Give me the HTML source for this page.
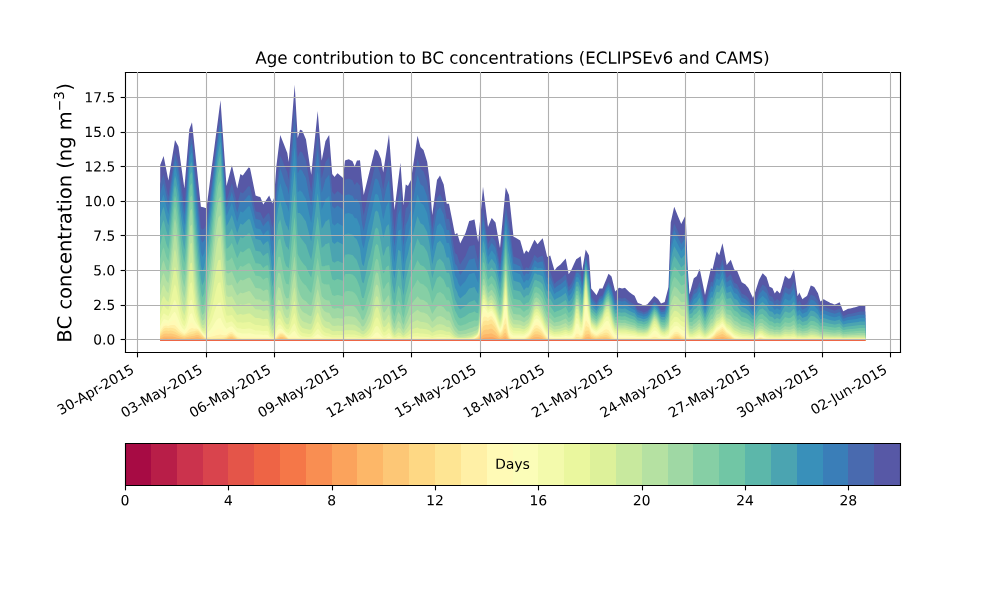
<!DOCTYPE html>
<html><head><meta charset="utf-8"><title>chart</title><style>html,body{margin:0;padding:0;background:#fff;width:1000px;height:600px;overflow:hidden}</style></head><body>
<svg width="1000" height="600" viewBox="0 0 720 432" style="display:block">
<defs>
<style type="text/css">*{stroke-linejoin: round; stroke-linecap: butt}</style>
</defs>
<g id="figure_1">
<g id="patch_1">
<path d="M 0 432 
L 720 432 
L 720 0 
L 0 0 
z
" style="fill: #ffffff"/>
</g>
<g id="axes_1">
<g id="patch_2">
<path d="M 90 253.44 
L 648 253.44 
L 648 51.84 
L 90 51.84 
z
" style="fill: #ffffff"/>
</g><g transform="scale(0.72)"><path d="M160.2 341.00L160.2 164.9L162.2 159.7L163.6 156.1L164.2 159.1L166.2 169.3L168.2 179.4L168.4 180.4L170.2 169.4L172.2 157.1L174.2 144.9L175.0 140.0L176.2 142.3L178.2 146.1L178.5 146.7L180.2 158.7L182.2 172.9L184.2 187.0L184.4 188.4L186.2 166.8L188.2 142.7L189.3 129.5L190.2 127.1L192.0 122.3L192.2 124.2L194.2 143.2L196.2 162.2L198.2 181.2L200.2 200.2L200.9 206.8L202.2 207.1L204.2 207.6L205.2 207.9L206.2 208.0L206.5 208.0L208.2 194.9L210.2 179.5L212.2 164.1L214.2 148.7L216.2 133.3L218.2 117.9L220.2 102.5L220.5 100.2L222.2 124.5L224.2 153.1L226.2 181.7L226.5 186.0L228.2 179.5L230.2 171.7L231.9 165.2L232.2 166.5L234.2 175.3L236.2 184.0L237.2 188.4L238.2 183.9L240.2 174.9L240.4 174.0L242.2 175.2L242.8 175.6L244.2 173.6L246.2 170.7L248.2 167.9L248.4 167.6L250.0 168.0L250.2 169.0L252.2 178.8L254.2 188.7L255.6 195.6L256.2 195.8L258.2 196.5L260.2 197.1L260.4 197.2L262.2 201.7L263.3 204.4L264.2 203.1L266.2 200.1L268.2 197.1L269.2 195.6L270.2 198.1L272.2 203.1L272.4 203.6L274.0 198.0L274.2 195.3L276.2 168.7L276.4 166.0L278.2 151.3L280.2 135.0L282.2 140.1L284.2 145.1L286.2 150.2L287.3 153.0L288.2 158.8L288.7 162.0L290.2 142.7L292.2 116.9L294.2 91.2L294.7 84.8L296.2 111.4L297.7 138.0L298.2 136.2L300.0 129.7L300.2 129.8L302.2 130.5L304.2 135.2L306.0 139.5L306.2 140.9L308.2 154.4L310.2 167.9L311.2 174.7L312.2 164.9L314.2 145.3L316.2 125.7L317.7 111.0L318.2 117.2L320.2 141.9L321.7 160.5L322.2 157.9L324.2 147.7L325.5 141.0L326.2 139.9L328.2 136.6L329.2 135.0L330.2 148.0L332.2 174.0L334.2 176.6L334.5 177.0L336.2 174.8L337.5 173.2L338.2 173.8L340.2 175.5L342.0 177.0L342.2 177.2L343.0 178.0L344.2 167.5L345.0 160.5L346.2 160.1L348.2 159.5L348.7 159.3L350.2 160.1L352.2 161.0L352.5 161.2L354.2 165.3L354.7 166.5L356.2 162.6L357.0 160.5L358.2 160.4L360.0 160.2L360.2 162.2L361.5 175.5L362.2 181.7L363.7 195.0L364.2 193.0L366.2 184.9L368.2 176.8L370.2 168.7L372.2 160.5L374.2 152.4L375.0 149.2L376.2 150.1L378.0 151.5L378.2 152.0L380.2 157.0L381.0 159.0L382.2 166.4L383.2 172.5L384.2 165.9L386.2 152.7L388.2 139.5L389.0 134.2L390.2 150.7L392.2 178.3L394.2 205.9L394.5 210.0L396.2 196.6L398.2 180.8L400.2 165.1L400.5 162.7L402.2 187.0L403.5 205.5L404.2 198.8L405.7 184.5L406.2 184.8L408.0 186.0L408.2 185.6L410.2 181.6L411.0 180.0L412.2 171.8L414.2 158.2L416.2 144.6L417.5 135.7L418.2 138.3L420.2 145.9L420.5 147.0L422.2 148.7L423.5 150.0L424.2 152.3L426.2 158.8L427.2 162.0L428.2 169.8L429.5 180.0L430.2 189.1L432.2 215.0L434.2 200.4L436.2 185.8L437.0 180.0L438.2 178.2L440.0 175.5L440.2 176.0L442.2 180.9L443.7 184.5L444.2 187.7L446.2 200.5L446.7 203.7L448.2 203.7L449.0 203.7L450.2 209.9L452.2 220.1L454.2 230.4L455.0 234.5L456.2 233.7L457.2 233.0L458.2 236.5L460.2 243.5L462.2 239.5L464.2 235.6L465.5 233.0L466.2 230.7L468.2 224.2L469.2 221.0L470.2 220.7L472.2 220.2L474.2 219.6L474.5 219.5L476.2 229.8L478.2 242.0L480.2 219.0L482.2 195.9L483.0 186.7L484.2 196.4L486.2 212.5L488.0 227.0L488.2 226.5L490.2 221.6L491.7 218.0L492.2 218.6L494.2 221.0L495.5 222.5L496.2 226.5L498.2 237.8L500.0 248.0L500.2 245.9L502.2 224.6L504.2 203.4L505.7 187.5L506.2 188.6L508.2 193.2L509.0 195.0L510.2 206.1L512.2 224.7L513.5 236.7L514.2 237.1L516.2 238.1L516.5 238.2L518.2 239.3L520.2 240.5L522.2 247.6L524.0 254.0L524.2 253.7L526.2 250.2L528.2 252.2L528.5 252.5L530.2 248.9L532.2 244.6L534.2 240.3L534.5 239.7L536.2 242.3L537.5 244.2L538.2 243.4L540.2 241.1L542.2 238.8L542.7 238.2L544.2 244.5L546.2 252.8L547.2 257.0L548.2 256.5L550.2 255.5L552.2 262.5L554.2 269.5L554.5 270.5L556.2 268.2L556.7 267.5L558.2 266.3L560.2 264.7L560.5 264.5L562.2 262.5L564.2 260.2L565.7 258.5L566.2 261.1L568.2 271.6L568.7 274.2L570.2 271.8L571.0 270.5L572.2 267.9L574.2 263.5L576.2 259.2L578.2 257.9L580.2 256.5L580.7 256.2L582.2 270.5L584.2 258.5L585.7 249.5L586.2 250.4L588.2 254.0L589.0 255.5L590.2 273.5L591.2 288.5L592.2 289.8L594.2 292.3L596.2 294.8L596.5 295.2L598.2 291.4L599.5 288.5L600.2 288.5L602.2 288.5L602.5 288.5L604.2 284.3L606.2 279.4L608.2 274.5L608.5 273.8L610.2 275.3L611.5 276.5L612.2 279.3L614.2 287.4L615.2 291.5L616.2 290.5L616.7 290.0L618.2 288.5L619.0 287.7L620.2 288.0L622.0 288.5L622.2 288.4L624.2 287.9L625.0 287.7L626.2 288.9L628.2 290.9L629.5 292.2L630.2 292.7L632.2 294.2L634.2 295.6L634.7 296.0L636.2 299.4L637.7 302.7L638.2 302.9L640.2 303.7L641.5 304.2L642.2 304.7L643.7 305.7L644.2 305.5L646.2 304.7L647.5 304.2L648.2 303.3L650.2 300.9L652.2 298.4L654.2 296.0L656.2 297.6L658.0 299.0L658.2 299.3L660.2 302.3L661.0 303.5L662.2 303.0L664.2 302.2L664.7 302.0L666.2 296.1L668.2 288.2L668.5 287.0L670.2 237.2L670.7 222.5L672.2 215.7L674.2 206.7L676.2 211.7L677.5 215.0L678.2 216.7L680.2 221.6L681.2 224.0L682.2 222.0L684.2 218.0L685.7 215.0L686.2 228.1L687.7 267.5L688.2 275.0L689.5 294.5L690.2 291.8L692.2 284.2L693.7 278.5L694.2 278.1L696.2 276.6L696.7 276.2L698.2 272.4L699.7 268.7L700.2 271.2L702.0 280.0L702.2 281.0L704.2 291.0L705.0 295.0L706.2 289.6L708.2 280.6L710.2 271.6L711.0 268.0L712.2 269.2L712.5 269.5L714.2 262.2L716.2 253.6L716.7 251.5L718.2 253.7L719.2 255.2L720.2 251.6L722.2 244.3L722.5 243.2L724.2 252.0L726.2 262.4L726.7 265.0L728.2 263.1L730.2 260.5L730.8 259.7L732.2 263.7L734.2 269.5L736.2 270.5L737.2 271.0L738.2 273.5L740.2 278.5L741.7 282.2L742.2 282.5L744.2 283.7L745.5 284.5L746.2 285.4L748.2 287.8L748.5 288.2L750.2 291.9L752.2 296.3L753.0 298.0L754.2 294.7L755.2 292.0L756.2 288.8L758.2 282.5L759.0 280.0L760.2 277.8L762.2 274.1L762.7 273.2L764.2 274.7L766.2 276.7L766.5 277.0L768.2 282.5L769.5 286.7L770.2 287.1L772.2 288.1L772.5 288.2L774.2 292.3L774.7 293.5L776.2 291.5L777.0 290.5L778.2 291.7L780.0 293.5L780.2 292.8L782.2 285.7L784.2 278.6L785.0 275.8L786.2 276.8L788.2 278.5L788.6 278.8L790.2 278.3L790.4 278.2L792.2 273.7L794.0 269.2L794.2 270.7L795.8 282.4L796.2 285.5L797.6 296.2L798.2 295.0L799.4 292.6L800.2 294.4L802.2 298.8L802.4 299.2L804.2 297.8L806.2 296.4L807.2 295.6L808.2 292.8L810.2 287.1L810.8 285.4L812.2 286.1L814.2 287.1L814.4 287.2L816.2 290.2L818.0 293.2L818.2 293.9L820.2 300.9L820.4 301.6L822.2 300.2L823.4 299.2L824.2 299.6L826.2 300.7L828.2 301.8L830.0 302.8L830.2 302.9L832.2 303.6L834.2 304.4L834.8 304.6L836.2 303.9L838.2 302.9L839.6 302.2L840.2 303.7L842.2 308.7L843.2 311.2L844.2 310.7L846.2 309.7L848.0 308.8L848.2 308.8L850.2 308.4L852.2 308.0L854.0 307.6L854.2 307.5L856.2 306.9L858.2 306.3L860.0 305.8L860.2 305.8L862.2 305.8L864.2 305.8L865.3 305.8L865.3 341.00Z" fill="#5758a6"/><path d="M160.2 341.00L160.2 184.1L162.2 178.1L163.6 174.5L164.2 177.3L166.2 186.9L168.2 195.9L168.4 196.7L170.2 185.2L172.2 171.2L174.2 157.6L175.0 152.9L176.2 155.7L178.2 162.4L178.5 163.4L180.2 177.1L182.2 191.8L184.2 204.9L184.4 206.1L186.2 186.0L188.2 160.2L189.3 144.9L190.2 140.7L192.0 136.5L192.2 138.6L194.2 161.5L196.2 182.0L198.2 201.8L200.2 220.8L200.9 227.5L202.2 229.7L204.2 228.5L205.2 226.5L206.2 224.5L206.5 224.0L208.2 209.4L210.2 194.3L212.2 178.4L214.2 162.0L216.2 145.6L218.2 130.5L220.2 117.0L220.5 115.2L222.2 139.9L224.2 168.7L226.2 196.4L226.5 200.4L228.2 195.2L230.2 188.8L231.9 183.1L232.2 184.3L234.2 192.5L236.2 200.5L237.2 204.5L238.2 200.6L240.2 192.7L240.4 191.9L242.2 193.0L242.8 193.3L244.2 191.6L246.2 189.0L248.2 186.5L248.4 186.2L250.0 186.6L250.2 187.5L252.2 196.3L254.2 205.1L255.6 211.2L256.2 211.4L258.2 212.0L260.2 212.6L260.4 212.6L262.2 216.6L263.3 219.1L264.2 217.9L266.2 215.2L268.2 212.9L269.2 213.4L270.2 217.6L272.2 226.7L272.4 227.6L274.0 221.1L274.2 218.2L276.2 189.0L276.4 186.0L278.2 170.9L280.2 155.7L282.2 160.1L284.2 164.9L286.2 169.7L287.3 172.1L288.2 177.1L288.7 179.8L290.2 161.6L292.2 136.8L294.2 112.6L294.7 106.8L296.2 132.1L297.7 157.4L298.2 156.2L300.0 151.4L300.2 151.5L302.2 152.6L304.2 157.0L306.0 160.8L306.2 162.0L308.2 174.1L310.2 186.0L311.2 192.0L312.2 182.9L314.2 164.5L316.2 146.0L317.7 132.3L318.2 137.9L320.2 160.8L321.7 178.2L322.2 176.1L324.2 167.6L325.5 161.9L326.2 161.0L328.2 158.2L329.2 156.8L330.2 168.4L332.2 191.7L334.2 194.0L334.5 194.4L336.2 192.4L337.5 191.0L338.2 191.5L340.2 193.0L342.0 194.4L342.2 194.5L343.0 195.3L344.2 185.9L345.0 179.6L346.2 179.3L348.2 178.7L348.7 178.5L350.2 179.2L352.2 180.1L352.5 180.2L354.2 183.9L354.7 185.0L356.2 182.9L357.0 182.0L358.2 183.4L360.0 185.5L360.2 187.5L361.5 200.5L362.2 206.1L363.7 215.5L364.2 213.1L366.2 203.5L368.2 194.0L370.2 186.2L372.2 177.9L374.2 169.0L375.0 165.5L376.2 165.8L378.0 167.1L378.2 167.6L380.2 173.5L381.0 175.9L382.2 183.4L383.2 189.4L384.2 183.8L386.2 172.2L388.2 163.6L389.0 160.5L390.2 177.7L392.2 206.3L394.2 228.4L394.5 231.3L396.2 216.4L398.2 199.0L400.2 190.2L400.5 189.0L402.2 213.7L403.5 229.9L404.2 223.2L405.7 208.6L406.2 208.0L408.0 206.0L408.2 205.3L410.2 199.0L411.0 197.6L412.2 190.4L414.2 178.3L416.2 166.3L417.5 158.5L418.2 160.9L420.2 167.6L420.5 168.6L422.2 170.2L423.5 171.3L424.2 173.3L426.2 179.1L427.2 182.0L428.2 188.9L429.5 198.0L430.2 206.0L432.2 229.1L434.2 216.1L436.2 203.1L437.0 198.0L438.2 196.4L440.0 194.0L440.2 194.4L442.2 198.7L443.7 202.0L444.2 204.8L446.2 216.2L446.7 219.0L448.2 219.0L449.0 219.0L450.2 224.8L452.2 236.8L454.2 248.4L455.0 252.9L456.2 253.9L457.2 254.8L458.2 258.7L460.2 264.2L462.2 261.1L464.2 257.9L465.5 255.9L466.2 254.1L468.2 249.0L469.2 246.4L470.2 246.1L472.2 245.6L474.2 244.9L474.5 244.8L476.2 252.7L478.2 261.7L480.2 240.7L482.2 218.3L483.0 209.5L484.2 217.2L486.2 231.4L488.0 244.0L488.2 243.5L490.2 239.4L491.7 236.4L492.2 237.0L494.2 239.6L495.5 241.4L496.2 245.0L498.2 255.2L500.0 264.2L500.2 262.4L502.2 244.5L504.2 222.5L505.7 206.7L506.2 208.8L508.2 219.2L509.0 221.9L510.2 231.6L512.2 246.8L513.5 256.5L514.2 256.8L516.2 257.6L516.5 257.8L518.2 258.6L520.2 259.6L522.2 265.3L524.0 270.4L524.2 270.1L526.2 267.1L528.2 268.3L528.5 268.5L530.2 264.9L532.2 260.3L534.2 255.5L534.5 254.8L536.2 256.4L537.5 258.0L538.2 257.4L540.2 256.4L542.2 255.7L542.7 255.5L544.2 261.4L546.2 268.9L547.2 272.5L548.2 272.2L550.2 271.6L552.2 277.4L554.2 283.0L554.5 283.9L556.2 282.0L556.7 281.5L558.2 280.5L560.2 279.2L560.5 279.1L562.2 277.5L564.2 275.6L565.7 274.2L566.2 276.3L568.2 284.8L568.7 286.9L570.2 284.9L571.0 283.9L572.2 281.6L574.2 276.8L576.2 269.8L578.2 269.1L580.2 271.0L580.7 271.1L582.2 282.4L584.2 267.3L585.7 256.2L586.2 257.5L588.2 265.6L589.0 267.9L590.2 283.7L591.2 296.6L592.2 297.8L594.2 300.2L596.2 302.4L596.5 302.8L598.2 299.5L599.5 296.8L600.2 296.6L602.2 295.7L602.5 295.6L604.2 291.0L606.2 286.1L608.2 282.2L608.5 281.7L610.2 284.4L611.5 286.4L612.2 289.3L614.2 297.0L615.2 300.5L616.2 299.9L616.7 299.5L618.2 298.4L619.0 297.8L620.2 298.0L622.0 298.4L622.2 298.4L624.2 298.0L625.0 297.8L626.2 298.8L628.2 300.4L629.5 301.5L630.2 301.9L632.2 303.1L634.2 304.2L634.7 304.5L636.2 307.2L637.7 310.0L638.2 310.1L640.2 310.8L641.5 311.2L642.2 311.6L643.7 312.4L644.2 312.2L646.2 311.5L647.5 310.9L648.2 310.1L650.2 307.4L652.2 304.3L654.2 301.4L656.2 302.9L658.0 304.9L658.2 305.2L660.2 308.7L661.0 310.0L662.2 309.9L664.2 309.5L664.7 309.3L666.2 304.6L668.2 298.0L668.5 296.8L670.2 253.4L670.7 240.1L672.2 231.6L674.2 223.4L676.2 227.7L677.5 230.5L678.2 232.1L680.2 236.5L681.2 238.7L682.2 237.1L684.2 233.8L685.7 231.3L686.2 242.8L687.7 277.1L688.2 283.8L689.5 301.6L690.2 299.9L692.2 295.1L693.7 290.4L694.2 290.1L696.2 288.6L696.7 288.2L698.2 285.0L699.7 281.9L700.2 283.9L702.0 291.4L702.2 292.2L704.2 300.5L705.0 303.8L706.2 299.4L708.2 292.0L710.2 284.5L711.0 281.4L712.2 282.2L712.5 282.4L714.2 276.2L716.2 268.7L716.7 266.8L718.2 268.3L719.2 269.4L720.2 266.3L722.2 260.1L722.5 259.2L724.2 266.7L726.2 275.6L726.7 277.9L728.2 276.5L730.2 274.8L730.8 274.3L732.2 277.8L734.2 282.8L736.2 283.8L737.2 284.3L738.2 286.4L740.2 290.5L741.7 293.5L742.2 293.8L744.2 294.8L745.5 295.4L746.2 296.1L748.2 298.1L748.5 298.4L750.2 301.4L752.2 304.9L753.0 306.3L754.2 303.6L755.2 301.3L756.2 298.5L758.2 292.8L759.0 290.5L760.2 288.4L762.2 285.2L762.7 284.4L764.2 285.6L766.2 287.3L766.5 287.5L768.2 292.2L769.5 295.7L770.2 296.0L772.2 296.8L772.5 296.9L774.2 300.3L774.7 301.4L776.2 299.7L777.0 298.8L778.2 299.8L780.0 301.4L780.2 300.8L782.2 294.8L784.2 288.9L785.0 286.6L786.2 287.4L788.2 288.8L788.6 289.1L790.2 288.6L790.4 288.6L792.2 284.8L794.0 281.1L794.2 282.3L795.8 292.1L796.2 294.6L797.6 303.6L798.2 302.6L799.4 300.6L800.2 302.1L802.2 305.7L802.4 306.1L804.2 305.0L806.2 303.7L807.2 303.1L808.2 300.7L810.2 296.0L810.8 294.6L812.2 295.2L814.2 296.0L814.4 296.1L816.2 298.6L818.0 301.1L818.2 301.7L820.2 307.5L820.4 308.1L822.2 306.9L823.4 306.1L824.2 306.5L826.2 307.4L828.2 308.3L830.0 309.1L830.2 309.2L832.2 309.8L834.2 310.4L834.8 310.6L836.2 310.0L838.2 309.2L839.6 308.6L840.2 309.9L842.2 314.0L843.2 316.1L844.2 315.7L846.2 314.9L848.0 314.1L848.2 314.1L850.2 313.8L852.2 313.4L854.0 313.1L854.2 313.1L856.2 312.6L858.2 312.1L860.0 311.6L860.2 311.6L862.2 311.6L864.2 311.6L865.3 311.6L865.3 341.00Z" fill="#496aaf"/><path d="M160.2 341.00L160.2 193.6L162.2 187.1L163.6 183.6L164.2 186.2L166.2 195.6L168.2 204.0L168.4 204.7L170.2 193.0L172.2 178.1L174.2 163.9L175.0 159.2L176.2 162.4L178.2 170.4L178.5 171.7L180.2 186.2L182.2 201.1L184.2 213.7L184.4 214.9L186.2 195.4L188.2 168.9L189.3 152.5L190.2 147.4L192.0 143.5L192.2 145.8L194.2 170.5L196.2 191.8L198.2 212.5L200.2 232.1L200.9 239.0L202.2 242.7L204.2 240.2L205.2 236.5L206.2 233.1L206.5 232.2L208.2 216.4L210.2 201.5L212.2 185.4L214.2 168.4L216.2 151.6L218.2 136.6L220.2 124.1L220.5 122.5L222.2 147.4L224.2 176.2L226.2 203.5L226.5 207.5L228.2 202.9L230.2 197.0L231.9 191.8L232.2 193.0L234.2 200.8L236.2 208.6L237.2 212.4L238.2 208.7L240.2 201.3L240.4 200.6L242.2 201.6L242.8 202.0L244.2 200.3L246.2 197.9L248.2 195.5L248.4 195.3L250.0 195.6L250.2 196.4L252.2 204.7L254.2 213.0L255.6 218.8L256.2 219.0L258.2 219.5L260.2 220.1L260.4 220.2L262.2 223.9L263.3 226.2L264.2 225.1L266.2 222.6L268.2 220.6L269.2 222.4L270.2 227.9L272.2 240.1L272.4 241.4L274.0 234.0L274.2 230.8L276.2 199.2L276.4 196.0L278.2 181.2L280.2 168.2L282.2 173.9L284.2 180.4L286.2 185.7L287.3 187.8L288.2 192.1L288.7 194.4L290.2 177.1L292.2 153.0L294.2 130.2L294.7 125.0L296.2 149.0L297.7 173.3L298.2 172.5L300.0 169.1L300.2 169.3L302.2 170.8L304.2 174.8L306.0 178.3L306.2 179.4L308.2 190.2L310.2 200.9L311.2 206.1L312.2 197.7L314.2 180.3L316.2 162.6L317.7 149.7L318.2 154.9L320.2 176.3L321.7 192.7L322.2 191.0L324.2 183.9L325.5 179.0L326.2 178.3L328.2 175.9L329.2 174.6L330.2 185.2L332.2 206.2L334.2 208.3L334.5 208.6L336.2 206.8L337.5 205.5L338.2 206.0L340.2 207.4L342.0 208.6L342.2 208.7L343.0 209.4L344.2 200.9L345.0 195.3L346.2 195.0L348.2 194.4L348.7 194.3L350.2 194.9L352.2 195.7L352.5 195.8L354.2 199.1L354.7 200.1L356.2 199.2L357.0 199.1L358.2 201.3L360.0 204.8L360.2 206.8L361.5 219.2L362.2 224.3L363.7 231.1L364.2 228.6L366.2 218.3L368.2 208.1L370.2 200.6L372.2 192.1L374.2 182.6L375.0 178.9L376.2 178.6L378.0 179.9L378.2 180.4L380.2 187.0L381.0 189.8L382.2 197.3L383.2 203.3L384.2 198.4L386.2 188.0L388.2 181.8L389.0 180.0L390.2 197.1L392.2 225.4L394.2 244.2L394.5 246.3L396.2 231.3L398.2 213.9L400.2 208.9L400.5 208.3L402.2 232.2L403.5 246.4L404.2 239.8L405.7 225.1L406.2 224.0L408.0 220.0L408.2 219.2L410.2 211.6L411.0 210.3L412.2 203.7L414.2 192.8L416.2 181.9L417.5 174.9L418.2 177.1L420.2 183.3L420.5 184.2L422.2 185.6L423.5 186.6L424.2 188.5L426.2 193.7L427.2 196.3L428.2 202.7L429.5 210.9L430.2 218.2L432.2 239.2L434.2 227.4L436.2 215.6L437.0 210.9L438.2 209.4L440.0 207.2L440.2 207.6L442.2 211.6L443.7 214.5L444.2 217.1L446.2 227.4L446.7 230.0L448.2 230.0L449.0 230.0L450.2 235.4L452.2 247.4L454.2 259.0L455.0 263.4L456.2 265.0L457.2 266.4L458.2 270.3L460.2 275.0L462.2 272.3L464.2 269.7L465.5 267.9L466.2 266.4L468.2 261.9L469.2 259.7L470.2 259.4L472.2 258.9L474.2 258.2L474.5 258.1L476.2 264.7L478.2 271.9L480.2 250.8L482.2 227.6L483.0 218.6L484.2 224.9L486.2 238.1L488.0 249.9L488.2 249.5L490.2 245.6L491.7 242.9L492.2 243.5L494.2 246.1L495.5 248.0L496.2 251.5L498.2 261.3L500.0 269.9L500.2 268.3L502.2 251.5L504.2 229.3L505.7 213.5L506.2 215.9L508.2 228.3L509.0 231.3L510.2 240.5L512.2 254.5L513.5 263.5L514.2 263.8L516.2 264.5L516.5 264.6L518.2 265.4L520.2 266.3L522.2 271.5L524.0 276.1L524.2 275.9L526.2 273.0L528.2 274.0L528.5 274.1L530.2 270.5L532.2 265.8L534.2 260.9L534.5 260.1L536.2 261.3L537.5 262.8L538.2 262.4L540.2 261.8L542.2 261.6L542.7 261.6L544.2 267.4L546.2 274.6L547.2 278.0L548.2 277.8L550.2 277.3L552.2 282.6L554.2 287.8L554.5 288.6L556.2 286.9L556.7 286.4L558.2 285.5L560.2 284.3L560.5 284.2L562.2 282.7L564.2 280.9L565.7 279.6L566.2 281.5L568.2 289.2L568.7 291.2L570.2 289.3L571.0 288.4L572.2 286.2L574.2 281.2L576.2 273.3L578.2 272.7L580.2 275.7L580.7 275.9L582.2 286.2L584.2 270.1L585.7 258.3L586.2 259.7L588.2 269.2L589.0 271.7L590.2 286.9L591.2 299.1L592.2 300.3L594.2 302.6L596.2 304.8L596.5 305.1L598.2 301.9L599.5 299.3L600.2 299.0L602.2 297.9L602.5 297.7L604.2 293.1L606.2 288.0L608.2 284.5L608.5 284.1L610.2 287.1L611.5 289.4L612.2 292.3L614.2 299.8L615.2 303.3L616.2 302.7L616.7 302.4L618.2 301.4L619.0 300.8L620.2 301.0L622.0 301.4L622.2 301.4L624.2 301.0L625.0 300.8L626.2 301.7L628.2 303.2L629.5 304.2L630.2 304.6L632.2 305.7L634.2 306.8L634.7 307.1L636.2 309.6L637.7 312.1L638.2 312.3L640.2 312.9L641.5 313.3L642.2 313.6L643.7 314.4L644.2 314.2L646.2 313.5L647.5 312.9L648.2 312.1L650.2 309.3L652.2 306.1L654.2 303.0L656.2 304.5L658.0 306.6L658.2 307.0L660.2 310.6L661.0 311.9L662.2 311.9L664.2 311.6L664.7 311.5L666.2 307.1L668.2 300.9L668.5 299.8L670.2 258.8L670.7 246.1L672.2 237.5L674.2 229.7L676.2 233.7L677.5 236.4L678.2 237.8L680.2 242.1L681.2 244.3L682.2 242.8L684.2 239.8L685.7 237.4L686.2 248.3L687.7 280.6L688.2 287.1L689.5 304.2L690.2 302.8L692.2 298.9L693.7 294.6L694.2 294.3L696.2 292.8L696.7 292.4L698.2 289.3L699.7 286.5L700.2 288.4L702.0 295.3L702.2 296.1L704.2 303.8L705.0 306.8L706.2 302.8L708.2 295.9L710.2 289.0L711.0 286.1L712.2 286.8L712.5 286.9L714.2 281.0L716.2 273.9L716.7 272.1L718.2 273.4L719.2 274.4L720.2 271.4L722.2 265.6L722.5 264.8L724.2 271.8L726.2 280.2L726.7 282.3L728.2 281.2L730.2 279.8L730.8 279.4L732.2 282.7L734.2 287.5L736.2 288.5L737.2 288.9L738.2 290.8L740.2 294.6L741.7 297.4L742.2 297.7L744.2 298.6L745.5 299.2L746.2 299.8L748.2 301.7L748.5 301.9L750.2 304.7L752.2 307.9L753.0 309.2L754.2 306.7L755.2 304.6L756.2 302.0L758.2 296.9L759.0 294.8L760.2 293.0L762.2 290.4L762.7 289.8L764.2 291.2L766.2 292.9L766.5 293.1L768.2 297.3L769.5 300.4L770.2 300.7L772.2 301.5L772.5 301.6L774.2 304.6L774.7 305.5L776.2 304.1L777.0 303.3L778.2 304.2L780.0 305.5L780.2 305.0L782.2 299.7L784.2 294.4L785.0 292.3L786.2 293.1L788.2 294.3L788.6 294.5L790.2 294.2L790.4 294.1L792.2 290.7L794.0 287.4L794.2 288.5L795.8 297.2L796.2 299.5L797.6 307.5L798.2 306.6L799.4 304.9L800.2 306.2L802.2 309.5L802.4 309.8L804.2 308.8L806.2 307.7L807.2 307.1L808.2 305.0L810.2 300.7L810.8 299.5L812.2 300.0L814.2 300.7L814.4 300.8L816.2 303.1L818.0 305.3L818.2 305.8L820.2 311.1L820.4 311.6L822.2 310.5L823.4 309.8L824.2 310.1L826.2 310.9L828.2 311.7L830.0 312.5L830.2 312.5L832.2 313.1L834.2 313.6L834.8 313.8L836.2 313.3L838.2 312.5L839.6 312.0L840.2 313.1L842.2 316.9L843.2 318.7L844.2 318.4L846.2 317.6L848.0 317.0L848.2 316.9L850.2 316.6L852.2 316.3L854.0 316.1L854.2 316.0L856.2 315.6L858.2 315.1L860.0 314.7L860.2 314.7L862.2 314.7L864.2 314.7L865.3 314.7L865.3 341.00Z" fill="#3a7eb8"/><path d="M160.2 341.00L160.2 204.8L162.2 198.0L163.6 194.4L164.2 196.9L166.2 206.0L168.2 213.7L168.4 214.3L170.2 202.3L172.2 186.4L174.2 171.4L175.0 166.8L176.2 170.3L178.2 179.9L178.5 181.6L180.2 197.0L182.2 212.2L184.2 224.3L184.4 225.3L186.2 206.7L188.2 179.2L189.3 161.6L190.2 155.4L192.0 151.8L192.2 154.3L194.2 181.2L196.2 203.6L198.2 225.1L200.2 245.0L200.9 251.9L202.2 257.0L204.2 253.4L205.2 248.1L206.2 243.3L206.5 241.9L208.2 224.9L210.2 210.3L212.2 193.9L214.2 176.3L216.2 159.0L218.2 144.0L220.2 132.8L220.5 131.4L222.2 156.6L224.2 185.5L226.2 212.2L226.5 216.0L228.2 212.2L230.2 207.1L231.9 202.5L232.2 203.6L234.2 211.0L236.2 218.4L237.2 222.0L238.2 218.6L240.2 211.8L240.4 211.2L242.2 212.2L242.8 212.5L244.2 211.0L246.2 208.8L248.2 206.5L248.4 206.3L250.0 206.6L250.2 207.4L252.2 215.1L254.2 222.7L255.6 228.1L256.2 228.2L258.2 228.7L260.2 229.3L260.4 229.3L262.2 232.8L263.3 234.9L264.2 233.9L266.2 231.5L268.2 230.0L269.2 233.2L270.2 239.9L272.2 255.0L272.4 256.7L274.0 248.6L274.2 245.2L276.2 211.4L276.4 208.1L278.2 193.7L280.2 183.3L282.2 190.5L284.2 198.7L286.2 204.6L287.3 206.3L288.2 209.9L288.7 211.7L290.2 195.4L292.2 172.3L294.2 151.0L294.7 146.4L296.2 169.1L297.7 192.2L298.2 191.9L300.0 190.1L300.2 190.4L302.2 192.2L304.2 195.9L306.0 199.0L306.2 199.9L308.2 209.3L310.2 218.5L311.2 222.8L312.2 215.2L314.2 199.0L316.2 182.2L317.7 170.4L318.2 175.0L320.2 194.6L321.7 209.9L322.2 208.6L324.2 203.2L325.5 199.3L326.2 198.7L328.2 196.9L329.2 195.8L330.2 205.0L332.2 223.3L334.2 225.2L334.5 225.4L336.2 223.9L337.5 222.7L338.2 223.2L340.2 224.4L342.0 225.4L342.2 225.6L343.0 226.1L344.2 218.7L345.0 213.8L346.2 213.5L348.2 213.1L348.7 213.0L350.2 213.5L352.2 214.2L352.5 214.3L354.2 217.2L354.7 218.0L356.2 218.2L357.0 218.8L358.2 221.8L360.0 226.3L360.2 228.1L361.5 239.6L362.2 244.1L363.7 248.4L364.2 245.9L366.2 235.4L368.2 224.8L370.2 217.7L372.2 208.9L374.2 198.7L375.0 194.7L376.2 193.8L378.0 195.0L378.2 195.6L380.2 203.0L381.0 206.2L382.2 213.9L383.2 219.7L384.2 215.8L386.2 206.6L388.2 202.7L389.0 201.8L390.2 218.3L392.2 245.6L394.2 261.0L394.5 262.5L396.2 248.0L398.2 231.1L400.2 229.6L400.5 229.6L402.2 251.7L403.5 263.7L404.2 257.4L405.7 243.4L406.2 241.7L408.0 236.2L408.2 235.2L410.2 226.4L411.0 225.4L412.2 219.6L414.2 210.1L416.2 200.5L417.5 194.3L418.2 196.3L420.2 201.9L420.5 202.7L422.2 203.9L423.5 204.8L424.2 206.5L426.2 211.1L427.2 213.4L428.2 219.0L429.5 226.2L430.2 232.7L432.2 251.2L434.2 240.8L436.2 230.4L437.0 226.2L438.2 224.9L440.0 223.0L440.2 223.4L442.2 226.8L443.7 229.4L444.2 231.7L446.2 240.8L446.7 243.1L448.2 243.1L449.0 243.1L450.2 248.0L452.2 259.8L454.2 271.0L455.0 275.3L456.2 277.4L457.2 279.2L458.2 282.9L460.2 286.8L462.2 284.6L464.2 282.4L465.5 280.9L466.2 279.6L468.2 276.0L469.2 274.1L470.2 273.9L472.2 273.3L474.2 272.6L474.5 272.4L476.2 277.7L478.2 283.0L480.2 262.1L482.2 238.2L483.0 229.0L484.2 233.9L486.2 245.9L488.0 256.9L488.2 256.5L490.2 252.9L491.7 250.4L492.2 251.0L494.2 253.8L495.5 255.8L496.2 259.1L498.2 268.5L500.0 276.5L500.2 275.1L502.2 259.7L504.2 237.1L505.7 221.4L506.2 224.2L508.2 239.0L509.0 242.4L510.2 250.9L512.2 263.6L513.5 271.6L514.2 271.9L516.2 272.6L516.5 272.7L518.2 273.4L520.2 274.1L522.2 278.8L524.0 282.9L524.2 282.6L526.2 279.9L528.2 280.6L528.5 280.6L530.2 277.1L532.2 272.3L534.2 267.1L534.5 266.4L536.2 267.1L537.5 268.5L538.2 268.2L540.2 268.1L542.2 268.6L542.7 268.7L544.2 274.3L546.2 281.2L547.2 284.3L548.2 284.2L550.2 283.9L552.2 288.7L554.2 293.4L554.5 294.1L556.2 292.6L556.7 292.1L558.2 291.4L560.2 290.3L560.5 290.1L562.2 288.7L564.2 287.1L565.7 285.9L566.2 287.6L568.2 294.5L568.7 296.2L570.2 294.5L571.0 293.6L572.2 291.6L574.2 286.3L576.2 277.3L578.2 277.0L580.2 281.2L580.7 281.5L582.2 290.7L584.2 273.4L585.7 260.7L586.2 262.3L588.2 273.5L589.0 276.3L590.2 290.6L591.2 302.0L592.2 303.2L594.2 305.4L596.2 307.5L596.5 307.7L598.2 304.8L599.5 302.2L600.2 301.8L602.2 300.4L602.5 300.2L604.2 295.4L606.2 290.4L608.2 287.1L608.5 286.8L610.2 290.2L611.5 292.9L612.2 295.8L614.2 303.2L615.2 306.4L616.2 306.0L616.7 305.7L618.2 304.8L619.0 304.3L620.2 304.6L622.0 304.9L622.2 304.9L624.2 304.5L625.0 304.4L626.2 305.2L628.2 306.6L629.5 307.5L630.2 307.8L632.2 308.8L634.2 309.8L634.7 310.1L636.2 312.4L637.7 314.7L638.2 314.8L640.2 315.4L641.5 315.7L642.2 316.0L643.7 316.7L644.2 316.6L646.2 315.9L647.5 315.2L648.2 314.4L650.2 311.6L652.2 308.1L654.2 304.9L656.2 306.3L658.0 308.7L658.2 309.1L660.2 312.9L661.0 314.2L662.2 314.3L664.2 314.2L664.7 314.1L666.2 310.1L668.2 304.4L668.5 303.3L670.2 265.2L670.7 253.3L672.2 244.8L674.2 237.4L676.2 241.0L677.5 243.5L678.2 244.9L680.2 248.9L681.2 251.0L682.2 249.7L684.2 247.0L685.7 244.9L686.2 255.0L687.7 285.0L688.2 291.0L689.5 307.2L690.2 306.1L692.2 303.3L693.7 299.4L694.2 299.0L696.2 297.6L696.7 297.2L698.2 294.3L699.7 291.8L700.2 293.5L702.0 299.9L702.2 300.6L704.2 307.6L705.0 310.3L706.2 306.7L708.2 300.5L710.2 294.1L711.0 291.5L712.2 292.0L712.5 292.1L714.2 286.6L716.2 279.9L716.7 278.2L718.2 279.3L719.2 280.1L720.2 277.3L722.2 271.9L722.5 271.2L724.2 277.7L726.2 285.5L726.7 287.5L728.2 286.6L730.2 285.5L730.8 285.2L732.2 288.4L734.2 292.8L736.2 293.8L737.2 294.2L738.2 296.0L740.2 299.4L741.7 302.0L742.2 302.2L744.2 303.0L745.5 303.5L746.2 304.1L748.2 305.8L748.5 306.0L750.2 308.5L752.2 311.3L753.0 312.5L754.2 310.2L755.2 308.3L756.2 306.1L758.2 301.5L759.0 299.7L760.2 298.2L762.2 296.2L762.7 295.8L764.2 297.4L766.2 299.1L766.5 299.3L768.2 302.9L769.5 305.7L770.2 305.9L772.2 306.6L772.5 306.7L774.2 309.3L774.7 310.1L776.2 308.8L777.0 308.2L778.2 308.9L780.0 310.1L780.2 309.7L782.2 305.0L784.2 300.4L785.0 298.6L786.2 299.3L788.2 300.3L788.6 300.6L790.2 300.2L790.4 300.2L792.2 297.2L794.0 294.3L794.2 295.3L795.8 302.9L796.2 304.9L797.6 311.9L798.2 311.1L799.4 309.5L800.2 310.7L802.2 313.5L802.4 313.8L804.2 312.9L806.2 312.0L807.2 311.5L808.2 309.6L810.2 306.0L810.8 304.8L812.2 305.3L814.2 306.0L814.4 306.0L816.2 308.0L818.0 309.9L818.2 310.4L820.2 314.9L820.4 315.4L822.2 314.4L823.4 313.8L824.2 314.1L826.2 314.8L828.2 315.5L830.0 316.2L830.2 316.2L832.2 316.7L834.2 317.2L834.8 317.3L836.2 316.9L838.2 316.2L839.6 315.8L840.2 316.7L842.2 320.0L843.2 321.6L844.2 321.3L846.2 320.6L848.0 320.1L848.2 320.0L850.2 319.8L852.2 319.5L854.0 319.3L854.2 319.2L856.2 318.9L858.2 318.5L860.0 318.1L860.2 318.1L862.2 318.1L864.2 318.1L865.3 318.1L865.3 341.00Z" fill="#3990ba"/><path d="M160.2 341.00L160.2 217.6L162.2 210.2L163.6 206.7L164.2 209.1L166.2 217.8L168.2 224.7L168.4 225.2L170.2 212.9L172.2 195.8L174.2 179.9L175.0 175.5L176.2 179.4L178.2 190.8L178.5 192.8L180.2 209.3L182.2 224.8L184.2 236.2L184.4 237.1L186.2 219.5L188.2 191.0L189.3 172.0L190.2 164.6L192.0 161.4L192.2 164.0L194.2 193.5L196.2 216.8L198.2 238.9L200.2 258.8L200.9 265.6L202.2 271.6L204.2 267.3L205.2 260.8L206.2 254.6L206.5 252.9L208.2 234.9L210.2 220.5L212.2 203.8L214.2 185.5L216.2 167.5L218.2 152.8L220.2 142.8L220.5 141.8L222.2 167.3L224.2 196.2L226.2 222.3L226.5 226.0L228.2 223.1L230.2 218.8L231.9 214.8L232.2 215.9L234.2 222.8L236.2 229.7L237.2 233.1L238.2 230.1L240.2 224.1L240.4 223.4L242.2 224.4L242.8 224.7L244.2 223.3L246.2 221.3L248.2 219.3L248.4 219.1L250.0 219.4L250.2 220.1L252.2 227.0L254.2 234.0L255.6 238.8L256.2 238.9L258.2 239.4L260.2 239.9L260.4 239.9L262.2 243.1L263.3 245.0L264.2 244.0L266.2 241.9L268.2 240.9L269.2 245.4L270.2 253.3L272.2 270.5L272.4 272.3L274.0 264.0L274.2 260.6L276.2 225.4L276.4 221.9L278.2 208.2L280.2 200.6L282.2 209.2L284.2 219.1L286.2 225.3L287.3 226.6L288.2 229.4L288.7 230.7L290.2 215.6L292.2 193.4L294.2 173.8L294.7 170.0L296.2 191.1L297.7 212.8L298.2 213.1L300.0 213.1L300.2 213.5L302.2 215.8L304.2 219.1L306.0 221.6L306.2 222.4L308.2 230.3L310.2 237.7L311.2 241.2L312.2 234.4L314.2 219.5L316.2 203.8L317.7 193.0L318.2 197.0L320.2 214.7L321.7 228.8L322.2 228.0L324.2 224.4L325.5 221.5L326.2 221.2L328.2 219.8L329.2 219.0L330.2 226.7L332.2 242.1L334.2 243.7L334.5 243.9L336.2 242.6L337.5 241.6L338.2 242.0L340.2 243.0L342.0 243.9L342.2 244.0L343.0 244.5L344.2 238.3L345.0 234.1L346.2 233.9L348.2 233.5L348.7 233.4L350.2 233.9L352.2 234.5L352.5 234.5L354.2 237.0L354.7 237.7L356.2 238.8L357.0 239.9L358.2 243.3L360.0 248.4L360.2 250.0L361.5 260.2L362.2 263.9L363.7 266.3L364.2 263.8L366.2 253.6L368.2 243.1L370.2 236.4L372.2 227.4L374.2 216.4L375.0 212.0L376.2 210.5L378.0 211.7L378.2 212.3L380.2 220.6L381.0 224.2L382.2 232.0L383.2 237.7L384.2 234.8L386.2 227.0L388.2 224.6L389.0 224.5L390.2 239.9L392.2 265.3L394.2 277.7L394.5 278.6L396.2 265.4L398.2 249.7L400.2 250.9L400.5 251.3L402.2 270.9L403.5 280.5L404.2 274.9L405.7 262.0L406.2 260.1L408.0 253.4L408.2 252.4L410.2 243.0L411.0 242.1L412.2 237.2L414.2 229.2L416.2 221.1L417.5 215.9L418.2 217.7L420.2 222.5L420.5 223.2L422.2 224.2L423.5 225.0L424.2 226.4L426.2 230.3L427.2 232.3L428.2 237.1L429.5 243.2L430.2 248.8L432.2 264.5L434.2 255.6L436.2 246.8L437.0 243.2L438.2 242.2L440.0 240.5L440.2 240.8L442.2 243.8L443.7 246.0L444.2 247.9L446.2 255.7L446.7 257.6L448.2 257.6L449.0 257.6L450.2 261.9L452.2 273.2L454.2 283.7L455.0 287.7L456.2 290.1L457.2 292.1L458.2 295.5L460.2 298.5L462.2 296.8L464.2 295.1L465.5 293.9L466.2 292.9L468.2 290.0L469.2 288.6L470.2 288.3L472.2 287.8L474.2 287.0L474.5 286.8L476.2 290.6L478.2 294.1L480.2 273.8L482.2 249.5L483.0 240.2L484.2 243.6L486.2 254.4L488.0 264.5L488.2 264.2L490.2 260.8L491.7 258.7L492.2 259.3L494.2 262.2L495.5 264.3L496.2 267.5L498.2 276.4L500.0 283.8L500.2 282.5L502.2 268.6L504.2 245.7L505.7 230.1L506.2 233.2L508.2 250.7L509.0 254.5L510.2 262.4L512.2 273.6L513.5 280.6L514.2 280.8L516.2 281.4L516.5 281.5L518.2 282.1L520.2 282.7L522.2 286.7L524.0 290.3L524.2 290.0L526.2 287.5L528.2 287.8L528.5 287.8L530.2 284.3L532.2 279.4L534.2 274.0L534.5 273.2L536.2 273.5L537.5 274.7L538.2 274.5L540.2 275.0L542.2 276.2L542.7 276.5L544.2 282.0L546.2 288.4L547.2 291.3L548.2 291.3L550.2 291.2L552.2 295.4L554.2 299.5L554.5 300.2L556.2 298.8L556.7 298.4L558.2 297.8L560.2 296.8L560.5 296.7L562.2 295.4L564.2 293.9L565.7 292.8L566.2 294.2L568.2 300.2L568.7 301.7L570.2 300.2L571.0 299.3L572.2 297.5L574.2 291.9L576.2 281.8L578.2 281.7L580.2 287.2L580.7 287.7L582.2 295.6L584.2 277.0L585.7 263.4L586.2 265.2L588.2 278.1L589.0 281.2L590.2 294.7L591.2 305.2L592.2 306.3L594.2 308.5L596.2 310.4L596.5 310.7L598.2 307.9L599.5 305.4L600.2 304.9L602.2 303.2L602.5 302.9L604.2 298.0L606.2 292.9L608.2 290.1L608.5 289.9L610.2 293.7L611.5 296.7L612.2 299.6L614.2 306.8L615.2 309.9L616.2 309.6L616.7 309.4L618.2 308.6L619.0 308.2L620.2 308.4L622.0 308.7L622.2 308.7L624.2 308.4L625.0 308.2L626.2 309.0L628.2 310.2L629.5 311.0L630.2 311.3L632.2 312.2L634.2 313.1L634.7 313.3L636.2 315.4L637.7 317.5L638.2 317.6L640.2 318.1L641.5 318.4L642.2 318.7L643.7 319.3L644.2 319.1L646.2 318.5L647.5 317.8L648.2 317.0L650.2 314.0L652.2 310.4L654.2 307.0L656.2 308.4L658.0 311.0L658.2 311.4L660.2 315.3L661.0 316.7L662.2 317.0L664.2 317.0L664.7 316.9L666.2 313.3L668.2 308.2L668.5 307.2L670.2 272.5L670.7 261.5L672.2 253.2L674.2 246.3L676.2 249.4L677.5 251.7L678.2 253.0L680.2 256.9L681.2 258.8L682.2 257.7L684.2 255.4L685.7 253.6L686.2 262.7L687.7 290.1L688.2 295.7L689.5 310.7L690.2 310.0L692.2 308.1L693.7 304.6L694.2 304.3L696.2 302.8L696.7 302.4L698.2 299.8L699.7 297.5L700.2 299.1L702.0 304.8L702.2 305.5L704.2 311.7L705.0 314.1L706.2 310.9L708.2 305.5L710.2 299.7L711.0 297.3L712.2 297.7L712.5 297.8L714.2 292.6L716.2 286.4L716.7 284.9L718.2 285.6L719.2 286.2L720.2 283.7L722.2 278.8L722.5 278.1L724.2 284.1L726.2 291.3L726.7 293.1L728.2 292.5L730.2 291.8L730.8 291.5L732.2 294.5L734.2 298.6L736.2 299.6L737.2 300.0L738.2 301.6L740.2 304.7L741.7 306.9L742.2 307.1L744.2 307.8L745.5 308.3L746.2 308.8L748.2 310.2L748.5 310.4L750.2 312.6L752.2 315.1L753.0 316.1L754.2 314.1L755.2 312.4L756.2 310.5L758.2 306.5L759.0 304.9L760.2 303.7L762.2 302.3L762.7 302.1L764.2 303.8L766.2 305.4L766.5 305.6L768.2 308.8L769.5 311.1L770.2 311.3L772.2 311.8L772.5 311.9L774.2 314.2L774.7 314.8L776.2 313.8L777.0 313.2L778.2 313.9L780.0 314.8L780.2 314.5L782.2 310.6L784.2 306.7L785.0 305.1L786.2 305.6L788.2 306.6L788.6 306.7L790.2 306.5L790.4 306.4L792.2 303.9L794.0 301.5L794.2 302.3L795.8 308.7L796.2 310.4L797.6 316.3L798.2 315.7L799.4 314.3L800.2 315.3L802.2 317.7L802.4 318.0L804.2 317.2L806.2 316.4L807.2 316.0L808.2 314.4L810.2 311.3L810.8 310.4L812.2 310.8L814.2 311.3L814.4 311.4L816.2 313.0L818.0 314.7L818.2 315.1L820.2 318.9L820.4 319.3L822.2 318.5L823.4 318.0L824.2 318.2L826.2 318.8L828.2 319.4L830.0 320.0L830.2 320.0L832.2 320.4L834.2 320.8L834.8 321.0L836.2 320.6L838.2 320.0L839.6 319.6L840.2 320.5L842.2 323.2L843.2 324.6L844.2 324.3L846.2 323.8L848.0 323.3L848.2 323.2L850.2 323.0L852.2 322.8L854.0 322.6L854.2 322.6L856.2 322.2L858.2 321.9L860.0 321.6L860.2 321.6L862.2 321.6L864.2 321.6L865.3 321.6L865.3 341.00Z" fill="#4ba4b1"/><path d="M160.2 341.00L160.2 231.4L162.2 223.4L163.6 219.9L164.2 222.1L166.2 230.5L168.2 236.6L168.4 236.9L170.2 224.3L172.2 206.0L174.2 189.3L175.0 185.0L176.2 189.2L178.2 202.6L178.5 204.9L180.2 222.6L182.2 238.4L184.2 249.0L184.4 249.8L186.2 233.3L188.2 203.7L189.3 183.3L190.2 174.6L192.0 171.8L192.2 174.7L194.2 206.7L196.2 231.0L198.2 253.3L200.2 272.5L200.9 278.9L202.2 285.4L204.2 280.9L205.2 273.7L206.2 266.7L206.5 264.6L208.2 245.9L210.2 231.8L212.2 214.9L214.2 195.8L216.2 177.2L218.2 162.6L220.2 154.2L220.5 153.5L222.2 179.2L224.2 208.2L226.2 233.5L226.5 237.0L228.2 235.1L230.2 231.7L231.9 228.4L232.2 229.4L234.2 235.9L236.2 242.2L237.2 245.3L238.2 242.8L240.2 237.5L240.4 237.0L242.2 237.9L242.8 238.2L244.2 237.0L246.2 235.2L248.2 233.4L248.4 233.3L250.0 233.5L250.2 234.1L252.2 240.2L254.2 246.4L255.6 250.7L256.2 250.8L258.2 251.2L260.2 251.6L260.4 251.7L262.2 254.4L263.3 256.1L264.2 255.3L266.2 253.4L268.2 252.8L269.2 258.6L270.2 267.2L272.2 285.4L272.4 287.3L274.0 279.2L274.2 275.8L276.2 240.5L276.4 236.8L278.2 224.1L280.2 219.3L282.2 228.9L284.2 240.0L286.2 246.4L287.3 247.3L288.2 249.2L288.7 250.0L290.2 236.1L292.2 215.0L294.2 197.1L294.7 194.0L296.2 213.6L297.7 233.9L298.2 234.8L300.0 236.6L300.2 237.0L302.2 239.7L304.2 242.6L306.0 244.7L306.2 245.3L308.2 251.6L310.2 257.3L311.2 259.9L312.2 253.9L314.2 240.3L316.2 225.8L317.7 216.2L318.2 219.5L320.2 235.2L321.7 248.0L322.2 247.6L324.2 245.9L325.5 244.1L326.2 244.0L328.2 243.2L329.2 242.5L330.2 248.8L332.2 261.2L334.2 262.5L334.5 262.7L336.2 261.6L337.5 260.9L338.2 261.1L340.2 261.9L342.0 262.7L342.2 262.8L343.0 263.1L344.2 258.1L345.0 254.8L346.2 254.6L348.2 254.3L348.7 254.2L350.2 254.6L352.2 255.0L352.5 255.1L354.2 257.1L354.7 257.7L356.2 259.3L357.0 260.8L358.2 264.2L360.0 269.4L360.2 270.8L361.5 279.3L362.2 282.3L363.7 283.2L364.2 281.0L366.2 271.7L368.2 261.7L370.2 255.4L372.2 246.2L374.2 234.4L375.0 229.8L376.2 227.5L378.0 228.7L378.2 229.3L380.2 238.5L381.0 242.6L382.2 250.4L383.2 256.0L384.2 254.1L386.2 247.7L388.2 246.0L389.0 246.4L390.2 260.1L392.2 283.1L394.2 292.9L394.5 293.5L396.2 282.0L398.2 268.2L400.2 271.2L400.5 271.7L402.2 288.2L403.5 295.6L404.2 290.8L405.7 279.6L406.2 277.6L408.0 270.6L408.2 269.6L410.2 260.1L411.0 259.4L412.2 255.5L414.2 248.9L416.2 242.5L417.5 238.3L418.2 239.8L420.2 243.9L420.5 244.5L422.2 245.3L423.5 245.9L424.2 247.1L426.2 250.3L427.2 251.9L428.2 255.8L429.5 260.9L430.2 265.4L432.2 278.3L434.2 271.0L436.2 263.8L437.0 260.9L438.2 260.0L440.0 258.6L440.2 258.9L442.2 261.3L443.7 263.1L444.2 264.7L446.2 271.1L446.7 272.7L448.2 272.7L449.0 272.7L450.2 276.3L452.2 286.7L454.2 296.1L455.0 299.6L456.2 302.1L457.2 304.2L458.2 307.1L460.2 309.4L462.2 308.1L464.2 306.8L465.5 305.9L466.2 305.2L468.2 303.0L469.2 301.9L470.2 301.7L472.2 301.1L474.2 300.2L474.5 300.1L476.2 302.6L478.2 304.5L480.2 285.0L482.2 260.8L483.0 251.5L484.2 253.5L486.2 263.2L488.0 272.4L488.2 272.1L490.2 269.1L491.7 267.3L492.2 267.9L494.2 270.9L495.5 273.1L496.2 276.1L498.2 284.5L500.0 291.3L500.2 290.2L502.2 277.9L504.2 254.6L505.7 239.0L506.2 242.6L508.2 262.8L509.0 267.0L510.2 274.2L512.2 283.8L513.5 289.8L514.2 290.0L516.2 290.5L516.5 290.6L518.2 291.1L520.2 291.6L522.2 295.0L524.0 297.9L524.2 297.7L526.2 295.4L528.2 295.3L528.5 295.2L530.2 291.8L532.2 286.7L534.2 281.0L534.5 280.2L536.2 280.1L537.5 281.1L538.2 281.0L540.2 282.1L542.2 284.0L542.7 284.5L544.2 289.9L546.2 295.9L547.2 298.5L548.2 298.7L550.2 298.7L552.2 302.3L554.2 305.9L554.5 306.4L556.2 305.3L556.7 304.9L558.2 304.4L560.2 303.6L560.5 303.4L562.2 302.3L564.2 300.9L565.7 299.9L566.2 301.1L568.2 306.1L568.7 307.4L570.2 306.0L571.0 305.3L572.2 303.6L574.2 297.7L576.2 286.4L578.2 286.6L580.2 293.4L580.7 294.0L582.2 300.7L584.2 280.7L585.7 266.2L586.2 268.2L588.2 282.9L589.0 286.3L590.2 298.9L591.2 308.5L592.2 309.6L594.2 311.7L596.2 313.5L596.5 313.7L598.2 311.1L599.5 308.7L600.2 308.1L602.2 306.0L602.5 305.7L604.2 300.6L606.2 295.5L608.2 293.1L608.5 293.0L610.2 297.3L611.5 300.6L612.2 303.6L614.2 310.6L615.2 313.5L616.2 313.3L616.7 313.1L618.2 312.5L619.0 312.1L620.2 312.4L622.0 312.7L622.2 312.6L624.2 312.4L625.0 312.2L626.2 312.9L628.2 314.0L629.5 314.7L630.2 314.9L632.2 315.7L634.2 316.5L634.7 316.7L636.2 318.5L637.7 320.3L638.2 320.4L640.2 320.9L641.5 321.1L642.2 321.4L643.7 321.9L644.2 321.8L646.2 321.1L647.5 320.5L648.2 319.7L650.2 316.6L652.2 312.7L654.2 309.1L656.2 310.5L658.0 313.3L658.2 313.7L660.2 317.9L661.0 319.2L662.2 319.7L664.2 319.8L664.7 319.8L666.2 316.7L668.2 312.2L668.5 311.2L670.2 280.3L670.7 270.4L672.2 262.5L674.2 256.1L676.2 258.8L677.5 260.8L678.2 262.0L680.2 265.6L681.2 267.5L682.2 266.6L684.2 264.7L685.7 263.1L686.2 271.3L687.7 295.7L688.2 300.7L689.5 314.5L690.2 314.0L692.2 312.9L693.7 309.9L694.2 309.6L696.2 308.2L696.7 307.8L698.2 305.4L699.7 303.4L700.2 304.8L702.0 309.9L702.2 310.5L704.2 316.0L705.0 318.0L706.2 315.3L708.2 310.6L710.2 305.5L711.0 303.4L712.2 303.5L712.5 303.5L714.2 298.9L716.2 293.2L716.7 291.7L718.2 292.2L719.2 292.6L720.2 290.3L722.2 285.9L722.5 285.3L724.2 290.6L726.2 297.2L726.7 298.9L728.2 298.5L730.2 298.2L730.8 298.1L732.2 300.8L734.2 304.5L736.2 305.6L737.2 306.0L738.2 307.4L740.2 310.0L741.7 311.9L742.2 312.1L744.2 312.8L745.5 313.2L746.2 313.6L748.2 314.8L748.5 315.0L750.2 316.8L752.2 318.9L753.0 319.8L754.2 318.1L755.2 316.6L756.2 314.9L758.2 311.5L759.0 310.2L760.2 309.2L762.2 308.4L762.7 308.3L764.2 310.0L766.2 311.6L766.5 311.8L768.2 314.4L769.5 316.3L770.2 316.5L772.2 317.0L772.5 317.0L774.2 318.9L774.7 319.4L776.2 318.5L777.0 318.1L778.2 318.6L780.0 319.4L780.2 319.1L782.2 315.9L784.2 312.7L785.0 311.4L786.2 311.8L788.2 312.6L788.6 312.8L790.2 312.5L790.4 312.5L792.2 310.4L794.0 308.4L794.2 309.1L795.8 314.4L796.2 315.8L797.6 320.7L798.2 320.1L799.4 319.0L800.2 319.8L802.2 321.8L802.4 322.0L804.2 321.4L806.2 320.7L807.2 320.4L808.2 319.1L810.2 316.5L810.8 315.8L812.2 316.1L814.2 316.5L814.4 316.6L816.2 317.9L818.0 319.3L818.2 319.6L820.2 322.8L820.4 323.1L822.2 322.5L823.4 322.0L824.2 322.2L826.2 322.7L828.2 323.2L830.0 323.7L830.2 323.7L832.2 324.0L834.2 324.4L834.8 324.5L836.2 324.2L838.2 323.7L839.6 323.4L840.2 324.1L842.2 326.3L843.2 327.5L844.2 327.2L846.2 326.8L848.0 326.4L848.2 326.4L850.2 326.2L852.2 326.0L854.0 325.8L854.2 325.8L856.2 325.5L858.2 325.3L860.0 325.0L860.2 325.0L862.2 325.0L864.2 325.0L865.3 325.0L865.3 341.00Z" fill="#5cb7aa"/><path d="M160.2 341.00L160.2 245.5L162.2 237.1L163.6 233.6L164.2 235.6L166.2 243.6L168.2 248.8L168.4 249.0L170.2 236.2L172.2 216.8L174.2 199.4L175.0 195.2L176.2 199.8L178.2 215.0L178.5 217.6L180.2 236.3L182.2 252.3L184.2 262.1L184.4 262.8L186.2 247.5L188.2 216.9L189.3 195.3L190.2 185.4L192.0 183.1L192.2 186.1L194.2 220.4L196.2 245.5L198.2 267.3L200.2 285.2L200.9 291.1L202.2 297.6L204.2 293.4L205.2 286.2L206.2 278.7L206.5 276.4L208.2 257.5L210.2 243.9L212.2 226.7L214.2 207.0L216.2 187.9L218.2 173.6L220.2 166.8L220.5 166.4L222.2 192.2L224.2 221.0L226.2 245.4L226.5 248.7L228.2 247.8L230.2 245.4L231.9 242.8L232.2 243.7L234.2 249.7L236.2 255.5L237.2 258.3L238.2 256.2L240.2 251.8L240.4 251.3L242.2 252.1L242.8 252.4L244.2 251.3L246.2 249.8L248.2 248.3L248.4 248.2L250.0 248.4L250.2 248.9L252.2 254.2L254.2 259.5L255.6 263.2L256.2 263.3L258.2 263.6L260.2 264.0L260.4 264.0L262.2 266.4L263.3 267.9L264.2 267.1L266.2 265.5L268.2 265.3L269.2 272.0L270.2 280.9L272.2 298.8L272.4 300.5L274.0 293.1L274.2 290.0L276.2 255.9L276.4 252.3L278.2 240.6L280.2 238.3L282.2 248.5L284.2 260.1L286.2 266.3L287.3 266.8L288.2 267.9L288.7 268.2L290.2 255.5L292.2 235.5L294.2 219.4L294.7 217.0L296.2 235.0L297.7 253.9L298.2 255.3L300.0 258.7L300.2 259.2L302.2 262.3L304.2 264.8L306.0 266.4L306.2 266.9L308.2 271.7L310.2 275.8L311.2 277.5L312.2 272.3L314.2 260.1L316.2 246.7L317.7 238.1L318.2 240.9L320.2 254.6L321.7 266.1L322.2 266.3L324.2 266.3L325.5 265.4L326.2 265.6L328.2 265.2L329.2 264.7L330.2 269.6L332.2 279.3L334.2 280.2L334.5 280.4L336.2 279.6L337.5 279.0L338.2 279.2L340.2 279.8L342.0 280.4L342.2 280.4L343.0 280.7L344.2 276.9L345.0 274.3L346.2 274.1L348.2 273.9L348.7 273.8L350.2 274.1L352.2 274.5L352.5 274.5L354.2 276.0L354.7 276.5L356.2 278.4L357.0 279.9L358.2 283.1L360.0 287.8L360.2 288.9L361.5 295.8L362.2 298.0L363.7 298.1L364.2 296.2L366.2 288.2L368.2 279.2L370.2 273.4L372.2 264.0L374.2 251.6L375.0 246.8L376.2 243.9L378.0 245.0L378.2 245.7L380.2 255.5L381.0 260.0L382.2 267.9L383.2 273.3L384.2 272.4L386.2 267.2L388.2 265.5L389.0 265.9L390.2 277.8L392.2 297.9L394.2 305.8L394.5 306.1L396.2 296.8L398.2 285.2L400.2 289.0L400.5 289.6L402.2 302.7L403.5 308.2L404.2 304.3L405.7 295.1L406.2 293.3L408.0 286.6L408.2 285.6L410.2 276.7L411.0 276.2L412.2 273.1L414.2 268.1L416.2 263.1L417.5 260.0L418.2 261.2L420.2 264.6L420.5 265.0L422.2 265.7L423.5 266.2L424.2 267.1L426.2 269.6L427.2 270.9L428.2 273.9L429.5 277.9L430.2 281.5L432.2 291.6L434.2 285.9L436.2 280.2L437.0 277.9L438.2 277.2L440.0 276.1L440.2 276.3L442.2 278.2L443.7 279.7L444.2 280.9L446.2 285.9L446.7 287.2L448.2 287.2L449.0 287.2L450.2 290.2L452.2 299.3L454.2 307.4L455.0 310.4L456.2 312.7L457.2 314.6L458.2 317.0L460.2 318.6L462.2 317.7L464.2 316.8L465.5 316.1L466.2 315.6L468.2 314.0L469.2 313.2L470.2 313.0L472.2 312.4L474.2 311.5L474.5 311.3L476.2 312.8L478.2 313.3L480.2 295.1L482.2 271.2L483.0 262.0L484.2 263.1L486.2 271.8L488.0 280.1L488.2 279.8L490.2 277.1L491.7 275.6L492.2 276.2L494.2 279.3L495.5 281.6L496.2 284.5L498.2 292.3L500.0 298.6L500.2 297.7L502.2 286.8L504.2 263.3L505.7 247.7L506.2 251.7L508.2 274.6L509.0 279.1L510.2 285.7L512.2 293.8L513.5 298.7L514.2 298.9L516.2 299.3L516.5 299.4L518.2 299.8L520.2 300.2L522.2 302.9L524.0 305.3L524.2 305.1L526.2 303.0L528.2 302.6L528.5 302.4L530.2 299.0L532.2 293.8L534.2 287.9L534.5 287.0L536.2 286.4L537.5 287.4L538.2 287.4L540.2 289.0L542.2 291.7L542.7 292.3L544.2 297.5L546.2 303.1L547.2 305.5L548.2 305.8L550.2 305.9L552.2 309.0L554.2 312.0L554.5 312.4L556.2 311.5L556.7 311.2L558.2 310.8L560.2 310.1L560.5 310.0L562.2 308.9L564.2 307.7L565.7 306.8L566.2 307.8L568.2 311.9L568.7 312.9L570.2 311.7L571.0 311.0L572.2 309.5L574.2 303.3L576.2 290.9L578.2 291.3L580.2 299.5L580.7 300.2L582.2 305.6L584.2 284.3L585.7 269.0L586.2 271.1L588.2 287.6L589.0 291.3L590.2 303.0L591.2 311.7L592.2 312.8L594.2 314.8L596.2 316.4L596.5 316.6L598.2 314.2L599.5 311.9L600.2 311.2L602.2 308.8L602.5 308.4L604.2 303.2L606.2 298.1L608.2 296.1L608.5 296.1L610.2 300.8L611.5 304.5L612.2 307.4L614.2 314.3L615.2 316.9L616.2 316.9L616.7 316.8L618.2 316.3L619.0 316.0L620.2 316.2L622.0 316.5L622.2 316.5L624.2 316.2L625.0 316.1L626.2 316.7L628.2 317.6L629.5 318.2L630.2 318.5L632.2 319.1L634.2 319.8L634.7 320.0L636.2 321.6L637.7 323.1L638.2 323.2L640.2 323.6L641.5 323.8L642.2 324.0L643.7 324.5L644.2 324.4L646.2 323.7L647.5 323.1L648.2 322.2L650.2 319.1L652.2 314.9L654.2 311.2L656.2 312.6L658.0 315.5L658.2 316.0L660.2 320.3L661.0 321.7L662.2 322.3L664.2 322.6L664.7 322.6L666.2 319.9L668.2 316.0L668.5 315.2L670.2 288.2L670.7 279.6L672.2 272.3L674.2 266.4L676.2 268.6L677.5 270.4L678.2 271.4L680.2 274.8L681.2 276.5L682.2 275.9L684.2 274.4L685.7 273.1L686.2 280.3L687.7 301.6L688.2 306.0L689.5 318.3L690.2 318.1L692.2 317.7L693.7 315.1L694.2 314.8L696.2 313.4L696.7 313.0L698.2 310.9L699.7 309.2L700.2 310.4L702.0 314.9L702.2 315.4L704.2 320.1L705.0 321.8L706.2 319.6L708.2 315.5L710.2 311.1L711.0 309.2L712.2 309.2L712.5 309.2L714.2 305.0L716.2 299.7L716.7 298.4L718.2 298.6L719.2 298.8L720.2 296.7L722.2 292.8L722.5 292.3L724.2 297.0L726.2 303.0L726.7 304.5L728.2 304.4L730.2 304.4L730.8 304.4L732.2 307.0L734.2 310.3L736.2 311.4L737.2 311.8L738.2 313.0L740.2 315.3L741.7 316.9L742.2 317.0L744.2 317.6L745.5 317.9L746.2 318.3L748.2 319.3L748.5 319.4L750.2 320.9L752.2 322.7L753.0 323.4L754.2 321.9L755.2 320.7L756.2 319.3L758.2 316.3L759.0 315.2L760.2 314.4L762.2 314.0L762.7 314.0L764.2 315.7L766.2 317.3L766.5 317.4L768.2 319.6L769.5 321.1L770.2 321.3L772.2 321.6L772.5 321.7L774.2 323.2L774.7 323.6L776.2 322.9L777.0 322.5L778.2 323.0L780.0 323.6L780.2 323.4L782.2 320.8L784.2 318.2L785.0 317.1L786.2 317.5L788.2 318.1L788.6 318.2L790.2 318.0L790.4 318.0L792.2 316.4L794.0 314.7L794.2 315.3L795.8 319.6L796.2 320.7L797.6 324.6L798.2 324.2L799.4 323.3L800.2 323.9L802.2 325.5L802.4 325.7L804.2 325.2L806.2 324.7L807.2 324.4L808.2 323.3L810.2 321.3L810.8 320.7L812.2 320.9L814.2 321.3L814.4 321.3L816.2 322.4L818.0 323.5L818.2 323.8L820.2 326.3L820.4 326.6L822.2 326.1L823.4 325.7L824.2 325.9L826.2 326.3L828.2 326.7L830.0 327.0L830.2 327.1L832.2 327.3L834.2 327.6L834.8 327.7L836.2 327.4L838.2 327.1L839.6 326.8L840.2 327.4L842.2 329.2L843.2 330.1L844.2 329.9L846.2 329.5L848.0 329.2L848.2 329.2L850.2 329.1L852.2 328.9L854.0 328.8L854.2 328.8L856.2 328.5L858.2 328.3L860.0 328.1L860.2 328.1L862.2 328.1L864.2 328.1L865.3 328.1L865.3 341.00Z" fill="#71c6a5"/><path d="M160.2 341.00L160.2 259.4L162.2 250.6L163.6 247.2L164.2 248.9L166.2 256.4L168.2 260.8L168.4 260.9L170.2 248.0L172.2 228.0L174.2 210.1L175.0 206.1L176.2 211.1L178.2 227.7L178.5 230.6L180.2 249.9L182.2 265.9L184.2 274.9L184.4 275.5L186.2 261.3L188.2 230.5L189.3 208.0L190.2 197.2L192.0 195.2L192.2 198.3L194.2 234.2L196.2 259.6L198.2 280.3L200.2 296.4L200.9 301.6L202.2 307.5L204.2 304.1L205.2 297.4L206.2 290.1L206.5 287.8L208.2 269.4L210.2 256.3L212.2 239.2L214.2 219.2L216.2 199.9L218.2 186.1L220.2 180.8L220.5 180.7L222.2 206.2L224.2 234.4L226.2 257.7L226.5 260.7L228.2 260.7L230.2 259.2L231.9 257.3L232.2 258.1L234.2 263.5L236.2 268.8L237.2 271.3L238.2 269.6L240.2 266.1L240.4 265.7L242.2 266.5L242.8 266.7L244.2 265.8L246.2 264.6L248.2 263.3L248.4 263.2L250.0 263.4L250.2 263.8L252.2 268.2L254.2 272.6L255.6 275.7L256.2 275.8L258.2 276.1L260.2 276.4L260.4 276.5L262.2 278.5L263.3 279.7L264.2 279.1L266.2 277.7L268.2 277.9L269.2 284.9L270.2 293.7L272.2 310.0L272.4 311.5L274.0 305.1L274.2 302.4L276.2 271.0L276.4 267.5L278.2 257.1L280.2 256.7L282.2 266.8L284.2 278.1L286.2 283.8L287.3 284.0L288.2 284.5L288.7 284.4L290.2 272.9L292.2 254.1L294.2 239.6L294.7 237.8L296.2 254.2L297.7 271.7L298.2 273.5L300.0 278.2L300.2 278.8L302.2 282.1L304.2 284.3L306.0 285.5L306.2 285.9L308.2 289.3L310.2 292.1L311.2 293.0L312.2 288.6L314.2 277.6L316.2 265.3L317.7 257.8L318.2 260.0L320.2 272.0L321.7 282.3L322.2 282.8L324.2 284.2L325.5 284.2L326.2 284.5L328.2 284.5L329.2 284.2L330.2 287.9L332.2 295.1L334.2 295.8L334.5 295.9L336.2 295.3L337.5 294.9L338.2 295.0L340.2 295.5L342.0 295.9L342.2 296.0L343.0 296.2L344.2 293.3L345.0 291.4L346.2 291.3L348.2 291.1L348.7 291.0L350.2 291.3L352.2 291.5L352.5 291.6L354.2 292.7L354.7 293.0L356.2 294.9L357.0 296.3L358.2 299.0L360.0 302.9L360.2 303.7L361.5 308.9L362.2 310.5L363.7 310.2L364.2 308.8L366.2 302.3L368.2 294.7L370.2 289.3L372.2 279.9L374.2 267.2L375.0 262.2L376.2 258.8L378.0 259.8L378.2 260.6L380.2 270.9L381.0 275.6L382.2 283.5L383.2 288.7L384.2 288.6L386.2 284.3L388.2 282.1L389.0 282.4L390.2 292.3L392.2 309.5L394.2 315.9L394.5 316.1L396.2 309.1L398.2 299.9L400.2 303.6L400.5 304.2L402.2 314.0L403.5 317.9L404.2 315.0L405.7 307.8L406.2 306.3L408.0 300.4L408.2 299.6L410.2 291.7L411.0 291.4L412.2 289.2L414.2 285.5L416.2 281.9L417.5 279.6L418.2 280.6L420.2 283.3L420.5 283.6L422.2 284.1L423.5 284.5L424.2 285.2L426.2 287.1L427.2 288.0L428.2 290.3L429.5 293.3L430.2 296.0L432.2 303.7L434.2 299.4L436.2 295.0L437.0 293.3L438.2 292.8L440.0 292.0L440.2 292.1L442.2 293.5L443.7 294.6L444.2 295.6L446.2 299.4L446.7 300.3L448.2 300.3L449.0 300.3L450.2 302.6L452.2 310.3L454.2 316.9L455.0 319.3L456.2 321.3L457.2 322.9L458.2 324.7L460.2 325.8L462.2 325.2L464.2 324.6L465.5 324.2L466.2 323.8L468.2 322.7L469.2 322.1L470.2 321.9L472.2 321.3L474.2 320.4L474.5 320.2L476.2 320.8L478.2 320.2L480.2 303.4L482.2 280.2L483.0 271.4L484.2 271.7L486.2 279.6L488.0 287.1L488.2 286.8L490.2 284.4L491.7 283.2L492.2 283.8L494.2 286.9L495.5 289.4L496.2 292.1L498.2 299.5L500.0 305.2L500.2 304.5L502.2 295.0L504.2 271.2L505.7 255.7L506.2 260.1L508.2 285.3L509.0 290.2L510.2 296.2L512.2 302.9L513.5 306.9L514.2 307.0L516.2 307.4L516.5 307.4L518.2 307.8L520.2 308.1L522.2 310.2L524.0 312.0L524.2 311.8L526.2 309.9L528.2 309.2L528.5 309.0L530.2 305.6L532.2 300.2L534.2 294.2L534.5 293.3L536.2 292.3L537.5 293.1L538.2 293.2L540.2 295.3L542.2 298.6L542.7 299.4L544.2 304.5L546.2 309.7L547.2 311.9L548.2 312.2L550.2 312.6L552.2 315.2L554.2 317.6L554.5 317.9L556.2 317.2L556.7 317.0L558.2 316.6L560.2 316.1L560.5 316.0L562.2 315.0L564.2 313.9L565.7 313.1L566.2 313.9L568.2 317.1L568.7 318.0L570.2 316.9L571.0 316.3L572.2 314.8L574.2 308.5L576.2 295.0L578.2 295.6L580.2 305.0L580.7 305.9L582.2 310.1L584.2 287.6L585.7 271.5L586.2 273.8L588.2 291.8L589.0 295.9L590.2 306.7L591.2 314.7L592.2 315.7L594.2 317.7L596.2 319.2L596.5 319.3L598.2 317.1L599.5 314.8L600.2 314.1L602.2 311.4L602.5 310.9L604.2 305.6L606.2 300.4L608.2 298.8L608.5 298.9L610.2 304.0L611.5 308.0L612.2 310.9L614.2 317.6L615.2 320.1L616.2 320.2L616.7 320.1L618.2 319.8L619.0 319.6L620.2 319.7L622.0 320.0L622.2 320.0L624.2 319.8L625.0 319.7L626.2 320.2L628.2 321.0L629.5 321.5L630.2 321.7L632.2 322.3L634.2 322.9L634.7 323.0L636.2 324.3L637.7 325.7L638.2 325.8L640.2 326.1L641.5 326.3L642.2 326.5L643.7 326.8L644.2 326.7L646.2 326.1L647.5 325.4L648.2 324.6L650.2 321.4L652.2 317.0L654.2 313.2L656.2 314.5L658.0 317.6L658.2 318.1L660.2 322.6L661.0 324.0L662.2 324.7L664.2 325.2L664.7 325.2L666.2 322.9L668.2 319.6L668.5 318.9L670.2 296.0L670.7 288.5L672.2 282.0L674.2 276.7L676.2 278.4L677.5 280.0L678.2 280.9L680.2 284.0L681.2 285.6L682.2 285.2L684.2 284.2L685.7 283.2L686.2 289.3L687.7 307.5L688.2 311.3L689.5 322.0L690.2 322.0L692.2 322.1L693.7 319.9L694.2 319.6L696.2 318.2L696.7 317.9L698.2 315.9L699.7 314.5L700.2 315.5L702.0 319.4L702.2 319.9L704.2 323.9L705.0 325.3L706.2 323.5L708.2 320.1L710.2 316.3L711.0 314.6L712.2 314.4L712.5 314.4L714.2 310.6L716.2 305.7L716.7 304.5L718.2 304.4L719.2 304.5L720.2 302.6L722.2 299.2L722.5 298.7L724.2 302.9L726.2 308.3L726.7 309.6L728.2 309.8L730.2 310.2L730.8 310.3L732.2 312.7L734.2 315.7L736.2 316.7L737.2 317.1L738.2 318.2L740.2 320.1L741.7 321.4L742.2 321.5L744.2 322.0L745.5 322.3L746.2 322.6L748.2 323.4L748.5 323.5L750.2 324.7L752.2 326.2L753.0 326.7L754.2 325.5L755.2 324.4L756.2 323.2L758.2 320.6L759.0 319.6L760.2 319.0L762.2 318.9L762.7 319.0L764.2 320.7L766.2 322.1L766.5 322.2L768.2 324.0L769.5 325.2L770.2 325.3L772.2 325.6L772.5 325.7L774.2 326.9L774.7 327.2L776.2 326.6L777.0 326.3L778.2 326.7L780.0 327.2L780.2 327.0L782.2 325.0L784.2 322.9L785.0 322.1L786.2 322.4L788.2 322.9L788.6 323.0L790.2 322.8L790.4 322.8L792.2 321.5L794.0 320.2L794.2 320.6L795.8 324.0L796.2 324.9L797.6 328.0L798.2 327.7L799.4 327.0L800.2 327.5L802.2 328.7L802.4 328.9L804.2 328.5L806.2 328.1L807.2 327.8L808.2 327.0L810.2 325.4L810.8 324.9L812.2 325.1L814.2 325.4L814.4 325.4L816.2 326.3L818.0 327.1L818.2 327.3L820.2 329.4L820.4 329.6L822.2 329.2L823.4 328.9L824.2 329.0L826.2 329.3L828.2 329.6L830.0 329.9L830.2 329.9L832.2 330.2L834.2 330.4L834.8 330.5L836.2 330.2L838.2 330.0L839.6 329.8L840.2 330.2L842.2 331.6L843.2 332.4L844.2 332.2L846.2 331.9L848.0 331.7L848.2 331.7L850.2 331.5L852.2 331.4L854.0 331.3L854.2 331.3L856.2 331.1L858.2 331.0L860.0 330.8L860.2 330.8L862.2 330.8L864.2 330.8L865.3 330.8L865.3 341.00Z" fill="#86cfa5"/><path d="M160.2 341.00L160.2 272.6L162.2 263.6L163.6 260.3L164.2 261.9L166.2 268.7L168.2 272.3L168.4 272.3L170.2 259.8L172.2 239.7L174.2 222.1L175.0 218.4L176.2 223.5L178.2 240.8L178.5 243.8L180.2 263.2L182.2 278.7L184.2 286.8L184.4 287.3L186.2 274.5L188.2 244.2L189.3 221.7L190.2 210.4L192.0 208.8L192.2 211.9L194.2 248.1L196.2 272.9L198.2 291.8L200.2 305.6L200.9 310.0L202.2 315.1L204.2 312.9L205.2 307.2L206.2 300.5L206.5 298.3L208.2 281.1L210.2 268.9L212.2 252.3L214.2 232.6L216.2 213.6L218.2 200.6L220.2 196.7L220.5 196.9L222.2 221.5L224.2 248.4L226.2 269.9L226.5 272.7L228.2 273.4L230.2 272.6L231.9 271.3L232.2 272.1L234.2 276.9L236.2 281.7L237.2 283.9L238.2 282.6L240.2 279.9L240.4 279.6L242.2 280.3L242.8 280.5L244.2 279.8L246.2 278.8L248.2 277.8L248.4 277.7L250.0 277.8L250.2 278.2L252.2 281.8L254.2 285.4L255.6 287.9L256.2 288.0L258.2 288.2L260.2 288.5L260.4 288.5L262.2 290.1L263.3 291.1L264.2 290.6L266.2 289.5L268.2 289.9L269.2 296.9L270.2 304.9L272.2 318.8L272.4 320.0L274.0 314.8L274.2 312.6L276.2 285.1L276.4 281.8L278.2 272.7L280.2 273.6L282.2 283.0L284.2 293.2L286.2 298.2L287.3 298.2L288.2 298.2L288.7 297.9L290.2 287.6L292.2 270.3L294.2 257.5L294.7 256.2L296.2 271.0L297.7 286.8L298.2 288.9L300.0 294.5L300.2 295.0L302.2 298.5L304.2 300.3L306.0 301.2L306.2 301.5L308.2 303.8L310.2 305.5L311.2 305.8L312.2 302.1L314.2 292.4L316.2 281.3L317.7 274.8L318.2 276.5L320.2 286.8L321.7 295.9L322.2 296.7L324.2 299.1L325.5 299.7L326.2 300.1L328.2 300.4L329.2 300.3L330.2 302.9L332.2 308.1L334.2 308.6L334.5 308.7L336.2 308.2L337.5 307.9L338.2 308.0L340.2 308.4L342.0 308.7L342.2 308.7L343.0 308.9L344.2 306.8L345.0 305.4L346.2 305.3L348.2 305.2L348.7 305.2L350.2 305.3L352.2 305.5L352.5 305.6L354.2 306.4L354.7 306.6L356.2 308.2L357.0 309.3L358.2 311.4L360.0 314.4L360.2 315.0L361.5 318.7L362.2 319.8L363.7 319.5L364.2 318.4L366.2 313.5L368.2 307.4L370.2 302.5L372.2 293.4L374.2 280.8L375.0 275.9L376.2 272.3L378.0 273.2L378.2 273.9L380.2 284.3L381.0 289.1L382.2 296.6L383.2 301.5L384.2 302.0L386.2 298.6L388.2 295.6L389.0 295.6L390.2 303.6L392.2 318.0L394.2 323.4L394.5 323.6L396.2 318.6L398.2 311.8L400.2 314.8L400.5 315.2L402.2 322.2L403.5 324.9L404.2 322.9L405.7 317.6L406.2 316.4L408.0 311.7L408.2 311.1L410.2 304.6L411.0 304.4L412.2 302.9L414.2 300.3L416.2 297.9L417.5 296.3L418.2 297.1L420.2 299.2L420.5 299.5L422.2 299.8L423.5 300.1L424.2 300.5L426.2 301.9L427.2 302.6L428.2 304.3L429.5 306.4L430.2 308.4L432.2 313.9L434.2 310.8L436.2 307.6L437.0 306.4L438.2 306.0L440.0 305.4L440.2 305.5L442.2 306.5L443.7 307.3L444.2 308.0L446.2 310.7L446.7 311.4L448.2 311.4L449.0 311.4L450.2 313.2L452.2 319.3L454.2 324.4L455.0 326.2L456.2 327.8L457.2 329.0L458.2 330.4L460.2 331.1L462.2 330.7L464.2 330.2L465.5 330.0L466.2 329.7L468.2 328.9L469.2 328.5L470.2 328.3L472.2 327.8L474.2 326.8L474.5 326.6L476.2 326.6L478.2 325.3L480.2 309.9L482.2 287.6L483.0 279.2L484.2 279.0L486.2 286.3L488.0 293.1L488.2 292.9L490.2 290.7L491.7 289.7L492.2 290.3L494.2 293.5L495.5 296.1L496.2 298.7L498.2 305.7L500.0 311.0L500.2 310.4L502.2 302.1L504.2 278.1L505.7 262.7L506.2 267.4L508.2 294.5L509.0 299.7L510.2 305.2L512.2 310.7L513.5 313.9L514.2 314.0L516.2 314.3L516.5 314.4L518.2 314.6L520.2 314.8L522.2 316.5L524.0 317.8L524.2 317.7L526.2 315.9L528.2 314.9L528.5 314.7L530.2 311.2L532.2 305.8L534.2 299.6L534.5 298.7L536.2 297.3L537.5 298.0L538.2 298.2L540.2 300.8L542.2 304.7L542.7 305.6L544.2 310.5L546.2 315.4L547.2 317.4L548.2 317.8L550.2 318.3L552.2 320.4L554.2 322.4L554.5 322.7L556.2 322.1L556.7 321.9L558.2 321.7L560.2 321.2L560.5 321.1L562.2 320.3L564.2 319.3L565.7 318.5L566.2 319.1L568.2 321.7L568.7 322.3L570.2 321.4L571.0 320.8L572.2 319.5L574.2 312.9L576.2 298.6L578.2 299.4L580.2 309.8L580.7 310.8L582.2 314.0L584.2 290.6L585.7 273.9L586.2 276.3L588.2 295.6L589.0 299.8L590.2 309.9L591.2 317.2L592.2 318.2L594.2 320.1L596.2 321.5L596.5 321.7L598.2 319.6L599.5 317.3L600.2 316.6L602.2 313.6L602.5 313.1L604.2 307.7L606.2 302.6L608.2 301.2L608.5 301.4L610.2 306.8L611.5 311.0L612.2 314.0L614.2 320.6L615.2 322.9L616.2 323.0L616.7 323.0L618.2 322.8L619.0 322.6L620.2 322.8L622.0 323.0L622.2 323.0L624.2 322.8L625.0 322.8L626.2 323.2L628.2 323.9L629.5 324.3L630.2 324.5L632.2 325.0L634.2 325.5L634.7 325.6L636.2 326.8L637.7 327.9L638.2 328.0L640.2 328.2L641.5 328.4L642.2 328.6L643.7 328.9L644.2 328.8L646.2 328.2L647.5 327.5L648.2 326.7L650.2 323.4L652.2 318.9L654.2 315.0L656.2 316.2L658.0 319.5L658.2 320.0L660.2 324.6L661.0 326.0L662.2 326.9L664.2 327.4L664.7 327.4L666.2 325.5L668.2 322.7L668.5 322.2L670.2 303.1L670.7 296.9L672.2 291.4L674.2 286.6L676.2 287.8L677.5 289.1L678.2 290.0L680.2 292.8L681.2 294.3L682.2 294.1L684.2 293.5L685.7 292.8L686.2 298.0L687.7 313.1L688.2 316.4L689.5 325.5L690.2 325.6L692.2 325.9L693.7 324.1L694.2 323.9L696.2 322.5L696.7 322.1L698.2 320.3L699.7 319.2L700.2 320.0L702.0 323.4L702.2 323.8L704.2 327.2L705.0 328.4L706.2 326.9L708.2 324.1L710.2 320.8L711.0 319.3L712.2 319.0L712.5 318.9L714.2 315.5L716.2 311.0L716.7 309.9L718.2 309.6L719.2 309.5L720.2 307.8L722.2 304.7L722.5 304.3L724.2 308.1L726.2 312.9L726.7 314.2L728.2 314.6L730.2 315.2L730.8 315.4L732.2 317.6L734.2 320.4L736.2 321.4L737.2 321.8L738.2 322.7L740.2 324.3L741.7 325.4L742.2 325.5L744.2 325.9L745.5 326.1L746.2 326.4L748.2 327.0L748.5 327.1L750.2 328.1L752.2 329.2L753.0 329.6L754.2 328.6L755.2 327.7L756.2 326.7L758.2 324.3L759.0 323.5L760.2 322.9L762.2 323.0L762.7 323.2L764.2 324.8L766.2 326.1L766.5 326.2L768.2 327.6L769.5 328.6L770.2 328.7L772.2 328.9L772.5 328.9L774.2 329.9L774.7 330.2L776.2 329.7L777.0 329.5L778.2 329.7L780.0 330.2L780.2 330.0L782.2 328.4L784.2 326.8L785.0 326.1L786.2 326.4L788.2 326.7L788.6 326.8L790.2 326.7L790.4 326.7L792.2 325.7L794.0 324.6L794.2 325.0L795.8 327.6L796.2 328.3L797.6 330.8L798.2 330.5L799.4 330.0L800.2 330.4L802.2 331.4L802.4 331.5L804.2 331.2L806.2 330.8L807.2 330.7L808.2 330.0L810.2 328.7L810.8 328.3L812.2 328.5L814.2 328.7L814.4 328.7L816.2 329.4L818.0 330.1L818.2 330.3L820.2 331.9L820.4 332.0L822.2 331.7L823.4 331.5L824.2 331.6L826.2 331.8L828.2 332.1L830.0 332.3L830.2 332.3L832.2 332.5L834.2 332.7L834.8 332.7L836.2 332.6L838.2 332.3L839.6 332.2L840.2 332.5L842.2 333.7L843.2 334.2L844.2 334.1L846.2 333.9L848.0 333.7L848.2 333.7L850.2 333.6L852.2 333.5L854.0 333.4L854.2 333.4L856.2 333.3L858.2 333.1L860.0 333.0L860.2 333.0L862.2 333.0L864.2 333.0L865.3 333.0L865.3 341.00Z" fill="#9fd8a4"/><path d="M160.2 341.00L160.2 284.9L162.2 276.1L163.6 272.9L164.2 274.2L166.2 280.2L168.2 283.1L168.4 283.0L170.2 271.4L172.2 252.4L174.2 235.9L175.0 232.6L176.2 237.5L178.2 254.6L178.5 257.5L180.2 276.0L182.2 290.5L184.2 297.6L184.4 298.0L186.2 286.8L188.2 258.3L189.3 236.9L190.2 225.9L192.0 224.5L192.2 227.5L194.2 261.9L196.2 285.1L198.2 301.4L200.2 313.0L200.9 316.6L202.2 320.8L204.2 319.6L205.2 315.2L206.2 309.6L206.5 307.7L208.2 292.3L210.2 281.3L212.2 266.0L214.2 247.5L216.2 229.7L218.2 217.9L220.2 215.2L220.5 215.5L222.2 238.2L224.2 262.8L226.2 282.0L226.5 284.4L228.2 285.6L230.2 285.2L231.9 284.4L232.2 285.1L234.2 289.4L236.2 293.6L237.2 295.5L238.2 294.7L240.2 292.8L240.4 292.6L242.2 293.2L242.8 293.3L244.2 292.8L246.2 292.0L248.2 291.2L248.4 291.1L250.0 291.3L250.2 291.5L252.2 294.4L254.2 297.2L255.6 299.2L256.2 299.3L258.2 299.4L260.2 299.6L260.4 299.7L262.2 300.9L263.3 301.7L264.2 301.3L266.2 300.5L268.2 301.0L269.2 307.5L270.2 314.5L272.2 325.4L272.4 326.3L274.0 322.3L274.2 320.6L276.2 297.6L276.4 294.8L278.2 286.9L280.2 288.4L282.2 296.6L284.2 305.2L286.2 309.4L287.3 309.4L288.2 309.2L288.7 308.7L290.2 299.8L292.2 284.4L294.2 273.4L294.7 272.5L296.2 285.4L297.7 299.4L298.2 301.5L300.0 307.3L300.2 307.9L302.2 311.2L304.2 312.7L306.0 313.4L306.2 313.5L308.2 315.1L310.2 316.0L311.2 315.9L312.2 312.8L314.2 304.5L316.2 294.7L317.7 289.1L318.2 290.5L320.2 299.2L321.7 307.0L322.2 307.9L324.2 310.9L325.5 311.8L326.2 312.3L328.2 312.8L329.2 312.7L330.2 314.6L332.2 318.2L334.2 318.5L334.5 318.6L336.2 318.3L337.5 318.0L338.2 318.1L340.2 318.4L342.0 318.6L342.2 318.6L343.0 318.7L344.2 317.3L345.0 316.3L346.2 316.3L348.2 316.2L348.7 316.1L350.2 316.3L352.2 316.4L352.5 316.4L354.2 317.0L354.7 317.1L356.2 318.3L357.0 319.1L358.2 320.7L360.0 322.7L360.2 323.1L361.5 325.7L362.2 326.5L363.7 326.2L364.2 325.5L366.2 322.0L368.2 317.3L370.2 313.0L372.2 304.6L374.2 292.7L375.0 288.1L376.2 284.5L378.0 285.4L378.2 286.0L380.2 295.9L381.0 300.4L382.2 307.4L383.2 311.8L384.2 312.7L386.2 309.9L388.2 306.4L389.0 306.1L390.2 312.4L392.2 324.2L394.2 328.7L394.5 328.9L396.2 325.6L398.2 320.8L400.2 323.0L400.5 323.3L402.2 328.0L403.5 329.8L404.2 328.4L405.7 324.8L406.2 324.0L408.0 320.5L408.2 320.0L410.2 315.1L411.0 315.0L412.2 314.0L414.2 312.3L416.2 310.7L417.5 309.7L418.2 310.3L420.2 312.0L420.5 312.1L422.2 312.4L423.5 312.5L424.2 312.8L426.2 313.8L427.2 314.2L428.2 315.4L429.5 316.9L430.2 318.2L432.2 322.1L434.2 319.9L436.2 317.7L437.0 316.8L438.2 316.5L440.0 316.1L440.2 316.1L442.2 316.8L443.7 317.4L444.2 317.8L446.2 319.8L446.7 320.2L448.2 320.2L449.0 320.2L450.2 321.5L452.2 326.1L454.2 329.9L455.0 331.2L456.2 332.3L457.2 333.2L458.2 334.2L460.2 334.6L462.2 334.3L464.2 334.1L465.5 333.9L466.2 333.7L468.2 333.1L469.2 332.8L470.2 332.6L472.2 332.1L474.2 331.1L474.5 330.9L476.2 330.5L478.2 328.7L480.2 314.6L482.2 293.5L483.0 285.4L484.2 285.1L486.2 291.9L488.0 298.0L488.2 297.8L490.2 295.8L491.7 295.1L492.2 295.7L494.2 299.0L495.5 301.6L496.2 304.0L498.2 310.7L500.0 315.7L500.2 315.2L502.2 307.9L504.2 284.0L505.7 268.9L506.2 273.7L508.2 302.2L509.0 307.6L510.2 312.5L512.2 317.1L513.5 319.7L514.2 319.8L516.2 320.0L516.5 320.0L518.2 320.2L520.2 320.4L522.2 321.6L524.0 322.6L524.2 322.4L526.2 320.8L528.2 319.6L528.5 319.3L530.2 315.9L532.2 310.5L534.2 304.1L534.5 303.2L536.2 301.6L537.5 302.2L538.2 302.4L540.2 305.3L542.2 309.6L542.7 310.6L544.2 315.4L546.2 320.1L547.2 321.9L548.2 322.4L550.2 322.9L552.2 324.8L554.2 326.3L554.5 326.6L556.2 326.1L556.7 326.0L558.2 325.8L560.2 325.4L560.5 325.3L562.2 324.6L564.2 323.7L565.7 323.0L566.2 323.4L568.2 325.4L568.7 325.9L570.2 325.1L571.0 324.6L572.2 323.3L574.2 316.7L576.2 301.9L578.2 302.9L580.2 313.8L580.7 314.9L582.2 317.3L584.2 293.4L585.7 276.4L586.2 278.8L588.2 298.9L589.0 303.2L590.2 312.7L591.2 319.4L592.2 320.4L594.2 322.2L596.2 323.5L596.5 323.7L598.2 321.7L599.5 319.5L600.2 318.7L602.2 315.6L602.5 315.0L604.2 309.7L606.2 304.6L608.2 303.5L608.5 303.7L610.2 309.3L611.5 313.7L612.2 316.7L614.2 323.0L615.2 325.2L616.2 325.5L616.7 325.5L618.2 325.4L619.0 325.2L620.2 325.4L622.0 325.6L622.2 325.5L624.2 325.4L625.0 325.3L626.2 325.7L628.2 326.3L629.5 326.7L630.2 326.8L632.2 327.3L634.2 327.7L634.7 327.8L636.2 328.8L637.7 329.8L638.2 329.8L640.2 330.1L641.5 330.2L642.2 330.3L643.7 330.6L644.2 330.5L646.2 330.0L647.5 329.2L648.2 328.5L650.2 325.2L652.2 320.6L654.2 316.7L656.2 317.9L658.0 321.2L658.2 321.7L660.2 326.3L661.0 327.8L662.2 328.7L664.2 329.3L664.7 329.3L666.2 327.7L668.2 325.3L668.5 325.0L670.2 309.4L670.7 304.4L672.2 300.0L674.2 295.6L676.2 296.5L677.5 297.6L678.2 298.3L680.2 300.9L681.2 302.3L682.2 302.3L684.2 302.1L685.7 301.7L686.2 305.9L687.7 318.3L688.2 321.0L689.5 328.6L690.2 328.7L692.2 329.1L693.7 327.6L694.2 327.4L696.2 326.1L696.7 325.7L698.2 324.1L699.7 323.1L700.2 323.9L702.0 326.8L702.2 327.2L704.2 330.0L705.0 331.0L706.2 329.8L708.2 327.4L710.2 324.6L711.0 323.3L712.2 322.9L712.5 322.8L714.2 319.6L716.2 315.5L716.7 314.4L718.2 313.9L719.2 313.8L720.2 312.1L722.2 309.4L722.5 309.1L724.2 312.5L726.2 316.9L726.7 318.0L728.2 318.6L730.2 319.5L730.8 319.7L732.2 321.8L734.2 324.3L736.2 325.4L737.2 325.7L738.2 326.5L740.2 327.9L741.7 328.8L742.2 328.8L744.2 329.2L745.5 329.3L746.2 329.5L748.2 330.1L748.5 330.1L750.2 330.9L752.2 331.8L753.0 332.1L754.2 331.2L755.2 330.5L756.2 329.5L758.2 327.4L759.0 326.6L760.2 326.1L762.2 326.3L762.7 326.5L764.2 328.0L766.2 329.2L766.5 329.3L768.2 330.5L769.5 331.2L770.2 331.3L772.2 331.5L772.5 331.5L774.2 332.3L774.7 332.5L776.2 332.1L777.0 331.9L778.2 332.2L780.0 332.5L780.2 332.4L782.2 331.1L784.2 329.8L785.0 329.3L786.2 329.5L788.2 329.8L788.6 329.9L790.2 329.8L790.4 329.8L792.2 329.0L794.0 328.2L794.2 328.4L795.8 330.5L796.2 331.1L797.6 333.0L798.2 332.8L799.4 332.4L800.2 332.7L802.2 333.5L802.4 333.5L804.2 333.3L806.2 333.0L807.2 332.9L808.2 332.4L810.2 331.4L810.8 331.1L812.2 331.2L814.2 331.4L814.4 331.4L816.2 331.9L818.0 332.5L818.2 332.6L820.2 333.9L820.4 334.0L822.2 333.7L823.4 333.6L824.2 333.6L826.2 333.8L828.2 334.0L830.0 334.2L830.2 334.2L832.2 334.4L834.2 334.5L834.8 334.5L836.2 334.4L838.2 334.2L839.6 334.1L840.2 334.4L842.2 335.3L843.2 335.7L844.2 335.6L846.2 335.5L848.0 335.3L848.2 335.3L850.2 335.2L852.2 335.1L854.0 335.1L854.2 335.1L856.2 335.0L858.2 334.9L860.0 334.8L860.2 334.8L862.2 334.8L864.2 334.8L865.3 334.8L865.3 341.00Z" fill="#b5e1a2"/><path d="M160.2 341.00L160.2 296.1L162.2 287.9L163.6 284.8L164.2 285.8L166.2 290.8L168.2 293.1L168.4 293.0L170.2 282.8L172.2 266.0L174.2 251.6L175.0 248.8L176.2 253.4L178.2 269.0L178.5 271.7L180.2 288.2L182.2 301.0L184.2 307.0L184.4 307.3L186.2 297.9L188.2 272.8L189.3 253.8L190.2 243.8L192.0 242.7L192.2 245.3L194.2 275.8L196.2 295.9L198.2 309.4L200.2 318.6L200.9 321.5L202.2 324.9L204.2 324.8L205.2 321.7L206.2 317.3L206.5 315.7L208.2 302.8L210.2 293.4L212.2 280.1L214.2 263.9L216.2 248.3L218.2 238.2L220.2 236.4L220.5 236.8L222.2 256.4L224.2 277.6L226.2 293.8L226.5 295.7L228.2 296.9L230.2 296.7L231.9 296.3L232.2 296.8L234.2 300.6L236.2 304.3L237.2 306.0L238.2 305.5L240.2 304.3L240.4 304.1L242.2 304.7L242.8 304.8L244.2 304.4L246.2 303.9L248.2 303.2L248.4 303.2L250.0 303.3L250.2 303.5L252.2 305.6L254.2 307.8L255.6 309.3L256.2 309.3L258.2 309.5L260.2 309.6L260.4 309.6L262.2 310.6L263.3 311.2L264.2 310.9L266.2 310.3L268.2 310.8L269.2 316.5L270.2 322.2L272.2 330.3L272.4 330.8L274.0 327.9L274.2 326.7L276.2 308.4L276.4 306.0L278.2 299.4L280.2 300.9L282.2 307.5L284.2 314.4L286.2 317.9L287.3 318.0L288.2 317.7L288.7 317.2L290.2 309.9L292.2 297.0L294.2 287.9L294.7 287.3L296.2 298.1L297.7 309.9L298.2 311.9L300.0 317.3L300.2 317.8L302.2 320.7L304.2 321.9L306.0 322.4L306.2 322.5L308.2 323.5L310.2 323.9L311.2 323.6L312.2 321.1L314.2 314.2L316.2 306.1L317.7 301.5L318.2 302.5L320.2 309.6L321.7 316.1L322.2 316.9L324.2 319.9L325.5 320.9L326.2 321.4L328.2 322.0L329.2 322.0L330.2 323.2L332.2 325.6L334.2 325.9L334.5 325.9L336.2 325.7L337.5 325.6L338.2 325.6L340.2 325.8L342.0 325.9L342.2 325.9L343.0 326.0L344.2 325.1L345.0 324.4L346.2 324.4L348.2 324.3L348.7 324.3L350.2 324.4L352.2 324.5L352.5 324.5L354.2 324.8L354.7 325.0L356.2 325.8L357.0 326.3L358.2 327.3L360.0 328.6L360.2 328.9L361.5 330.5L362.2 331.1L363.7 331.0L364.2 330.5L366.2 328.2L368.2 324.8L370.2 321.2L372.2 313.9L374.2 303.4L375.0 299.4L376.2 296.1L378.0 296.9L378.2 297.4L380.2 306.2L381.0 310.2L382.2 316.2L383.2 320.0L384.2 321.0L386.2 318.8L388.2 315.1L389.0 314.6L390.2 319.5L392.2 328.7L394.2 332.5L394.5 332.7L396.2 330.6L398.2 327.4L400.2 328.8L400.5 329.0L402.2 332.0L403.5 333.3L404.2 332.4L405.7 330.0L406.2 329.4L408.0 327.1L408.2 326.7L410.2 323.2L411.0 323.2L412.2 322.5L414.2 321.5L416.2 320.6L417.5 320.0L418.2 320.5L420.2 321.7L420.5 321.8L422.2 321.9L423.5 322.0L424.2 322.2L426.2 322.8L427.2 323.1L428.2 323.8L429.5 324.8L430.2 325.7L432.2 328.3L434.2 326.8L436.2 325.3L437.0 324.6L438.2 324.4L440.0 324.1L440.2 324.2L442.2 324.6L443.7 325.0L444.2 325.3L446.2 326.6L446.7 326.9L448.2 326.9L449.0 326.9L450.2 327.7L452.2 331.1L454.2 333.7L455.0 334.6L456.2 335.4L457.2 336.0L458.2 336.6L460.2 336.9L462.2 336.7L464.2 336.5L465.5 336.3L466.2 336.2L468.2 335.8L469.2 335.6L470.2 335.4L472.2 334.8L474.2 333.8L474.5 333.6L476.2 332.9L478.2 330.9L480.2 318.0L482.2 298.0L483.0 290.5L484.2 290.1L486.2 296.4L488.0 302.0L488.2 301.8L490.2 299.9L491.7 299.4L492.2 300.0L494.2 303.3L495.5 305.9L496.2 308.3L498.2 314.7L500.0 319.4L500.2 319.0L502.2 312.5L504.2 289.1L505.7 274.5L506.2 279.4L508.2 308.3L509.0 313.8L510.2 318.4L512.2 322.2L513.5 324.2L514.2 324.3L516.2 324.5L516.5 324.5L518.2 324.6L520.2 324.7L522.2 325.7L524.0 326.3L524.2 326.2L526.2 324.6L528.2 323.3L528.5 323.0L530.2 319.6L532.2 314.2L534.2 307.9L534.5 307.0L536.2 305.2L537.5 305.7L538.2 306.0L540.2 309.1L542.2 313.6L542.7 314.7L544.2 319.4L546.2 323.8L547.2 325.5L548.2 326.0L550.2 326.6L552.2 328.2L554.2 329.4L554.5 329.6L556.2 329.3L556.7 329.2L558.2 329.0L560.2 328.7L560.5 328.6L562.2 328.0L564.2 327.2L565.7 326.5L566.2 326.9L568.2 328.4L568.7 328.8L570.2 328.0L571.0 327.6L572.2 326.4L574.2 319.9L576.2 305.1L578.2 306.1L580.2 317.2L580.7 318.3L582.2 320.0L584.2 296.3L585.7 279.3L586.2 281.7L588.2 301.8L589.0 306.1L590.2 315.0L591.2 321.2L592.2 322.2L594.2 324.0L596.2 325.2L596.5 325.4L598.2 323.5L599.5 321.4L600.2 320.6L602.2 317.4L602.5 316.9L604.2 311.6L606.2 306.7L608.2 305.8L608.5 306.1L610.2 311.7L611.5 316.2L612.2 319.1L614.2 325.2L615.2 327.2L616.2 327.5L616.7 327.5L618.2 327.5L619.0 327.4L620.2 327.5L622.0 327.7L622.2 327.7L624.2 327.6L625.0 327.5L626.2 327.8L628.2 328.4L629.5 328.7L630.2 328.8L632.2 329.2L634.2 329.6L634.7 329.7L636.2 330.5L637.7 331.4L638.2 331.4L640.2 331.6L641.5 331.7L642.2 331.9L643.7 332.1L644.2 332.0L646.2 331.5L647.5 330.8L648.2 330.0L650.2 326.8L652.2 322.3L654.2 318.5L656.2 319.6L658.0 323.0L658.2 323.5L660.2 327.9L661.0 329.3L662.2 330.3L664.2 330.9L664.7 331.0L666.2 329.6L668.2 327.6L668.5 327.4L670.2 314.9L670.7 310.9L672.2 307.7L674.2 303.7L676.2 304.2L677.5 305.1L678.2 305.7L680.2 308.1L681.2 309.5L682.2 309.6L684.2 309.8L685.7 309.6L686.2 313.0L687.7 322.9L688.2 325.1L689.5 331.2L690.2 331.4L692.2 331.7L693.7 330.5L694.2 330.3L696.2 329.0L696.7 328.7L698.2 327.3L699.7 326.5L700.2 327.1L702.0 329.7L702.2 329.9L704.2 332.3L705.0 333.1L706.2 332.2L708.2 330.2L710.2 327.7L711.0 326.6L712.2 326.0L712.5 325.9L714.2 323.0L716.2 319.1L716.7 318.1L718.2 317.5L719.2 317.2L720.2 315.7L722.2 313.3L722.5 313.0L724.2 316.1L726.2 320.1L726.7 321.2L728.2 321.8L730.2 323.0L730.8 323.3L732.2 325.2L734.2 327.6L736.2 328.6L737.2 329.0L738.2 329.6L740.2 330.8L741.7 331.5L742.2 331.6L744.2 331.8L745.5 332.0L746.2 332.1L748.2 332.6L748.5 332.6L750.2 333.2L752.2 333.9L753.0 334.1L754.2 333.4L755.2 332.7L756.2 331.9L758.2 329.9L759.0 329.2L760.2 328.7L762.2 329.0L762.7 329.2L764.2 330.5L766.2 331.6L766.5 331.7L768.2 332.7L769.5 333.3L770.2 333.4L772.2 333.5L772.5 333.5L774.2 334.1L774.7 334.3L776.2 334.0L777.0 333.9L778.2 334.1L780.0 334.3L780.2 334.2L782.2 333.2L784.2 332.2L785.0 331.8L786.2 332.0L788.2 332.2L788.6 332.3L790.2 332.2L790.4 332.2L792.2 331.6L794.0 330.9L794.2 331.1L795.8 332.8L796.2 333.2L797.6 334.7L798.2 334.6L799.4 334.2L800.2 334.5L802.2 335.1L802.4 335.2L804.2 335.0L806.2 334.8L807.2 334.7L808.2 334.3L810.2 333.5L810.8 333.3L812.2 333.4L814.2 333.5L814.4 333.5L816.2 333.9L818.0 334.4L818.2 334.5L820.2 335.4L820.4 335.5L822.2 335.3L823.4 335.2L824.2 335.3L826.2 335.4L828.2 335.6L830.0 335.7L830.2 335.7L832.2 335.8L834.2 335.9L834.8 336.0L836.2 335.9L838.2 335.7L839.6 335.7L840.2 335.9L842.2 336.6L843.2 336.9L844.2 336.8L846.2 336.7L848.0 336.6L848.2 336.6L850.2 336.5L852.2 336.5L854.0 336.4L854.2 336.4L856.2 336.3L858.2 336.3L860.0 336.2L860.2 336.2L862.2 336.2L864.2 336.2L865.3 336.2L865.3 341.00Z" fill="#c8e99e"/><path d="M160.2 341.00L160.2 306.0L162.2 298.7L163.6 295.9L164.2 296.6L166.2 300.3L168.2 302.1L168.4 302.0L170.2 293.7L172.2 280.2L174.2 268.7L175.0 266.6L176.2 270.6L178.2 283.7L178.5 286.0L180.2 299.7L182.2 310.1L184.2 315.0L184.4 315.2L186.2 307.7L188.2 287.3L189.3 271.8L190.2 263.5L192.0 262.5L192.2 264.7L194.2 289.3L196.2 305.2L198.2 315.6L200.2 322.8L200.9 325.1L202.2 327.8L204.2 328.7L205.2 326.8L206.2 323.7L206.5 322.5L208.2 312.2L210.2 304.9L212.2 294.2L214.2 281.2L216.2 268.7L218.2 260.6L220.2 259.4L220.5 259.8L222.2 275.5L224.2 292.2L226.2 304.7L226.5 306.2L228.2 307.0L230.2 306.8L231.9 306.5L232.2 307.0L234.2 310.3L236.2 313.5L237.2 315.0L238.2 314.8L240.2 314.1L240.4 314.0L242.2 314.5L242.8 314.7L244.2 314.4L246.2 314.0L248.2 313.6L248.4 313.5L250.0 313.6L250.2 313.7L252.2 315.3L254.2 316.9L255.6 318.0L256.2 318.0L258.2 318.1L260.2 318.2L260.4 318.2L262.2 318.9L263.3 319.3L264.2 319.1L266.2 318.7L268.2 319.2L269.2 323.9L270.2 328.3L272.2 333.8L272.4 334.1L274.0 332.0L274.2 331.2L276.2 317.3L276.4 315.3L278.2 309.9L280.2 311.0L282.2 315.9L284.2 321.2L286.2 324.2L287.3 324.5L288.2 324.3L288.7 323.9L290.2 318.4L292.2 308.4L294.2 301.4L294.7 301.0L296.2 309.5L297.7 318.7L298.2 320.4L300.0 324.9L300.2 325.3L302.2 327.7L304.2 328.6L306.0 328.9L306.2 329.0L308.2 329.6L310.2 329.7L311.2 329.4L312.2 327.5L314.2 322.1L316.2 315.8L317.7 312.3L318.2 313.0L320.2 318.4L321.7 323.4L322.2 324.2L324.2 326.8L325.5 327.7L326.2 328.1L328.2 328.6L329.2 328.6L330.2 329.5L332.2 331.1L334.2 331.2L334.5 331.2L336.2 331.1L337.5 331.0L338.2 331.0L340.2 331.1L342.0 331.2L342.2 331.2L343.0 331.3L344.2 330.7L345.0 330.3L346.2 330.2L348.2 330.2L348.7 330.2L350.2 330.2L352.2 330.3L352.5 330.3L354.2 330.5L354.7 330.6L356.2 331.1L357.0 331.4L358.2 332.0L360.0 332.8L360.2 333.0L361.5 334.0L362.2 334.3L363.7 334.4L364.2 334.1L366.2 332.6L368.2 330.3L370.2 327.5L372.2 321.6L374.2 313.2L375.0 309.9L376.2 307.2L378.0 307.8L378.2 308.3L380.2 315.3L381.0 318.6L382.2 323.4L383.2 326.4L384.2 327.3L386.2 325.7L388.2 322.4L389.0 321.9L390.2 325.3L392.2 332.3L394.2 335.2L394.5 335.4L396.2 334.1L398.2 332.2L400.2 332.9L400.5 333.0L402.2 334.9L403.5 335.7L404.2 335.2L405.7 333.7L406.2 333.4L408.0 331.9L408.2 331.7L410.2 329.3L411.0 329.3L412.2 329.0L414.2 328.4L416.2 327.8L417.5 327.5L418.2 327.9L420.2 328.7L420.5 328.8L422.2 328.8L423.5 328.9L424.2 329.0L426.2 329.3L427.2 329.5L428.2 330.0L429.5 330.6L430.2 331.1L432.2 332.8L434.2 331.8L436.2 330.8L437.0 330.4L438.2 330.2L440.0 330.0L440.2 330.0L442.2 330.3L443.7 330.5L444.2 330.7L446.2 331.5L446.7 331.7L448.2 331.7L449.0 331.6L450.2 332.2L452.2 334.5L454.2 336.2L455.0 336.8L456.2 337.3L457.2 337.7L458.2 338.1L460.2 338.3L462.2 338.1L464.2 338.0L465.5 337.9L466.2 337.8L468.2 337.4L469.2 337.2L470.2 337.0L472.2 336.5L474.2 335.5L474.5 335.3L476.2 334.4L478.2 332.3L480.2 320.5L482.2 301.9L483.0 294.9L484.2 294.5L486.2 300.3L488.0 305.3L488.2 305.1L490.2 303.3L491.7 302.8L492.2 303.4L494.2 306.8L495.5 309.5L496.2 311.8L498.2 318.0L500.0 322.3L500.2 322.1L502.2 316.3L504.2 293.9L505.7 280.3L506.2 285.1L508.2 313.4L509.0 318.7L510.2 323.0L512.2 326.2L513.5 327.8L514.2 327.8L516.2 328.0L516.5 328.0L518.2 328.1L520.2 328.2L522.2 328.9L524.0 329.3L524.2 329.2L526.2 327.7L528.2 326.2L528.5 325.9L530.2 322.7L532.2 317.4L534.2 311.2L534.5 310.3L536.2 308.5L537.5 308.9L538.2 309.2L540.2 312.4L542.2 317.0L542.7 318.1L544.2 322.5L546.2 326.7L547.2 328.3L548.2 328.8L550.2 329.5L552.2 330.8L554.2 331.9L554.5 332.0L556.2 331.8L556.7 331.7L558.2 331.6L560.2 331.4L560.5 331.3L562.2 330.7L564.2 330.0L565.7 329.4L566.2 329.7L568.2 330.8L568.7 331.1L570.2 330.4L571.0 330.1L572.2 329.0L574.2 322.8L576.2 308.7L578.2 309.6L580.2 320.4L580.7 321.4L582.2 322.6L584.2 299.8L585.7 283.3L586.2 285.6L588.2 304.8L589.0 308.9L590.2 317.2L591.2 322.9L592.2 323.8L594.2 325.6L596.2 326.8L596.5 326.9L598.2 325.2L599.5 323.2L600.2 322.4L602.2 319.3L602.5 318.8L604.2 313.8L606.2 309.2L608.2 308.5L608.5 308.9L610.2 314.4L611.5 318.7L612.2 321.4L614.2 327.2L615.2 329.0L616.2 329.3L616.7 329.4L618.2 329.4L619.0 329.3L620.2 329.5L622.0 329.6L622.2 329.6L624.2 329.5L625.0 329.5L626.2 329.8L628.2 330.2L629.5 330.5L630.2 330.6L632.2 330.9L634.2 331.3L634.7 331.3L636.2 332.1L637.7 332.8L638.2 332.8L640.2 333.0L641.5 333.1L642.2 333.2L643.7 333.4L644.2 333.3L646.2 332.8L647.5 332.2L648.2 331.5L650.2 328.5L652.2 324.3L654.2 320.7L656.2 321.7L658.0 324.9L658.2 325.4L660.2 329.6L661.0 330.9L662.2 331.8L664.2 332.4L664.7 332.5L666.2 331.3L668.2 329.7L668.5 329.6L670.2 319.7L670.7 316.7L672.2 314.3L674.2 310.8L676.2 310.9L677.5 311.7L678.2 312.2L680.2 314.4L681.2 315.7L682.2 316.0L684.2 316.4L685.7 316.5L686.2 319.2L687.7 327.0L688.2 328.7L689.5 333.5L690.2 333.6L692.2 333.9L693.7 332.9L694.2 332.7L696.2 331.5L696.7 331.2L698.2 330.0L699.7 329.3L700.2 329.9L702.0 332.0L702.2 332.2L704.2 334.2L705.0 334.8L706.2 334.1L708.2 332.4L710.2 330.2L711.0 329.2L712.2 328.6L712.5 328.4L714.2 325.7L716.2 322.1L716.7 321.2L718.2 320.4L719.2 320.1L720.2 318.7L722.2 316.5L722.5 316.3L724.2 319.0L726.2 322.8L726.7 323.8L728.2 324.6L730.2 325.8L730.8 326.2L732.2 328.0L734.2 330.2L736.2 331.2L737.2 331.6L738.2 332.2L740.2 333.1L741.7 333.7L742.2 333.8L744.2 334.0L745.5 334.2L746.2 334.3L748.2 334.6L748.5 334.6L750.2 335.1L752.2 335.6L753.0 335.7L754.2 335.2L755.2 334.6L756.2 333.8L758.2 331.9L759.0 331.2L760.2 330.8L762.2 331.1L762.7 331.3L764.2 332.6L766.2 333.6L766.5 333.7L768.2 334.5L769.5 335.0L770.2 335.1L772.2 335.2L772.5 335.2L774.2 335.6L774.7 335.8L776.2 335.6L777.0 335.5L778.2 335.6L780.0 335.8L780.2 335.7L782.2 335.0L784.2 334.2L785.0 333.9L786.2 334.0L788.2 334.2L788.6 334.2L790.2 334.2L790.4 334.2L792.2 333.7L794.0 333.2L794.2 333.4L795.8 334.7L796.2 335.0L797.6 336.2L798.2 336.0L799.4 335.8L800.2 336.0L802.2 336.4L802.4 336.5L804.2 336.4L806.2 336.2L807.2 336.1L808.2 335.8L810.2 335.2L810.8 335.0L812.2 335.1L814.2 335.2L814.4 335.2L816.2 335.6L818.0 335.9L818.2 336.0L820.2 336.7L820.4 336.8L822.2 336.7L823.4 336.6L824.2 336.6L826.2 336.7L828.2 336.8L830.0 337.0L830.2 337.0L832.2 337.1L834.2 337.1L834.8 337.2L836.2 337.1L838.2 337.0L839.6 336.9L840.2 337.1L842.2 337.6L843.2 337.9L844.2 337.8L846.2 337.7L848.0 337.6L848.2 337.6L850.2 337.6L852.2 337.6L854.0 337.5L854.2 337.5L856.2 337.5L858.2 337.4L860.0 337.4L860.2 337.4L862.2 337.4L864.2 337.4L865.3 337.4L865.3 341.00Z" fill="#ddf19a"/><path d="M160.2 341.00L160.2 314.4L162.2 308.2L163.6 305.6L164.2 306.0L166.2 308.5L168.2 309.8L168.4 309.8L170.2 303.6L172.2 293.8L174.2 285.7L175.0 284.3L176.2 287.5L178.2 297.7L178.5 299.4L180.2 309.8L182.2 317.7L184.2 321.4L184.4 321.6L186.2 316.0L188.2 300.9L189.3 289.3L190.2 283.2L192.0 282.3L192.2 283.9L194.2 301.7L196.2 313.0L198.2 320.4L200.2 325.9L200.9 327.8L202.2 330.0L204.2 331.5L205.2 330.7L206.2 328.7L206.5 327.9L208.2 320.3L210.2 315.2L212.2 307.5L214.2 298.0L216.2 288.9L218.2 283.1L220.2 282.3L220.5 282.6L222.2 293.8L224.2 305.7L226.2 314.4L226.5 315.5L228.2 315.7L230.2 315.2L231.9 315.0L232.2 315.3L234.2 318.2L236.2 321.1L237.2 322.3L238.2 322.4L240.2 322.2L240.4 322.2L242.2 322.6L242.8 322.7L244.2 322.6L246.2 322.3L248.2 322.0L248.4 322.0L250.0 322.0L250.2 322.1L252.2 323.2L254.2 324.3L255.6 325.0L256.2 325.1L258.2 325.1L260.2 325.2L260.4 325.2L262.2 325.7L263.3 326.0L264.2 325.9L266.2 325.5L268.2 326.0L269.2 329.7L270.2 332.8L272.2 336.3L272.4 336.5L274.0 335.0L274.2 334.4L276.2 324.3L276.4 322.8L278.2 318.3L280.2 318.8L282.2 322.2L284.2 326.1L286.2 328.7L287.3 329.2L288.2 329.3L288.7 329.1L290.2 325.4L292.2 318.4L294.2 313.5L294.7 313.3L296.2 319.4L297.7 326.0L298.2 327.2L300.0 330.6L300.2 330.9L302.2 332.7L304.2 333.3L306.0 333.6L306.2 333.6L308.2 333.9L310.2 333.9L311.2 333.6L312.2 332.3L314.2 328.5L316.2 323.9L317.7 321.4L318.2 321.9L320.2 325.7L321.7 329.3L322.2 329.9L324.2 331.9L325.5 332.6L326.2 332.9L328.2 333.3L329.2 333.4L330.2 333.9L332.2 334.9L334.2 335.0L334.5 335.0L336.2 334.9L337.5 334.8L338.2 334.9L340.2 334.9L342.0 335.0L342.2 335.0L343.0 335.0L344.2 334.6L345.0 334.4L346.2 334.4L348.2 334.3L348.7 334.3L350.2 334.4L352.2 334.4L352.5 334.4L354.2 334.5L354.7 334.6L356.2 334.9L357.0 335.1L358.2 335.4L360.0 335.8L360.2 335.9L361.5 336.5L362.2 336.7L363.7 336.8L364.2 336.6L366.2 335.7L368.2 334.3L370.2 332.3L372.2 328.0L374.2 321.8L375.0 319.4L376.2 317.4L378.0 317.8L378.2 318.2L380.2 323.4L381.0 325.8L382.2 329.3L383.2 331.5L384.2 332.2L386.2 331.1L388.2 328.4L389.0 328.0L390.2 330.3L392.2 335.1L394.2 337.2L394.5 337.3L396.2 336.7L398.2 335.5L400.2 335.9L400.5 335.9L402.2 337.0L403.5 337.5L404.2 337.2L405.7 336.4L406.2 336.2L408.0 335.3L408.2 335.2L410.2 333.7L411.0 333.8L412.2 333.5L414.2 333.2L416.2 333.0L417.5 332.8L418.2 333.0L420.2 333.6L420.5 333.6L422.2 333.6L423.5 333.6L424.2 333.7L426.2 333.9L427.2 334.0L428.2 334.2L429.5 334.6L430.2 334.9L432.2 335.9L434.2 335.3L436.2 334.6L437.0 334.4L438.2 334.2L440.0 334.1L440.2 334.1L442.2 334.2L443.7 334.3L444.2 334.5L446.2 334.9L446.7 335.1L448.2 335.0L449.0 335.0L450.2 335.4L452.2 336.8L454.2 337.9L455.0 338.3L456.2 338.6L457.2 338.8L458.2 339.0L460.2 339.1L462.2 339.0L464.2 338.9L465.5 338.8L466.2 338.7L468.2 338.5L469.2 338.3L470.2 338.1L472.2 337.5L474.2 336.5L474.5 336.3L476.2 335.3L478.2 333.3L480.2 322.5L482.2 305.7L483.0 299.2L484.2 298.7L486.2 303.7L488.0 308.0L488.2 307.9L490.2 306.1L491.7 305.8L492.2 306.4L494.2 309.7L495.5 312.4L496.2 314.6L498.2 320.6L500.0 324.8L500.2 324.6L502.2 319.5L504.2 299.0L505.7 286.8L506.2 291.4L508.2 317.8L509.0 322.9L510.2 326.7L512.2 329.4L513.5 330.7L514.2 330.8L516.2 330.9L516.5 330.9L518.2 331.0L520.2 331.0L522.2 331.5L524.0 331.7L524.2 331.6L526.2 330.2L528.2 328.7L528.5 328.3L530.2 325.2L532.2 320.2L534.2 314.3L534.5 313.5L536.2 311.7L537.5 312.1L538.2 312.4L540.2 315.4L542.2 319.9L542.7 321.0L544.2 325.2L546.2 329.2L547.2 330.6L548.2 331.2L550.2 331.9L552.2 333.0L554.2 333.9L554.5 334.0L556.2 333.8L556.7 333.8L558.2 333.7L560.2 333.5L560.5 333.4L562.2 332.9L564.2 332.3L565.7 331.8L566.2 332.0L568.2 332.9L568.7 333.1L570.2 332.5L571.0 332.2L572.2 331.3L574.2 325.8L576.2 312.9L578.2 313.8L580.2 323.4L580.7 324.3L582.2 325.1L584.2 304.2L585.7 289.0L586.2 290.9L588.2 308.1L589.0 311.8L590.2 319.3L591.2 324.6L592.2 325.5L594.2 327.2L596.2 328.4L596.5 328.5L598.2 326.9L599.5 325.1L600.2 324.3L602.2 321.4L602.5 320.9L604.2 316.4L606.2 312.4L608.2 312.0L608.5 312.3L610.2 317.5L611.5 321.5L612.2 324.0L614.2 329.2L615.2 330.9L616.2 331.2L616.7 331.3L618.2 331.3L619.0 331.2L620.2 331.4L622.0 331.5L622.2 331.5L624.2 331.4L625.0 331.4L626.2 331.6L628.2 332.0L629.5 332.3L630.2 332.4L632.2 332.6L634.2 332.9L634.7 333.0L636.2 333.6L637.7 334.2L638.2 334.2L640.2 334.4L641.5 334.5L642.2 334.5L643.7 334.7L644.2 334.6L646.2 334.2L647.5 333.6L648.2 333.0L650.2 330.4L652.2 326.7L654.2 323.4L656.2 324.4L658.0 327.2L658.2 327.6L660.2 331.4L661.0 332.5L662.2 333.3L664.2 333.9L664.7 334.0L666.2 333.1L668.2 331.7L668.5 331.6L670.2 324.1L670.7 321.7L672.2 320.1L674.2 316.9L676.2 316.8L677.5 317.3L678.2 317.8L680.2 319.9L681.2 321.1L682.2 321.5L684.2 322.2L685.7 322.4L686.2 324.5L687.7 330.4L688.2 331.7L689.5 335.4L690.2 335.5L692.2 335.6L693.7 334.9L694.2 334.7L696.2 333.7L696.7 333.4L698.2 332.4L699.7 331.9L700.2 332.3L702.0 334.1L702.2 334.3L704.2 335.8L705.0 336.3L706.2 335.7L708.2 334.3L710.2 332.3L711.0 331.4L712.2 330.8L712.5 330.6L714.2 328.1L716.2 324.7L716.7 323.8L718.2 322.9L719.2 322.5L720.2 321.2L722.2 319.2L722.5 319.0L724.2 321.5L726.2 325.0L726.7 325.9L728.2 326.8L730.2 328.2L730.8 328.6L732.2 330.4L734.2 332.4L736.2 333.4L737.2 333.8L738.2 334.3L740.2 335.1L741.7 335.6L742.2 335.7L744.2 335.9L745.5 336.0L746.2 336.0L748.2 336.3L748.5 336.3L750.2 336.6L752.2 337.0L753.0 337.1L754.2 336.6L755.2 336.1L756.2 335.4L758.2 333.7L759.0 333.0L760.2 332.6L762.2 332.9L762.7 333.2L764.2 334.4L766.2 335.3L766.5 335.4L768.2 336.1L769.5 336.5L770.2 336.5L772.2 336.6L772.5 336.6L774.2 337.0L774.7 337.1L776.2 336.9L777.0 336.8L778.2 336.9L780.0 337.1L780.2 337.0L782.2 336.4L784.2 335.9L785.0 335.6L786.2 335.7L788.2 335.9L788.6 335.9L790.2 335.9L790.4 335.9L792.2 335.5L794.0 335.2L794.2 335.3L795.8 336.2L796.2 336.5L797.6 337.4L798.2 337.3L799.4 337.1L800.2 337.2L802.2 337.6L802.4 337.6L804.2 337.5L806.2 337.4L807.2 337.4L808.2 337.1L810.2 336.7L810.8 336.6L812.2 336.6L814.2 336.7L814.4 336.7L816.2 337.0L818.0 337.2L818.2 337.3L820.2 337.8L820.4 337.9L822.2 337.8L823.4 337.7L824.2 337.7L826.2 337.8L828.2 337.9L830.0 338.0L830.2 338.0L832.2 338.1L834.2 338.2L834.8 338.2L836.2 338.1L838.2 338.1L839.6 338.0L840.2 338.1L842.2 338.5L843.2 338.7L844.2 338.7L846.2 338.6L848.0 338.5L848.2 338.5L850.2 338.5L852.2 338.5L854.0 338.5L854.2 338.5L856.2 338.4L858.2 338.4L860.0 338.3L860.2 338.4L862.2 338.4L864.2 338.4L865.3 338.4L865.3 341.00Z" fill="#eaf79e"/><path d="M160.2 341.00L160.2 321.0L162.2 316.0L163.6 313.5L164.2 313.6L166.2 315.0L168.2 316.0L168.4 316.0L170.2 311.8L172.2 305.6L174.2 300.6L175.0 299.9L176.2 302.4L178.2 309.6L178.5 310.8L180.2 318.1L182.2 323.6L184.2 326.3L184.4 326.4L186.2 322.6L188.2 312.4L189.3 304.7L190.2 300.6L192.0 299.8L192.2 300.8L194.2 312.1L196.2 319.0L198.2 323.9L200.2 328.1L200.9 329.6L202.2 331.6L204.2 333.6L205.2 333.5L206.2 332.5L206.5 332.0L208.2 326.9L210.2 323.6L212.2 318.7L214.2 312.6L216.2 306.7L218.2 303.0L220.2 302.4L220.5 302.6L222.2 309.7L224.2 317.2L226.2 322.4L226.5 323.1L228.2 322.6L230.2 321.8L231.9 321.6L232.2 321.9L234.2 324.3L236.2 326.9L237.2 328.0L238.2 328.3L240.2 328.5L240.4 328.4L242.2 328.9L242.8 329.0L244.2 328.9L246.2 328.7L248.2 328.5L248.4 328.5L250.0 328.6L250.2 328.6L252.2 329.3L254.2 330.0L255.6 330.5L256.2 330.6L258.2 330.6L260.2 330.6L260.4 330.7L262.2 331.0L263.3 331.2L264.2 331.1L266.2 330.9L268.2 331.3L269.2 334.0L270.2 336.0L272.2 338.1L272.4 338.1L274.0 337.1L274.2 336.7L276.2 329.5L276.4 328.4L278.2 324.7L280.2 324.5L282.2 326.6L284.2 329.5L286.2 331.9L287.3 332.6L288.2 333.0L288.7 333.0L290.2 330.9L292.2 326.6L294.2 323.6L294.7 323.5L296.2 327.4L297.7 331.7L298.2 332.5L300.0 334.8L300.2 335.0L302.2 336.2L304.2 336.6L306.0 336.7L306.2 336.7L308.2 336.9L310.2 336.8L311.2 336.6L312.2 335.8L314.2 333.3L316.2 330.4L317.7 328.8L318.2 329.1L320.2 331.5L321.7 333.8L322.2 334.2L324.2 335.6L325.5 336.1L326.2 336.3L328.2 336.6L329.2 336.6L330.2 336.9L332.2 337.5L334.2 337.5L334.5 337.5L336.2 337.5L337.5 337.4L338.2 337.4L340.2 337.5L342.0 337.5L342.2 337.5L343.0 337.5L344.2 337.3L345.0 337.2L346.2 337.2L348.2 337.1L348.7 337.1L350.2 337.2L352.2 337.2L352.5 337.2L354.2 337.3L354.7 337.3L356.2 337.4L357.0 337.5L358.2 337.7L360.0 337.9L360.2 338.0L361.5 338.3L362.2 338.4L363.7 338.5L364.2 338.4L366.2 337.9L368.2 337.1L370.2 335.8L372.2 333.0L374.2 328.9L375.0 327.3L376.2 326.0L378.0 326.3L378.2 326.5L380.2 329.9L381.0 331.5L382.2 333.8L383.2 335.2L384.2 335.7L386.2 335.0L388.2 333.2L389.0 332.8L390.2 334.3L392.2 337.3L394.2 338.7L394.5 338.8L396.2 338.4L398.2 337.8L400.2 338.0L400.5 338.0L402.2 338.6L403.5 338.9L404.2 338.7L405.7 338.2L406.2 338.2L408.0 337.7L408.2 337.6L410.2 336.8L411.0 336.8L412.2 336.7L414.2 336.5L416.2 336.4L417.5 336.3L418.2 336.5L420.2 336.8L420.5 336.8L422.2 336.8L423.5 336.8L424.2 336.8L426.2 336.9L427.2 336.9L428.2 337.1L429.5 337.3L430.2 337.5L432.2 338.0L434.2 337.6L436.2 337.2L437.0 337.1L438.2 337.0L440.0 336.9L440.2 336.9L442.2 336.9L443.7 337.0L444.2 337.0L446.2 337.3L446.7 337.4L448.2 337.3L449.0 337.3L450.2 337.5L452.2 338.4L454.2 339.0L455.0 339.2L456.2 339.4L457.2 339.5L458.2 339.7L460.2 339.7L462.2 339.7L464.2 339.6L465.5 339.5L466.2 339.4L468.2 339.2L469.2 339.0L470.2 338.8L472.2 338.2L474.2 337.2L474.5 337.0L476.2 336.0L478.2 334.0L480.2 324.5L482.2 309.6L483.0 303.8L484.2 303.1L486.2 307.0L488.0 310.6L488.2 310.4L490.2 308.7L491.7 308.4L492.2 309.0L494.2 312.4L495.5 315.0L496.2 317.2L498.2 323.0L500.0 326.9L500.2 326.8L502.2 322.3L504.2 304.5L505.7 294.3L506.2 298.4L508.2 321.9L509.0 326.5L510.2 330.0L512.2 332.2L513.5 333.2L514.2 333.3L516.2 333.4L516.5 333.4L518.2 333.4L520.2 333.4L522.2 333.7L524.0 333.8L524.2 333.7L526.2 332.4L528.2 330.8L528.5 330.5L530.2 327.6L532.2 322.8L534.2 317.5L534.5 316.7L536.2 315.1L537.5 315.4L538.2 315.7L540.2 318.5L542.2 322.7L542.7 323.7L544.2 327.6L546.2 331.3L547.2 332.6L548.2 333.2L550.2 334.0L552.2 334.9L554.2 335.6L554.5 335.7L556.2 335.6L556.7 335.5L558.2 335.5L560.2 335.3L560.5 335.3L562.2 334.9L564.2 334.4L565.7 334.0L566.2 334.1L568.2 334.7L568.7 334.9L570.2 334.5L571.0 334.2L572.2 333.5L574.2 328.8L576.2 318.0L578.2 318.7L580.2 326.7L580.7 327.4L582.2 327.7L584.2 309.6L585.7 296.3L586.2 297.8L588.2 311.8L589.0 314.9L590.2 321.6L591.2 326.4L592.2 327.3L594.2 329.0L596.2 330.0L596.5 330.1L598.2 328.7L599.5 327.1L600.2 326.4L602.2 323.9L602.5 323.5L604.2 319.7L606.2 316.4L608.2 316.3L608.5 316.6L610.2 321.1L611.5 324.7L612.2 326.9L614.2 331.3L615.2 332.8L616.2 333.1L616.7 333.2L618.2 333.2L619.0 333.2L620.2 333.3L622.0 333.4L622.2 333.4L624.2 333.4L625.0 333.4L626.2 333.6L628.2 333.9L629.5 334.1L630.2 334.1L632.2 334.4L634.2 334.6L634.7 334.7L636.2 335.1L637.7 335.6L638.2 335.7L640.2 335.8L641.5 335.9L642.2 335.9L643.7 336.0L644.2 336.0L646.2 335.7L647.5 335.2L648.2 334.7L650.2 332.5L652.2 329.5L654.2 326.8L656.2 327.6L658.0 330.0L658.2 330.3L660.2 333.4L661.0 334.3L662.2 335.0L664.2 335.5L664.7 335.5L666.2 334.8L668.2 333.7L668.5 333.7L670.2 328.0L670.7 326.3L672.2 325.0L674.2 322.1L676.2 321.8L677.5 322.2L678.2 322.6L680.2 324.5L681.2 325.7L682.2 326.2L684.2 327.1L685.7 327.4L686.2 329.0L687.7 333.4L688.2 334.3L689.5 337.0L690.2 337.1L692.2 337.1L693.7 336.5L694.2 336.4L696.2 335.6L696.7 335.4L698.2 334.6L699.7 334.2L700.2 334.5L702.0 335.9L702.2 336.0L704.2 337.2L705.0 337.5L706.2 337.0L708.2 335.8L710.2 334.1L711.0 333.3L712.2 332.6L712.5 332.4L714.2 330.0L716.2 326.8L716.7 326.0L718.2 325.0L719.2 324.6L720.2 323.4L722.2 321.6L722.5 321.4L724.2 323.7L726.2 327.0L726.7 327.8L728.2 328.8L730.2 330.3L730.8 330.7L732.2 332.4L734.2 334.3L736.2 335.3L737.2 335.6L738.2 336.1L740.2 336.8L741.7 337.1L742.2 337.2L744.2 337.4L745.5 337.4L746.2 337.5L748.2 337.7L748.5 337.7L750.2 337.9L752.2 338.2L753.0 338.2L754.2 337.9L755.2 337.4L756.2 336.8L758.2 335.1L759.0 334.5L760.2 334.1L762.2 334.5L762.7 334.8L764.2 335.9L766.2 336.8L766.5 336.9L768.2 337.4L769.5 337.7L770.2 337.8L772.2 337.8L772.5 337.8L774.2 338.1L774.7 338.2L776.2 338.1L777.0 338.0L778.2 338.1L780.0 338.2L780.2 338.2L782.2 337.7L784.2 337.3L785.0 337.2L786.2 337.2L788.2 337.4L788.6 337.4L790.2 337.4L790.4 337.4L792.2 337.1L794.0 336.9L794.2 336.9L795.8 337.6L796.2 337.8L797.6 338.4L798.2 338.4L799.4 338.2L800.2 338.3L802.2 338.6L802.4 338.6L804.2 338.6L806.2 338.5L807.2 338.4L808.2 338.3L810.2 338.0L810.8 337.9L812.2 337.9L814.2 338.0L814.4 338.0L816.2 338.2L818.0 338.4L818.2 338.4L820.2 338.8L820.4 338.8L822.2 338.8L823.4 338.7L824.2 338.7L826.2 338.8L828.2 338.9L830.0 338.9L830.2 338.9L832.2 339.0L834.2 339.0L834.8 339.0L836.2 339.0L838.2 339.0L839.6 338.9L840.2 339.0L842.2 339.3L843.2 339.4L844.2 339.4L846.2 339.3L848.0 339.3L848.2 339.3L850.2 339.3L852.2 339.3L854.0 339.3L854.2 339.3L856.2 339.2L858.2 339.2L860.0 339.2L860.2 339.2L862.2 339.2L864.2 339.2L865.3 339.2L865.3 341.00Z" fill="#f3faac"/><path d="M160.2 341.00L160.2 325.9L162.2 321.7L163.6 319.4L164.2 319.3L166.2 319.8L168.2 320.5L168.4 320.6L170.2 318.0L172.2 314.6L174.2 312.1L175.0 311.9L176.2 313.9L178.2 318.7L178.5 319.5L180.2 324.2L182.2 327.9L184.2 329.8L184.4 329.9L186.2 327.4L188.2 321.2L189.3 316.5L190.2 314.1L192.0 313.3L192.2 313.8L194.2 319.9L196.2 323.4L198.2 326.3L200.2 329.6L200.9 330.9L202.2 332.7L204.2 335.0L205.2 335.4L206.2 335.1L206.5 334.8L208.2 331.7L210.2 330.0L212.2 327.2L214.2 323.8L216.2 320.5L218.2 318.4L220.2 317.9L220.5 318.0L222.2 322.0L224.2 325.8L226.2 328.4L226.5 328.7L228.2 327.7L230.2 326.6L231.9 326.4L232.2 326.6L234.2 328.8L236.2 331.1L237.2 332.2L238.2 332.6L240.2 333.0L240.4 333.0L242.2 333.4L242.8 333.5L244.2 333.5L246.2 333.4L248.2 333.3L248.4 333.3L250.0 333.3L250.2 333.3L252.2 333.8L254.2 334.2L255.6 334.5L256.2 334.5L258.2 334.6L260.2 334.6L260.4 334.6L262.2 334.8L263.3 334.9L264.2 334.8L266.2 334.7L268.2 335.0L269.2 336.9L270.2 338.2L272.2 339.2L272.4 339.3L274.0 338.4L274.2 338.2L276.2 333.2L276.4 332.3L278.2 329.2L280.2 328.4L282.2 329.6L284.2 331.7L286.2 334.0L287.3 334.9L288.2 335.5L288.7 335.7L290.2 334.8L292.2 332.6L294.2 331.1L294.7 331.0L296.2 333.3L297.7 335.8L298.2 336.3L300.0 337.6L300.2 337.7L302.2 338.4L304.2 338.6L306.0 338.7L306.2 338.7L308.2 338.8L310.2 338.8L311.2 338.6L312.2 338.2L314.2 336.7L316.2 335.0L317.7 334.1L318.2 334.3L320.2 335.7L321.7 337.0L322.2 337.2L324.2 338.0L325.5 338.3L326.2 338.5L328.2 338.6L329.2 338.6L330.2 338.8L332.2 339.1L334.2 339.1L334.5 339.1L336.2 339.1L337.5 339.1L338.2 339.1L340.2 339.1L342.0 339.1L342.2 339.1L343.0 339.2L344.2 339.0L345.0 339.0L346.2 339.0L348.2 338.9L348.7 338.9L350.2 339.0L352.2 339.0L352.5 339.0L354.2 339.0L354.7 339.0L356.2 339.1L357.0 339.1L358.2 339.2L360.0 339.3L360.2 339.3L361.5 339.5L362.2 339.6L363.7 339.6L364.2 339.6L366.2 339.3L368.2 338.9L370.2 338.1L372.2 336.5L374.2 334.2L375.0 333.3L376.2 332.5L378.0 332.6L378.2 332.8L380.2 334.8L381.0 335.7L382.2 337.0L383.2 337.8L384.2 338.1L386.2 337.7L388.2 336.6L389.0 336.4L390.2 337.2L392.2 338.9L394.2 339.7L394.5 339.8L396.2 339.6L398.2 339.3L400.2 339.3L400.5 339.3L402.2 339.7L403.5 339.8L404.2 339.7L405.7 339.5L406.2 339.5L408.0 339.2L408.2 339.2L410.2 338.7L411.0 338.7L412.2 338.7L414.2 338.6L416.2 338.6L417.5 338.5L418.2 338.6L420.2 338.8L420.5 338.8L422.2 338.8L423.5 338.8L424.2 338.8L426.2 338.8L427.2 338.8L428.2 338.9L429.5 339.0L430.2 339.1L432.2 339.4L434.2 339.1L436.2 338.9L437.0 338.8L438.2 338.8L440.0 338.7L440.2 338.7L442.2 338.7L443.7 338.7L444.2 338.7L446.2 338.9L446.7 338.9L448.2 338.9L449.0 338.9L450.2 339.0L452.2 339.5L454.2 339.8L455.0 339.9L456.2 340.0L457.2 340.1L458.2 340.2L460.2 340.2L462.2 340.1L464.2 340.0L465.5 340.0L466.2 339.9L468.2 339.7L469.2 339.5L470.2 339.4L472.2 338.8L474.2 337.8L474.5 337.6L476.2 336.5L478.2 334.6L480.2 326.4L482.2 313.6L483.0 308.5L484.2 307.7L486.2 310.3L488.0 313.0L488.2 312.8L490.2 311.2L491.7 311.0L492.2 311.6L494.2 314.8L495.5 317.5L496.2 319.6L498.2 325.1L500.0 328.9L500.2 328.8L502.2 325.0L504.2 310.3L505.7 302.4L506.2 306.0L508.2 325.8L509.0 329.8L510.2 332.8L512.2 334.7L513.5 335.4L514.2 335.4L516.2 335.5L516.5 335.5L518.2 335.6L520.2 335.5L522.2 335.7L524.0 335.6L524.2 335.5L526.2 334.3L528.2 332.7L528.5 332.4L530.2 329.7L532.2 325.4L534.2 320.7L534.5 320.0L536.2 318.5L537.5 318.8L538.2 319.1L540.2 321.6L542.2 325.3L542.7 326.3L544.2 329.8L546.2 333.2L547.2 334.4L548.2 335.0L550.2 335.8L552.2 336.6L554.2 337.1L554.5 337.2L556.2 337.1L556.7 337.1L558.2 337.0L560.2 336.9L560.5 336.9L562.2 336.6L564.2 336.2L565.7 335.9L566.2 336.0L568.2 336.5L568.7 336.6L570.2 336.3L571.0 336.1L572.2 335.5L574.2 331.9L576.2 323.6L578.2 324.1L580.2 330.0L580.7 330.4L582.2 330.4L584.2 315.7L585.7 304.6L586.2 305.6L588.2 315.9L589.0 318.2L590.2 324.0L591.2 328.2L592.2 329.1L594.2 330.7L596.2 331.8L596.5 331.8L598.2 330.6L599.5 329.2L600.2 328.7L602.2 326.6L602.5 326.3L604.2 323.3L606.2 320.9L608.2 321.0L608.5 321.3L610.2 325.2L611.5 328.1L612.2 329.9L614.2 333.6L615.2 334.7L616.2 335.0L616.7 335.1L618.2 335.2L619.0 335.2L620.2 335.3L622.0 335.4L622.2 335.4L624.2 335.4L625.0 335.4L626.2 335.5L628.2 335.7L629.5 335.9L630.2 335.9L632.2 336.1L634.2 336.3L634.7 336.3L636.2 336.7L637.7 337.1L638.2 337.1L640.2 337.2L641.5 337.2L642.2 337.3L643.7 337.4L644.2 337.3L646.2 337.1L647.5 336.7L648.2 336.4L650.2 334.8L652.2 332.4L654.2 330.5L656.2 331.1L658.0 332.8L658.2 333.1L660.2 335.4L661.0 336.1L662.2 336.6L664.2 337.0L664.7 337.0L666.2 336.5L668.2 335.7L668.5 335.7L670.2 331.5L670.7 330.2L672.2 329.0L674.2 326.4L676.2 325.9L677.5 326.2L678.2 326.6L680.2 328.4L681.2 329.4L682.2 330.1L684.2 331.1L685.7 331.6L686.2 332.7L687.7 335.8L688.2 336.5L689.5 338.3L690.2 338.3L692.2 338.4L693.7 338.0L694.2 337.9L696.2 337.3L696.7 337.1L698.2 336.6L699.7 336.3L700.2 336.5L702.0 337.4L702.2 337.5L704.2 338.3L705.0 338.5L706.2 338.1L708.2 337.1L710.2 335.6L711.0 334.8L712.2 334.1L712.5 333.9L714.2 331.7L716.2 328.6L716.7 327.8L718.2 326.9L719.2 326.4L720.2 325.3L722.2 323.6L722.5 323.4L724.2 325.6L726.2 328.6L726.7 329.4L728.2 330.4L730.2 332.0L730.8 332.4L732.2 334.0L734.2 335.8L736.2 336.8L737.2 337.1L738.2 337.5L740.2 338.1L741.7 338.4L742.2 338.4L744.2 338.6L745.5 338.6L746.2 338.7L748.2 338.8L748.5 338.8L750.2 339.0L752.2 339.1L753.0 339.2L754.2 338.9L755.2 338.5L756.2 337.9L758.2 336.3L759.0 335.7L760.2 335.4L762.2 335.9L762.7 336.2L764.2 337.2L766.2 338.1L766.5 338.2L768.2 338.6L769.5 338.8L770.2 338.8L772.2 338.9L772.5 338.9L774.2 339.1L774.7 339.1L776.2 339.1L777.0 339.0L778.2 339.1L780.0 339.1L780.2 339.1L782.2 338.9L784.2 338.6L785.0 338.5L786.2 338.5L788.2 338.6L788.6 338.6L790.2 338.6L790.4 338.6L792.2 338.4L794.0 338.3L794.2 338.3L795.8 338.8L796.2 338.9L797.6 339.3L798.2 339.3L799.4 339.2L800.2 339.3L802.2 339.4L802.4 339.4L804.2 339.4L806.2 339.4L807.2 339.3L808.2 339.2L810.2 339.0L810.8 339.0L812.2 339.0L814.2 339.1L814.4 339.1L816.2 339.2L818.0 339.3L818.2 339.3L820.2 339.6L820.4 339.6L822.2 339.6L823.4 339.5L824.2 339.5L826.2 339.6L828.2 339.6L830.0 339.7L830.2 339.7L832.2 339.7L834.2 339.7L834.8 339.8L836.2 339.7L838.2 339.7L839.6 339.7L840.2 339.7L842.2 339.9L843.2 340.0L844.2 340.0L846.2 340.0L848.0 339.9L848.2 339.9L850.2 339.9L852.2 339.9L854.0 339.9L854.2 339.9L856.2 339.9L858.2 339.9L860.0 339.9L860.2 339.9L862.2 339.9L864.2 339.9L865.3 339.9L865.3 341.00Z" fill="#fbfdb8"/><path d="M160.2 341.00L160.2 329.1L162.2 325.6L163.6 323.5L164.2 323.2L166.2 323.1L168.2 323.7L168.4 323.8L170.2 322.3L172.2 320.8L174.2 320.0L175.0 320.1L176.2 321.7L178.2 324.9L178.5 325.4L180.2 328.3L182.2 330.7L184.2 332.1L184.4 332.2L186.2 330.6L188.2 327.0L189.3 324.4L190.2 323.2L192.0 322.4L192.2 322.6L194.2 325.3L196.2 326.3L198.2 327.9L200.2 330.6L200.9 331.8L202.2 333.5L204.2 335.9L205.2 336.6L206.2 336.7L206.5 336.7L208.2 335.0L210.2 334.3L212.2 333.0L214.2 331.4L216.2 329.8L218.2 328.8L220.2 328.4L220.5 328.4L222.2 330.2L224.2 331.7L226.2 332.5L226.5 332.6L228.2 331.3L230.2 330.0L231.9 329.7L232.2 329.9L234.2 331.9L236.2 334.1L237.2 335.0L238.2 335.5L240.2 336.0L240.4 336.1L242.2 336.5L242.8 336.5L244.2 336.6L246.2 336.5L248.2 336.5L248.4 336.5L250.0 336.5L250.2 336.5L252.2 336.8L254.2 337.0L255.6 337.2L256.2 337.2L258.2 337.2L260.2 337.2L260.4 337.2L262.2 337.4L263.3 337.4L264.2 337.4L266.2 337.3L268.2 337.5L269.2 338.7L270.2 339.5L272.2 340.0L272.4 339.9L274.0 339.3L274.2 339.1L276.2 335.5L276.4 334.9L278.2 332.2L280.2 330.9L282.2 331.4L284.2 333.1L286.2 335.3L287.3 336.3L288.2 337.1L288.7 337.4L290.2 337.3L292.2 336.6L294.2 335.9L294.7 335.9L296.2 337.1L297.7 338.4L298.2 338.7L300.0 339.3L300.2 339.4L302.2 339.7L304.2 339.9L306.0 339.9L306.2 339.9L308.2 339.9L310.2 339.9L311.2 339.8L312.2 339.6L314.2 338.9L316.2 338.0L317.7 337.6L318.2 337.7L320.2 338.4L321.7 339.0L322.2 339.1L324.2 339.6L325.5 339.7L326.2 339.8L328.2 339.9L329.2 339.9L330.2 339.9L332.2 340.1L334.2 340.1L334.5 340.1L336.2 340.1L337.5 340.1L338.2 340.1L340.2 340.1L342.0 340.1L342.2 340.1L343.0 340.1L344.2 340.1L345.0 340.0L346.2 340.0L348.2 340.0L348.7 340.0L350.2 340.0L352.2 340.0L352.5 340.0L354.2 340.0L354.7 340.1L356.2 340.1L357.0 340.1L358.2 340.1L360.0 340.2L360.2 340.2L361.5 340.3L362.2 340.3L363.7 340.3L364.2 340.3L366.2 340.2L368.2 340.0L370.2 339.6L372.2 338.8L374.2 337.6L375.0 337.1L376.2 336.7L378.0 336.8L378.2 336.9L380.2 337.9L381.0 338.3L382.2 339.0L383.2 339.4L384.2 339.6L386.2 339.4L388.2 338.8L389.0 338.7L390.2 339.1L392.2 340.0L394.2 340.4L394.5 340.4L396.2 340.3L398.2 340.2L400.2 340.2L400.5 340.2L402.2 340.3L403.5 340.4L404.2 340.4L405.7 340.3L406.2 340.2L408.0 340.1L408.2 340.1L410.2 339.9L411.0 339.9L412.2 339.9L414.2 339.8L416.2 339.8L417.5 339.8L418.2 339.8L420.2 339.9L420.5 339.9L422.2 339.9L423.5 339.9L424.2 339.9L426.2 339.9L427.2 339.9L428.2 340.0L429.5 340.0L430.2 340.0L432.2 340.2L434.2 340.1L436.2 339.9L437.0 339.9L438.2 339.8L440.0 339.8L440.2 339.8L442.2 339.8L443.7 339.8L444.2 339.8L446.2 339.9L446.7 339.9L448.2 339.9L449.0 339.8L450.2 339.9L452.2 340.2L454.2 340.3L455.0 340.4L456.2 340.4L457.2 340.5L458.2 340.5L460.2 340.5L462.2 340.5L464.2 340.4L465.5 340.3L466.2 340.3L468.2 340.1L469.2 340.0L470.2 339.8L472.2 339.2L474.2 338.3L474.5 338.1L476.2 337.0L478.2 335.2L480.2 328.3L482.2 317.6L483.0 313.2L484.2 312.1L486.2 313.5L488.0 315.5L488.2 315.2L490.2 313.6L491.7 313.5L492.2 314.0L494.2 317.2L495.5 319.8L496.2 321.8L498.2 327.1L500.0 330.6L500.2 330.6L502.2 327.5L504.2 315.9L505.7 310.4L506.2 313.3L508.2 329.3L509.0 332.7L510.2 335.3L512.2 336.8L513.5 337.3L514.2 337.3L516.2 337.4L516.5 337.4L518.2 337.4L520.2 337.3L522.2 337.4L524.0 337.2L524.2 337.1L526.2 335.9L528.2 334.4L528.5 334.1L530.2 331.6L532.2 327.8L534.2 323.7L534.5 323.2L536.2 321.9L537.5 322.2L538.2 322.4L540.2 324.5L542.2 327.8L542.7 328.6L544.2 331.8L546.2 334.9L547.2 335.9L548.2 336.5L550.2 337.3L552.2 338.0L554.2 338.4L554.5 338.5L556.2 338.4L556.7 338.4L558.2 338.4L560.2 338.3L560.5 338.3L562.2 338.1L564.2 337.8L565.7 337.6L566.2 337.7L568.2 338.0L568.7 338.1L570.2 337.8L571.0 337.7L572.2 337.3L574.2 334.8L576.2 329.1L578.2 329.3L580.2 333.1L580.7 333.3L582.2 332.9L584.2 321.7L585.7 313.0L586.2 313.4L588.2 319.9L589.0 321.5L590.2 326.3L591.2 330.0L592.2 330.9L594.2 332.5L596.2 333.4L596.5 333.5L598.2 332.5L599.5 331.3L600.2 330.8L602.2 329.3L602.5 329.1L604.2 326.9L606.2 325.3L608.2 325.8L608.5 326.0L610.2 329.1L611.5 331.5L612.2 332.9L614.2 335.7L615.2 336.6L616.2 336.8L616.7 336.9L618.2 337.0L619.0 337.0L620.2 337.1L622.0 337.2L622.2 337.2L624.2 337.2L625.0 337.2L626.2 337.3L628.2 337.5L629.5 337.6L630.2 337.6L632.2 337.7L634.2 337.8L634.7 337.9L636.2 338.1L637.7 338.4L638.2 338.4L640.2 338.4L641.5 338.5L642.2 338.5L643.7 338.6L644.2 338.6L646.2 338.4L647.5 338.2L648.2 337.9L650.2 336.8L652.2 335.3L654.2 334.0L656.2 334.4L658.0 335.6L658.2 335.7L660.2 337.3L661.0 337.8L662.2 338.1L664.2 338.4L664.7 338.4L666.2 338.0L668.2 337.4L668.5 337.4L670.2 334.4L670.7 333.4L672.2 332.3L674.2 329.9L676.2 329.2L677.5 329.5L678.2 329.8L680.2 331.5L681.2 332.4L682.2 333.1L684.2 334.2L685.7 334.8L686.2 335.6L687.7 337.7L688.2 338.1L689.5 339.3L690.2 339.3L692.2 339.4L693.7 339.1L694.2 339.0L696.2 338.7L696.7 338.6L698.2 338.2L699.7 338.0L700.2 338.1L702.0 338.7L702.2 338.8L704.2 339.2L705.0 339.3L706.2 339.0L708.2 338.1L710.2 336.8L711.0 336.1L712.2 335.3L712.5 335.1L714.2 333.1L716.2 330.2L716.7 329.4L718.2 328.4L719.2 328.0L720.2 326.9L722.2 325.3L722.5 325.2L724.2 327.2L726.2 330.0L726.7 330.7L728.2 331.8L730.2 333.3L730.8 333.8L732.2 335.3L734.2 337.0L736.2 337.9L737.2 338.3L738.2 338.6L740.2 339.1L741.7 339.4L742.2 339.4L744.2 339.5L745.5 339.6L746.2 339.6L748.2 339.7L748.5 339.7L750.2 339.8L752.2 339.9L753.0 339.9L754.2 339.6L755.2 339.3L756.2 338.7L758.2 337.3L759.0 336.7L760.2 336.4L762.2 337.0L762.7 337.3L764.2 338.3L766.2 339.1L766.5 339.2L768.2 339.5L769.5 339.7L770.2 339.7L772.2 339.7L772.5 339.7L774.2 339.8L774.7 339.9L776.2 339.8L777.0 339.8L778.2 339.8L780.0 339.9L780.2 339.9L782.2 339.7L784.2 339.6L785.0 339.5L786.2 339.5L788.2 339.6L788.6 339.6L790.2 339.6L790.4 339.6L792.2 339.5L794.0 339.4L794.2 339.4L795.8 339.7L796.2 339.8L797.6 340.0L798.2 340.0L799.4 339.9L800.2 340.0L802.2 340.1L802.4 340.1L804.2 340.1L806.2 340.0L807.2 340.0L808.2 340.0L810.2 339.8L810.8 339.8L812.2 339.8L814.2 339.9L814.4 339.9L816.2 339.9L818.0 340.0L818.2 340.0L820.2 340.2L820.4 340.2L822.2 340.2L823.4 340.1L824.2 340.2L826.2 340.2L828.2 340.2L830.0 340.2L830.2 340.2L832.2 340.3L834.2 340.3L834.8 340.3L836.2 340.3L838.2 340.3L839.6 340.2L840.2 340.3L842.2 340.4L843.2 340.4L844.2 340.4L846.2 340.4L848.0 340.4L848.2 340.4L850.2 340.4L852.2 340.4L854.0 340.4L854.2 340.4L856.2 340.4L858.2 340.4L860.0 340.4L860.2 340.4L862.2 340.4L864.2 340.4L865.3 340.4L865.3 341.00Z" fill="#fffab6"/><path d="M160.2 341.00L160.2 331.3L162.2 328.2L163.6 326.3L164.2 325.9L166.2 325.5L168.2 326.0L168.4 326.1L170.2 325.3L172.2 324.9L174.2 325.0L175.0 325.3L176.2 326.6L178.2 328.8L178.5 329.1L180.2 331.0L182.2 332.6L184.2 333.7L184.4 333.8L186.2 332.7L188.2 330.7L189.3 329.3L190.2 328.7L192.0 328.0L192.2 328.1L194.2 328.7L196.2 328.5L198.2 329.2L200.2 331.5L200.9 332.6L202.2 334.2L204.2 336.6L205.2 337.4L206.2 337.8L206.5 337.8L208.2 337.0L210.2 336.9L212.2 336.5L214.2 335.9L216.2 335.3L218.2 334.9L220.2 334.6L220.5 334.6L222.2 335.1L224.2 335.3L226.2 335.1L226.5 335.1L228.2 333.6L230.2 332.3L231.9 332.1L232.2 332.2L234.2 334.0L236.2 336.0L237.2 336.8L238.2 337.3L240.2 338.0L240.4 338.0L242.2 338.4L242.8 338.5L244.2 338.5L246.2 338.5L248.2 338.5L248.4 338.5L250.0 338.5L250.2 338.5L252.2 338.5L254.2 338.5L255.6 338.5L256.2 338.5L258.2 338.5L260.2 338.5L260.4 338.5L262.2 338.5L263.3 338.5L264.2 338.5L266.2 338.5L268.2 338.5L269.2 338.5L270.2 338.5L272.2 338.5L272.4 338.5L274.0 338.5L274.2 338.5L276.2 337.0L276.4 336.6L278.2 334.2L280.2 332.7L282.2 332.7L284.2 334.1L286.2 336.1L287.3 337.2L288.2 338.0L288.7 338.4L290.2 338.5L292.2 338.5L294.2 338.5L294.7 338.5L296.2 338.5L297.7 338.5L298.2 338.5L300.0 338.5L300.2 338.5L302.2 338.5L304.2 338.5L306.0 338.5L306.2 338.5L308.2 338.5L310.2 338.5L311.2 338.5L312.2 338.5L314.2 338.5L316.2 338.5L317.7 338.5L318.2 338.5L320.2 338.5L321.7 338.5L322.2 338.5L324.2 338.5L325.5 338.5L326.2 338.5L328.2 338.5L329.2 338.5L330.2 338.5L332.2 338.5L334.2 338.5L334.5 338.5L336.2 338.5L337.5 338.5L338.2 338.5L340.2 338.5L342.0 338.5L342.2 338.5L343.0 338.5L344.2 338.5L345.0 338.5L346.2 338.5L348.2 338.5L348.7 338.5L350.2 338.5L352.2 338.5L352.5 338.5L354.2 338.5L354.7 338.5L356.2 338.5L357.0 338.5L358.2 338.5L360.0 338.5L360.2 338.5L361.5 338.5L362.2 338.5L363.7 338.5L364.2 338.5L366.2 338.5L368.2 338.5L370.2 338.5L372.2 338.5L374.2 338.5L375.0 338.5L376.2 338.5L378.0 338.5L378.2 338.5L380.2 338.5L381.0 338.5L382.2 338.5L383.2 338.5L384.2 338.5L386.2 338.5L388.2 338.5L389.0 338.5L390.2 338.5L392.2 338.5L394.2 338.5L394.5 338.5L396.2 338.5L398.2 338.5L400.2 338.5L400.5 338.5L402.2 338.5L403.5 338.5L404.2 338.5L405.7 338.5L406.2 338.5L408.0 338.5L408.2 338.5L410.2 338.5L411.0 338.5L412.2 338.5L414.2 338.5L416.2 338.5L417.5 338.5L418.2 338.5L420.2 338.5L420.5 338.5L422.2 338.5L423.5 338.5L424.2 338.5L426.2 338.5L427.2 338.5L428.2 338.5L429.5 338.5L430.2 338.5L432.2 338.5L434.2 338.5L436.2 338.5L437.0 338.5L438.2 338.5L440.0 338.5L440.2 338.5L442.2 338.5L443.7 338.5L444.2 338.5L446.2 338.5L446.7 338.5L448.2 338.5L449.0 338.5L450.2 338.5L452.2 338.5L454.2 338.5L455.0 338.5L456.2 338.5L457.2 338.5L458.2 338.5L460.2 338.5L462.2 338.5L464.2 338.5L465.5 338.5L466.2 338.5L468.2 338.5L469.2 338.5L470.2 338.5L472.2 338.5L474.2 338.5L474.5 338.5L476.2 337.5L478.2 335.8L480.2 330.1L482.2 321.4L483.0 317.7L484.2 316.4L486.2 316.7L488.0 318.1L488.2 317.8L490.2 316.3L491.7 316.2L492.2 316.7L494.2 319.8L495.5 322.2L496.2 324.1L498.2 329.0L500.0 332.3L500.2 332.2L502.2 329.7L504.2 321.0L505.7 317.5L506.2 319.9L508.2 332.3L509.0 335.1L510.2 337.2L512.2 338.4L513.5 338.5L514.2 338.5L516.2 338.5L516.5 338.5L518.2 338.5L520.2 338.5L522.2 338.5L524.0 338.4L524.2 338.4L526.2 337.3L528.2 335.9L528.5 335.6L530.2 333.4L532.2 330.0L534.2 326.6L534.5 326.1L536.2 325.1L537.5 325.3L538.2 325.5L540.2 327.2L542.2 330.0L542.7 330.8L544.2 333.5L546.2 336.3L547.2 337.2L548.2 337.8L550.2 338.5L552.2 338.5L554.2 338.5L554.5 338.5L556.2 338.5L556.7 338.5L558.2 338.5L560.2 338.5L560.5 338.5L562.2 338.5L564.2 338.5L565.7 338.5L566.2 338.5L568.2 338.5L568.7 338.5L570.2 338.5L571.0 338.5L572.2 338.5L574.2 337.2L576.2 333.7L578.2 333.7L580.2 335.7L580.7 335.7L582.2 335.1L584.2 327.0L585.7 320.4L586.2 320.4L588.2 323.7L589.0 324.6L590.2 328.5L591.2 331.7L592.2 332.5L594.2 334.1L596.2 334.9L596.5 335.0L598.2 334.2L599.5 333.2L600.2 332.8L602.2 331.7L602.5 331.6L604.2 330.1L606.2 329.3L608.2 329.9L608.5 330.1L610.2 332.6L611.5 334.3L612.2 335.4L614.2 337.5L615.2 338.1L616.2 338.3L616.7 338.4L618.2 338.5L619.0 338.5L620.2 338.5L622.0 338.5L622.2 338.5L624.2 338.5L625.0 338.5L626.2 338.5L628.2 338.5L629.5 338.5L630.2 338.5L632.2 338.5L634.2 338.5L634.7 338.5L636.2 338.5L637.7 338.5L638.2 338.5L640.2 338.5L641.5 338.5L642.2 338.5L643.7 338.5L644.2 338.5L646.2 338.5L647.5 338.5L648.2 338.5L650.2 338.5L652.2 337.6L654.2 336.8L656.2 337.0L658.0 337.8L658.2 337.9L660.2 338.5L661.0 338.5L662.2 338.5L664.2 338.5L664.7 338.5L666.2 338.5L668.2 338.5L668.5 338.5L670.2 336.7L670.7 335.9L672.2 334.7L674.2 332.5L676.2 331.8L677.5 332.0L678.2 332.3L680.2 333.8L681.2 334.7L682.2 335.4L684.2 336.5L685.7 337.1L686.2 337.6L687.7 338.5L688.2 338.5L689.5 338.5L690.2 338.5L692.2 338.5L693.7 338.5L694.2 338.5L696.2 338.5L696.7 338.5L698.2 338.5L699.7 338.5L700.2 338.5L702.0 338.5L702.2 338.5L704.2 338.5L705.0 338.5L706.2 338.5L708.2 338.5L710.2 337.7L711.0 337.1L712.2 336.3L712.5 336.2L714.2 334.2L716.2 331.6L716.7 330.9L718.2 329.9L719.2 329.4L720.2 328.4L722.2 327.0L722.5 326.9L724.2 328.7L726.2 331.3L726.7 332.0L728.2 333.0L730.2 334.5L730.8 335.0L732.2 336.4L734.2 337.9L736.2 338.5L737.2 338.5L738.2 338.5L740.2 338.5L741.7 338.5L742.2 338.5L744.2 338.5L745.5 338.5L746.2 338.5L748.2 338.5L748.5 338.5L750.2 338.5L752.2 338.5L753.0 338.5L754.2 338.5L755.2 338.5L756.2 338.5L758.2 338.0L759.0 337.5L760.2 337.2L762.2 337.8L762.7 338.1L764.2 338.5L766.2 338.5L766.5 338.5L768.2 338.5L769.5 338.5L770.2 338.5L772.2 338.5L772.5 338.5L774.2 338.5L774.7 338.5L776.2 338.5L777.0 338.5L778.2 338.5L780.0 338.5L780.2 338.5L782.2 338.5L784.2 338.5L785.0 338.5L786.2 338.5L788.2 338.5L788.6 338.5L790.2 338.5L790.4 338.5L792.2 338.5L794.0 338.5L794.2 338.5L795.8 338.5L796.2 338.5L797.6 338.5L798.2 338.5L799.4 338.5L800.2 338.5L802.2 338.5L802.4 338.5L804.2 338.5L806.2 338.5L807.2 338.5L808.2 338.5L810.2 338.5L810.8 338.5L812.2 338.5L814.2 338.5L814.4 338.5L816.2 338.5L818.0 338.5L818.2 338.5L820.2 338.5L820.4 338.5L822.2 338.5L823.4 338.5L824.2 338.5L826.2 338.5L828.2 338.5L830.0 338.5L830.2 338.5L832.2 338.5L834.2 338.5L834.8 338.5L836.2 338.5L838.2 338.5L839.6 338.5L840.2 338.5L842.2 338.5L843.2 338.5L844.2 338.5L846.2 338.5L848.0 338.5L848.2 338.5L850.2 338.5L852.2 338.5L854.0 338.5L854.2 338.5L856.2 338.5L858.2 338.5L860.0 338.5L860.2 338.5L862.2 338.5L864.2 338.5L865.3 338.5L865.3 341.00Z" fill="#fff0a6"/><path d="M160.2 341.00L160.2 333.1L162.2 330.4L163.6 328.7L164.2 328.3L166.2 327.8L168.2 328.2L168.4 328.3L170.2 327.8L172.2 327.9L174.2 328.5L175.0 328.8L176.2 329.8L178.2 331.4L178.5 331.7L180.2 333.0L182.2 334.2L184.2 335.0L184.4 335.0L186.2 334.3L188.2 333.1L189.3 332.4L190.2 332.1L192.0 331.4L192.2 331.4L194.2 331.2L196.2 330.4L198.2 330.7L200.2 332.6L200.9 333.6L202.2 335.0L204.2 337.2L205.2 338.0L206.2 338.5L206.5 338.6L208.2 338.3L210.2 338.5L212.2 338.4L214.2 338.3L216.2 338.2L218.2 338.1L220.2 337.9L220.5 337.8L222.2 337.8L224.2 337.4L226.2 336.8L226.5 336.7L228.2 335.3L230.2 334.1L231.9 333.9L232.2 334.0L234.2 335.5L236.2 337.3L237.2 338.1L238.2 338.5L240.2 338.7L240.4 338.7L242.2 338.7L242.8 338.7L244.2 338.7L246.2 338.7L248.2 338.7L248.4 338.7L250.0 338.7L250.2 338.7L252.2 338.7L254.2 338.7L255.6 338.7L256.2 338.7L258.2 338.7L260.2 338.7L260.4 338.7L262.2 338.7L263.3 338.7L264.2 338.7L266.2 338.7L268.2 338.7L269.2 338.7L270.2 338.7L272.2 338.7L272.4 338.7L274.0 338.7L274.2 338.7L276.2 338.0L276.4 337.7L278.2 335.7L280.2 334.1L282.2 333.9L284.2 335.0L286.2 336.9L287.3 337.9L288.2 338.6L288.7 338.7L290.2 338.7L292.2 338.7L294.2 338.7L294.7 338.7L296.2 338.7L297.7 338.7L298.2 338.7L300.0 338.7L300.2 338.7L302.2 338.7L304.2 338.7L306.0 338.7L306.2 338.7L308.2 338.7L310.2 338.7L311.2 338.7L312.2 338.7L314.2 338.7L316.2 338.7L317.7 338.7L318.2 338.7L320.2 338.7L321.7 338.7L322.2 338.7L324.2 338.7L325.5 338.7L326.2 338.7L328.2 338.7L329.2 338.7L330.2 338.7L332.2 338.7L334.2 338.7L334.5 338.7L336.2 338.7L337.5 338.7L338.2 338.7L340.2 338.7L342.0 338.7L342.2 338.7L343.0 338.7L344.2 338.7L345.0 338.7L346.2 338.7L348.2 338.7L348.7 338.7L350.2 338.7L352.2 338.7L352.5 338.7L354.2 338.7L354.7 338.7L356.2 338.7L357.0 338.7L358.2 338.7L360.0 338.7L360.2 338.7L361.5 338.7L362.2 338.7L363.7 338.7L364.2 338.7L366.2 338.7L368.2 338.7L370.2 338.7L372.2 338.7L374.2 338.7L375.0 338.7L376.2 338.7L378.0 338.7L378.2 338.7L380.2 338.7L381.0 338.7L382.2 338.7L383.2 338.7L384.2 338.7L386.2 338.7L388.2 338.7L389.0 338.7L390.2 338.7L392.2 338.7L394.2 338.7L394.5 338.7L396.2 338.7L398.2 338.7L400.2 338.7L400.5 338.7L402.2 338.7L403.5 338.7L404.2 338.7L405.7 338.7L406.2 338.7L408.0 338.7L408.2 338.7L410.2 338.7L411.0 338.7L412.2 338.7L414.2 338.7L416.2 338.7L417.5 338.7L418.2 338.7L420.2 338.7L420.5 338.7L422.2 338.7L423.5 338.7L424.2 338.7L426.2 338.7L427.2 338.7L428.2 338.7L429.5 338.7L430.2 338.7L432.2 338.7L434.2 338.7L436.2 338.7L437.0 338.7L438.2 338.7L440.0 338.7L440.2 338.7L442.2 338.7L443.7 338.7L444.2 338.7L446.2 338.7L446.7 338.7L448.2 338.7L449.0 338.7L450.2 338.7L452.2 338.7L454.2 338.7L455.0 338.7L456.2 338.7L457.2 338.7L458.2 338.7L460.2 338.7L462.2 338.7L464.2 338.7L465.5 338.7L466.2 338.7L468.2 338.7L469.2 338.7L470.2 338.7L472.2 338.7L474.2 338.7L474.5 338.7L476.2 338.0L478.2 336.5L480.2 332.0L482.2 325.1L483.0 322.0L484.2 320.8L486.2 320.4L488.0 321.2L488.2 321.0L490.2 319.6L491.7 319.5L492.2 320.0L494.2 322.7L495.5 325.0L496.2 326.6L498.2 331.0L500.0 333.8L500.2 333.8L502.2 331.8L504.2 325.5L505.7 323.5L506.2 325.3L508.2 334.7L509.0 336.9L510.2 338.7L512.2 338.7L513.5 338.7L514.2 338.7L516.2 338.7L516.5 338.7L518.2 338.7L520.2 338.7L522.2 338.7L524.0 338.7L524.2 338.7L526.2 338.4L528.2 337.1L528.5 336.8L530.2 334.9L532.2 332.1L534.2 329.3L534.5 328.9L536.2 328.1L537.5 328.3L538.2 328.4L540.2 329.8L542.2 332.1L542.7 332.8L544.2 335.1L546.2 337.4L547.2 338.2L548.2 338.7L550.2 338.7L552.2 338.7L554.2 338.7L554.5 338.7L556.2 338.7L556.7 338.7L558.2 338.7L560.2 338.7L560.5 338.7L562.2 338.7L564.2 338.7L565.7 338.7L566.2 338.7L568.2 338.7L568.7 338.7L570.2 338.7L571.0 338.7L572.2 338.7L574.2 338.7L576.2 337.0L578.2 336.9L580.2 337.6L580.7 337.5L582.2 336.8L584.2 331.2L585.7 326.4L586.2 326.1L588.2 327.2L589.0 327.7L590.2 330.8L591.2 333.4L592.2 334.1L594.2 335.5L596.2 336.3L596.5 336.3L598.2 335.7L599.5 334.9L600.2 334.6L602.2 333.9L602.5 333.8L604.2 332.9L606.2 332.5L608.2 333.2L608.5 333.4L610.2 335.3L611.5 336.5L612.2 337.3L614.2 338.7L615.2 338.7L616.2 338.7L616.7 338.7L618.2 338.7L619.0 338.7L620.2 338.7L622.0 338.7L622.2 338.7L624.2 338.7L625.0 338.7L626.2 338.7L628.2 338.7L629.5 338.7L630.2 338.7L632.2 338.7L634.2 338.7L634.7 338.7L636.2 338.7L637.7 338.7L638.2 338.7L640.2 338.7L641.5 338.7L642.2 338.7L643.7 338.7L644.2 338.7L646.2 338.7L647.5 338.7L648.2 338.7L650.2 338.7L652.2 338.7L654.2 338.7L656.2 338.7L658.0 338.7L658.2 338.7L660.2 338.7L661.0 338.7L662.2 338.7L664.2 338.7L664.7 338.7L666.2 338.7L668.2 338.7L668.5 338.7L670.2 338.2L670.7 337.6L672.2 336.5L674.2 334.6L676.2 333.9L677.5 334.0L678.2 334.3L680.2 335.6L681.2 336.4L682.2 337.0L684.2 338.1L685.7 338.7L686.2 338.7L687.7 338.7L688.2 338.7L689.5 338.7L690.2 338.7L692.2 338.7L693.7 338.7L694.2 338.7L696.2 338.7L696.7 338.7L698.2 338.7L699.7 338.7L700.2 338.7L702.0 338.7L702.2 338.7L704.2 338.7L705.0 338.7L706.2 338.7L708.2 338.7L710.2 338.5L711.0 337.9L712.2 337.2L712.5 337.1L714.2 335.4L716.2 333.0L716.7 332.4L718.2 331.5L719.2 331.0L720.2 330.2L722.2 328.9L722.5 328.8L724.2 330.4L726.2 332.7L726.7 333.3L728.2 334.2L730.2 335.6L730.8 336.0L732.2 337.3L734.2 338.6L736.2 338.7L737.2 338.7L738.2 338.7L740.2 338.7L741.7 338.7L742.2 338.7L744.2 338.7L745.5 338.7L746.2 338.7L748.2 338.7L748.5 338.7L750.2 338.7L752.2 338.7L753.0 338.7L754.2 338.7L755.2 338.7L756.2 338.7L758.2 338.6L759.0 338.2L760.2 338.0L762.2 338.5L762.7 338.7L764.2 338.7L766.2 338.7L766.5 338.7L768.2 338.7L769.5 338.7L770.2 338.7L772.2 338.7L772.5 338.7L774.2 338.7L774.7 338.7L776.2 338.7L777.0 338.7L778.2 338.7L780.0 338.7L780.2 338.7L782.2 338.7L784.2 338.7L785.0 338.7L786.2 338.7L788.2 338.7L788.6 338.7L790.2 338.7L790.4 338.7L792.2 338.7L794.0 338.7L794.2 338.7L795.8 338.7L796.2 338.7L797.6 338.7L798.2 338.7L799.4 338.7L800.2 338.7L802.2 338.7L802.4 338.7L804.2 338.7L806.2 338.7L807.2 338.7L808.2 338.7L810.2 338.7L810.8 338.7L812.2 338.7L814.2 338.7L814.4 338.7L816.2 338.7L818.0 338.7L818.2 338.7L820.2 338.7L820.4 338.7L822.2 338.7L823.4 338.7L824.2 338.7L826.2 338.7L828.2 338.7L830.0 338.7L830.2 338.7L832.2 338.7L834.2 338.7L834.8 338.7L836.2 338.7L838.2 338.7L839.6 338.7L840.2 338.7L842.2 338.7L843.2 338.7L844.2 338.7L846.2 338.7L848.0 338.7L848.2 338.7L850.2 338.7L852.2 338.7L854.0 338.7L854.2 338.7L856.2 338.7L858.2 338.7L860.0 338.7L860.2 338.7L862.2 338.7L864.2 338.7L865.3 338.7L865.3 341.00Z" fill="#fee593"/><path d="M160.2 341.00L160.2 334.8L162.2 332.7L163.6 331.2L164.2 330.9L166.2 330.5L168.2 330.8L168.4 330.9L170.2 330.6L172.2 330.8L174.2 331.4L175.0 331.7L176.2 332.5L178.2 333.7L178.5 333.9L180.2 334.8L182.2 335.7L184.2 336.3L184.4 336.3L186.2 335.8L188.2 335.1L189.3 334.6L190.2 334.5L192.0 333.9L192.2 333.9L194.2 333.4L196.2 332.6L198.2 332.6L200.2 334.2L200.9 335.0L202.2 336.1L204.2 337.9L205.2 338.6L206.2 338.9L206.5 338.9L208.2 338.9L210.2 338.9L212.2 338.9L214.2 338.9L216.2 338.9L218.2 338.9L220.2 338.9L220.5 338.9L222.2 338.9L224.2 338.7L226.2 338.0L226.5 337.9L228.2 336.7L230.2 335.7L231.9 335.6L232.2 335.7L234.2 336.9L236.2 338.3L237.2 338.9L238.2 338.9L240.2 338.9L240.4 338.9L242.2 338.9L242.8 338.9L244.2 338.9L246.2 338.9L248.2 338.9L248.4 338.9L250.0 338.9L250.2 338.9L252.2 338.9L254.2 338.9L255.6 338.9L256.2 338.9L258.2 338.9L260.2 338.9L260.4 338.9L262.2 338.9L263.3 338.9L264.2 338.9L266.2 338.9L268.2 338.9L269.2 338.9L270.2 338.9L272.2 338.9L272.4 338.9L274.0 338.9L274.2 338.9L276.2 338.8L276.4 338.6L278.2 337.0L280.2 335.5L282.2 335.3L284.2 336.2L286.2 337.7L287.3 338.5L288.2 338.9L288.7 338.9L290.2 338.9L292.2 338.9L294.2 338.9L294.7 338.9L296.2 338.9L297.7 338.9L298.2 338.9L300.0 338.9L300.2 338.9L302.2 338.9L304.2 338.9L306.0 338.9L306.2 338.9L308.2 338.9L310.2 338.9L311.2 338.9L312.2 338.9L314.2 338.9L316.2 338.9L317.7 338.9L318.2 338.9L320.2 338.9L321.7 338.9L322.2 338.9L324.2 338.9L325.5 338.9L326.2 338.9L328.2 338.9L329.2 338.9L330.2 338.9L332.2 338.9L334.2 338.9L334.5 338.9L336.2 338.9L337.5 338.9L338.2 338.9L340.2 338.9L342.0 338.9L342.2 338.9L343.0 338.9L344.2 338.9L345.0 338.9L346.2 338.9L348.2 338.9L348.7 338.9L350.2 338.9L352.2 338.9L352.5 338.9L354.2 338.9L354.7 338.9L356.2 338.9L357.0 338.9L358.2 338.9L360.0 338.9L360.2 338.9L361.5 338.9L362.2 338.9L363.7 338.9L364.2 338.9L366.2 338.9L368.2 338.9L370.2 338.9L372.2 338.9L374.2 338.9L375.0 338.9L376.2 338.9L378.0 338.9L378.2 338.9L380.2 338.9L381.0 338.9L382.2 338.9L383.2 338.9L384.2 338.9L386.2 338.9L388.2 338.9L389.0 338.9L390.2 338.9L392.2 338.9L394.2 338.9L394.5 338.9L396.2 338.9L398.2 338.9L400.2 338.9L400.5 338.9L402.2 338.9L403.5 338.9L404.2 338.9L405.7 338.9L406.2 338.9L408.0 338.9L408.2 338.9L410.2 338.9L411.0 338.9L412.2 338.9L414.2 338.9L416.2 338.9L417.5 338.9L418.2 338.9L420.2 338.9L420.5 338.9L422.2 338.9L423.5 338.9L424.2 338.9L426.2 338.9L427.2 338.9L428.2 338.9L429.5 338.9L430.2 338.9L432.2 338.9L434.2 338.9L436.2 338.9L437.0 338.9L438.2 338.9L440.0 338.9L440.2 338.9L442.2 338.9L443.7 338.9L444.2 338.9L446.2 338.9L446.7 338.9L448.2 338.9L449.0 338.9L450.2 338.9L452.2 338.9L454.2 338.9L455.0 338.9L456.2 338.9L457.2 338.9L458.2 338.9L460.2 338.9L462.2 338.9L464.2 338.9L465.5 338.9L466.2 338.9L468.2 338.9L469.2 338.9L470.2 338.9L472.2 338.9L474.2 338.9L474.5 338.9L476.2 338.6L478.2 337.4L480.2 334.0L482.2 328.8L483.0 326.5L484.2 325.4L486.2 324.7L488.0 325.2L488.2 325.0L490.2 323.9L491.7 323.8L492.2 324.2L494.2 326.5L495.5 328.3L496.2 329.6L498.2 333.1L500.0 335.5L500.2 335.4L502.2 334.0L504.2 329.6L505.7 328.5L506.2 329.9L508.2 336.6L509.0 338.2L510.2 338.9L512.2 338.9L513.5 338.9L514.2 338.9L516.2 338.9L516.5 338.9L518.2 338.9L520.2 338.9L522.2 338.9L524.0 338.9L524.2 338.9L526.2 338.9L528.2 338.1L528.5 337.9L530.2 336.4L532.2 334.2L534.2 332.1L534.5 331.8L536.2 331.2L537.5 331.3L538.2 331.4L540.2 332.5L542.2 334.3L542.7 334.7L544.2 336.6L546.2 338.4L547.2 338.9L548.2 338.9L550.2 338.9L552.2 338.9L554.2 338.9L554.5 338.9L556.2 338.9L556.7 338.9L558.2 338.9L560.2 338.9L560.5 338.9L562.2 338.9L564.2 338.9L565.7 338.9L566.2 338.9L568.2 338.9L568.7 338.9L570.2 338.9L571.0 338.9L572.2 338.9L574.2 338.9L576.2 338.9L578.2 338.9L580.2 338.9L580.7 338.8L582.2 338.2L584.2 334.4L585.7 331.1L586.2 330.7L588.2 330.6L589.0 330.8L590.2 333.1L591.2 335.2L592.2 335.8L594.2 336.9L596.2 337.5L596.5 337.5L598.2 337.1L599.5 336.5L600.2 336.3L602.2 335.8L602.5 335.7L604.2 335.2L606.2 335.1L608.2 335.8L608.5 335.9L610.2 337.2L611.5 338.2L612.2 338.7L614.2 338.9L615.2 338.9L616.2 338.9L616.7 338.9L618.2 338.9L619.0 338.9L620.2 338.9L622.0 338.9L622.2 338.9L624.2 338.9L625.0 338.9L626.2 338.9L628.2 338.9L629.5 338.9L630.2 338.9L632.2 338.9L634.2 338.9L634.7 338.9L636.2 338.9L637.7 338.9L638.2 338.9L640.2 338.9L641.5 338.9L642.2 338.9L643.7 338.9L644.2 338.9L646.2 338.9L647.5 338.9L648.2 338.9L650.2 338.9L652.2 338.9L654.2 338.9L656.2 338.9L658.0 338.9L658.2 338.9L660.2 338.9L661.0 338.9L662.2 338.9L664.2 338.9L664.7 338.9L666.2 338.9L668.2 338.9L668.5 338.9L670.2 338.9L670.7 338.8L672.2 337.9L674.2 336.4L676.2 335.8L677.5 335.8L678.2 336.1L680.2 337.1L681.2 337.8L682.2 338.3L684.2 338.9L685.7 338.9L686.2 338.9L687.7 338.9L688.2 338.9L689.5 338.9L690.2 338.9L692.2 338.9L693.7 338.9L694.2 338.9L696.2 338.9L696.7 338.9L698.2 338.9L699.7 338.9L700.2 338.9L702.0 338.9L702.2 338.9L704.2 338.9L705.0 338.9L706.2 338.9L708.2 338.9L710.2 338.9L711.0 338.7L712.2 338.1L712.5 338.0L714.2 336.6L716.2 334.7L716.7 334.2L718.2 333.4L719.2 333.1L720.2 332.3L722.2 331.3L722.5 331.3L724.2 332.5L726.2 334.4L726.7 334.9L728.2 335.6L730.2 336.8L730.8 337.1L732.2 338.1L734.2 338.9L736.2 338.9L737.2 338.9L738.2 338.9L740.2 338.9L741.7 338.9L742.2 338.9L744.2 338.9L745.5 338.9L746.2 338.9L748.2 338.9L748.5 338.9L750.2 338.9L752.2 338.9L753.0 338.9L754.2 338.9L755.2 338.9L756.2 338.9L758.2 338.9L759.0 338.9L760.2 338.7L762.2 338.9L762.7 338.9L764.2 338.9L766.2 338.9L766.5 338.9L768.2 338.9L769.5 338.9L770.2 338.9L772.2 338.9L772.5 338.9L774.2 338.9L774.7 338.9L776.2 338.9L777.0 338.9L778.2 338.9L780.0 338.9L780.2 338.9L782.2 338.9L784.2 338.9L785.0 338.9L786.2 338.9L788.2 338.9L788.6 338.9L790.2 338.9L790.4 338.9L792.2 338.9L794.0 338.9L794.2 338.9L795.8 338.9L796.2 338.9L797.6 338.9L798.2 338.9L799.4 338.9L800.2 338.9L802.2 338.9L802.4 338.9L804.2 338.9L806.2 338.9L807.2 338.9L808.2 338.9L810.2 338.9L810.8 338.9L812.2 338.9L814.2 338.9L814.4 338.9L816.2 338.9L818.0 338.9L818.2 338.9L820.2 338.9L820.4 338.9L822.2 338.9L823.4 338.9L824.2 338.9L826.2 338.9L828.2 338.9L830.0 338.9L830.2 338.9L832.2 338.9L834.2 338.9L834.8 338.9L836.2 338.9L838.2 338.9L839.6 338.9L840.2 338.9L842.2 338.9L843.2 338.9L844.2 338.9L846.2 338.9L848.0 338.9L848.2 338.9L850.2 338.9L852.2 338.9L854.0 338.9L854.2 338.9L856.2 338.9L858.2 338.9L860.0 338.9L860.2 338.9L862.2 338.9L864.2 338.9L865.3 338.9L865.3 341.00Z" fill="#fed884"/><path d="M160.2 341.00L160.2 336.6L162.2 335.1L163.6 334.1L164.2 333.8L166.2 333.5L168.2 333.7L168.4 333.8L170.2 333.6L172.2 333.8L174.2 334.3L175.0 334.5L176.2 335.1L178.2 335.9L178.5 336.0L180.2 336.7L182.2 337.2L184.2 337.7L184.4 337.7L186.2 337.3L188.2 336.9L189.3 336.6L190.2 336.5L192.0 336.1L192.2 336.1L194.2 335.7L196.2 335.0L198.2 335.0L200.2 336.1L200.9 336.7L202.2 337.5L204.2 338.8L205.2 339.1L206.2 339.1L206.5 339.1L208.2 339.1L210.2 339.1L212.2 339.1L214.2 339.1L216.2 339.1L218.2 339.1L220.2 339.1L220.5 339.1L222.2 339.1L224.2 339.1L226.2 339.0L226.5 338.9L228.2 338.1L230.2 337.3L231.9 337.2L232.2 337.3L234.2 338.2L236.2 339.1L237.2 339.1L238.2 339.1L240.2 339.1L240.4 339.1L242.2 339.1L242.8 339.1L244.2 339.1L246.2 339.1L248.2 339.1L248.4 339.1L250.0 339.1L250.2 339.1L252.2 339.1L254.2 339.1L255.6 339.1L256.2 339.1L258.2 339.1L260.2 339.1L260.4 339.1L262.2 339.1L263.3 339.1L264.2 339.1L266.2 339.1L268.2 339.1L269.2 339.1L270.2 339.1L272.2 339.1L272.4 339.1L274.0 339.1L274.2 339.1L276.2 339.1L276.4 339.1L278.2 338.2L280.2 337.1L282.2 336.9L284.2 337.6L286.2 338.6L287.3 339.1L288.2 339.1L288.7 339.1L290.2 339.1L292.2 339.1L294.2 339.1L294.7 339.1L296.2 339.1L297.7 339.1L298.2 339.1L300.0 339.1L300.2 339.1L302.2 339.1L304.2 339.1L306.0 339.1L306.2 339.1L308.2 339.1L310.2 339.1L311.2 339.1L312.2 339.1L314.2 339.1L316.2 339.1L317.7 339.1L318.2 339.1L320.2 339.1L321.7 339.1L322.2 339.1L324.2 339.1L325.5 339.1L326.2 339.1L328.2 339.1L329.2 339.1L330.2 339.1L332.2 339.1L334.2 339.1L334.5 339.1L336.2 339.1L337.5 339.1L338.2 339.1L340.2 339.1L342.0 339.1L342.2 339.1L343.0 339.1L344.2 339.1L345.0 339.1L346.2 339.1L348.2 339.1L348.7 339.1L350.2 339.1L352.2 339.1L352.5 339.1L354.2 339.1L354.7 339.1L356.2 339.1L357.0 339.1L358.2 339.1L360.0 339.1L360.2 339.1L361.5 339.1L362.2 339.1L363.7 339.1L364.2 339.1L366.2 339.1L368.2 339.1L370.2 339.1L372.2 339.1L374.2 339.1L375.0 339.1L376.2 339.1L378.0 339.1L378.2 339.1L380.2 339.1L381.0 339.1L382.2 339.1L383.2 339.1L384.2 339.1L386.2 339.1L388.2 339.1L389.0 339.1L390.2 339.1L392.2 339.1L394.2 339.1L394.5 339.1L396.2 339.1L398.2 339.1L400.2 339.1L400.5 339.1L402.2 339.1L403.5 339.1L404.2 339.1L405.7 339.1L406.2 339.1L408.0 339.1L408.2 339.1L410.2 339.1L411.0 339.1L412.2 339.1L414.2 339.1L416.2 339.1L417.5 339.1L418.2 339.1L420.2 339.1L420.5 339.1L422.2 339.1L423.5 339.1L424.2 339.1L426.2 339.1L427.2 339.1L428.2 339.1L429.5 339.1L430.2 339.1L432.2 339.1L434.2 339.1L436.2 339.1L437.0 339.1L438.2 339.1L440.0 339.1L440.2 339.1L442.2 339.1L443.7 339.1L444.2 339.1L446.2 339.1L446.7 339.1L448.2 339.1L449.0 339.1L450.2 339.1L452.2 339.1L454.2 339.1L455.0 339.1L456.2 339.1L457.2 339.1L458.2 339.1L460.2 339.1L462.2 339.1L464.2 339.1L465.5 339.1L466.2 339.1L468.2 339.1L469.2 339.1L470.2 339.1L472.2 339.1L474.2 339.1L474.5 339.1L476.2 339.1L478.2 338.5L480.2 336.1L482.2 332.6L483.0 330.9L484.2 330.1L486.2 329.5L488.0 329.8L488.2 329.7L490.2 328.8L491.7 328.8L492.2 329.1L494.2 330.7L495.5 332.0L496.2 333.0L498.2 335.5L500.0 337.1L500.2 337.1L502.2 336.1L504.2 333.3L505.7 332.8L506.2 333.7L508.2 338.1L509.0 339.1L510.2 339.1L512.2 339.1L513.5 339.1L514.2 339.1L516.2 339.1L516.5 339.1L518.2 339.1L520.2 339.1L522.2 339.1L524.0 339.1L524.2 339.1L526.2 339.1L528.2 339.1L528.5 338.9L530.2 337.9L532.2 336.3L534.2 334.8L534.5 334.6L536.2 334.2L537.5 334.3L538.2 334.4L540.2 335.1L542.2 336.3L542.7 336.7L544.2 338.0L546.2 339.1L547.2 339.1L548.2 339.1L550.2 339.1L552.2 339.1L554.2 339.1L554.5 339.1L556.2 339.1L556.7 339.1L558.2 339.1L560.2 339.1L560.5 339.1L562.2 339.1L564.2 339.1L565.7 339.1L566.2 339.1L568.2 339.1L568.7 339.1L570.2 339.1L571.0 339.1L572.2 339.1L574.2 339.1L576.2 339.1L578.2 339.1L580.2 339.1L580.7 339.1L582.2 339.1L584.2 336.9L585.7 334.7L586.2 334.4L588.2 333.9L589.0 333.9L590.2 335.5L591.2 337.0L592.2 337.4L594.2 338.2L596.2 338.6L596.5 338.6L598.2 338.3L599.5 337.9L600.2 337.8L602.2 337.5L602.5 337.5L604.2 337.2L606.2 337.2L608.2 337.7L608.5 337.8L610.2 338.7L611.5 339.1L612.2 339.1L614.2 339.1L615.2 339.1L616.2 339.1L616.7 339.1L618.2 339.1L619.0 339.1L620.2 339.1L622.0 339.1L622.2 339.1L624.2 339.1L625.0 339.1L626.2 339.1L628.2 339.1L629.5 339.1L630.2 339.1L632.2 339.1L634.2 339.1L634.7 339.1L636.2 339.1L637.7 339.1L638.2 339.1L640.2 339.1L641.5 339.1L642.2 339.1L643.7 339.1L644.2 339.1L646.2 339.1L647.5 339.1L648.2 339.1L650.2 339.1L652.2 339.1L654.2 339.1L656.2 339.1L658.0 339.1L658.2 339.1L660.2 339.1L661.0 339.1L662.2 339.1L664.2 339.1L664.7 339.1L666.2 339.1L668.2 339.1L668.5 339.1L670.2 339.1L670.7 339.1L672.2 339.0L674.2 337.9L676.2 337.4L677.5 337.5L678.2 337.6L680.2 338.4L681.2 338.9L682.2 339.1L684.2 339.1L685.7 339.1L686.2 339.1L687.7 339.1L688.2 339.1L689.5 339.1L690.2 339.1L692.2 339.1L693.7 339.1L694.2 339.1L696.2 339.1L696.7 339.1L698.2 339.1L699.7 339.1L700.2 339.1L702.0 339.1L702.2 339.1L704.2 339.1L705.0 339.1L706.2 339.1L708.2 339.1L710.2 339.1L711.0 339.1L712.2 339.0L712.5 338.9L714.2 337.9L716.2 336.5L716.7 336.2L718.2 335.6L719.2 335.3L720.2 334.8L722.2 334.1L722.5 334.1L724.2 335.0L726.2 336.3L726.7 336.6L728.2 337.2L730.2 338.0L730.8 338.3L732.2 339.0L734.2 339.1L736.2 339.1L737.2 339.1L738.2 339.1L740.2 339.1L741.7 339.1L742.2 339.1L744.2 339.1L745.5 339.1L746.2 339.1L748.2 339.1L748.5 339.1L750.2 339.1L752.2 339.1L753.0 339.1L754.2 339.1L755.2 339.1L756.2 339.1L758.2 339.1L759.0 339.1L760.2 339.1L762.2 339.1L762.7 339.1L764.2 339.1L766.2 339.1L766.5 339.1L768.2 339.1L769.5 339.1L770.2 339.1L772.2 339.1L772.5 339.1L774.2 339.1L774.7 339.1L776.2 339.1L777.0 339.1L778.2 339.1L780.0 339.1L780.2 339.1L782.2 339.1L784.2 339.1L785.0 339.1L786.2 339.1L788.2 339.1L788.6 339.1L790.2 339.1L790.4 339.1L792.2 339.1L794.0 339.1L794.2 339.1L795.8 339.1L796.2 339.1L797.6 339.1L798.2 339.1L799.4 339.1L800.2 339.1L802.2 339.1L802.4 339.1L804.2 339.1L806.2 339.1L807.2 339.1L808.2 339.1L810.2 339.1L810.8 339.1L812.2 339.1L814.2 339.1L814.4 339.1L816.2 339.1L818.0 339.1L818.2 339.1L820.2 339.1L820.4 339.1L822.2 339.1L823.4 339.1L824.2 339.1L826.2 339.1L828.2 339.1L830.0 339.1L830.2 339.1L832.2 339.1L834.2 339.1L834.8 339.1L836.2 339.1L838.2 339.1L839.6 339.1L840.2 339.1L842.2 339.1L843.2 339.1L844.2 339.1L846.2 339.1L848.0 339.1L848.2 339.1L850.2 339.1L852.2 339.1L854.0 339.1L854.2 339.1L856.2 339.1L858.2 339.1L860.0 339.1L860.2 339.1L862.2 339.1L864.2 339.1L865.3 339.1L865.3 341.00Z" fill="#fdc776"/><path d="M160.2 341.00L160.2 338.3L162.2 337.4L163.6 336.8L164.2 336.6L166.2 336.4L168.2 336.5L168.4 336.6L170.2 336.5L172.2 336.6L174.2 336.9L175.0 337.0L176.2 337.4L178.2 337.9L178.5 338.0L180.2 338.4L182.2 338.7L184.2 339.0L184.4 339.0L186.2 338.8L188.2 338.5L189.3 338.4L190.2 338.3L192.0 338.1L192.2 338.1L194.2 337.7L196.2 337.3L198.2 337.3L200.2 338.0L200.9 338.3L202.2 338.8L204.2 339.3L205.2 339.3L206.2 339.3L206.5 339.3L208.2 339.3L210.2 339.3L212.2 339.3L214.2 339.3L216.2 339.3L218.2 339.3L220.2 339.3L220.5 339.3L222.2 339.3L224.2 339.3L226.2 339.3L226.5 339.3L228.2 339.2L230.2 338.8L231.9 338.7L232.2 338.8L234.2 339.3L236.2 339.3L237.2 339.3L238.2 339.3L240.2 339.3L240.4 339.3L242.2 339.3L242.8 339.3L244.2 339.3L246.2 339.3L248.2 339.3L248.4 339.3L250.0 339.3L250.2 339.3L252.2 339.3L254.2 339.3L255.6 339.3L256.2 339.3L258.2 339.3L260.2 339.3L260.4 339.3L262.2 339.3L263.3 339.3L264.2 339.3L266.2 339.3L268.2 339.3L269.2 339.3L270.2 339.3L272.2 339.3L272.4 339.3L274.0 339.3L274.2 339.3L276.2 339.3L276.4 339.3L278.2 339.3L280.2 338.6L282.2 338.5L284.2 338.9L286.2 339.3L287.3 339.3L288.2 339.3L288.7 339.3L290.2 339.3L292.2 339.3L294.2 339.3L294.7 339.3L296.2 339.3L297.7 339.3L298.2 339.3L300.0 339.3L300.2 339.3L302.2 339.3L304.2 339.3L306.0 339.3L306.2 339.3L308.2 339.3L310.2 339.3L311.2 339.3L312.2 339.3L314.2 339.3L316.2 339.3L317.7 339.3L318.2 339.3L320.2 339.3L321.7 339.3L322.2 339.3L324.2 339.3L325.5 339.3L326.2 339.3L328.2 339.3L329.2 339.3L330.2 339.3L332.2 339.3L334.2 339.3L334.5 339.3L336.2 339.3L337.5 339.3L338.2 339.3L340.2 339.3L342.0 339.3L342.2 339.3L343.0 339.3L344.2 339.3L345.0 339.3L346.2 339.3L348.2 339.3L348.7 339.3L350.2 339.3L352.2 339.3L352.5 339.3L354.2 339.3L354.7 339.3L356.2 339.3L357.0 339.3L358.2 339.3L360.0 339.3L360.2 339.3L361.5 339.3L362.2 339.3L363.7 339.3L364.2 339.3L366.2 339.3L368.2 339.3L370.2 339.3L372.2 339.3L374.2 339.3L375.0 339.3L376.2 339.3L378.0 339.3L378.2 339.3L380.2 339.3L381.0 339.3L382.2 339.3L383.2 339.3L384.2 339.3L386.2 339.3L388.2 339.3L389.0 339.3L390.2 339.3L392.2 339.3L394.2 339.3L394.5 339.3L396.2 339.3L398.2 339.3L400.2 339.3L400.5 339.3L402.2 339.3L403.5 339.3L404.2 339.3L405.7 339.3L406.2 339.3L408.0 339.3L408.2 339.3L410.2 339.3L411.0 339.3L412.2 339.3L414.2 339.3L416.2 339.3L417.5 339.3L418.2 339.3L420.2 339.3L420.5 339.3L422.2 339.3L423.5 339.3L424.2 339.3L426.2 339.3L427.2 339.3L428.2 339.3L429.5 339.3L430.2 339.3L432.2 339.3L434.2 339.3L436.2 339.3L437.0 339.3L438.2 339.3L440.0 339.3L440.2 339.3L442.2 339.3L443.7 339.3L444.2 339.3L446.2 339.3L446.7 339.3L448.2 339.3L449.0 339.3L450.2 339.3L452.2 339.3L454.2 339.3L455.0 339.3L456.2 339.3L457.2 339.3L458.2 339.3L460.2 339.3L462.2 339.3L464.2 339.3L465.5 339.3L466.2 339.3L468.2 339.3L469.2 339.3L470.2 339.3L472.2 339.3L474.2 339.3L474.5 339.3L476.2 339.3L478.2 339.3L480.2 338.0L482.2 335.9L483.0 334.9L484.2 334.4L486.2 334.0L488.0 334.1L488.2 334.1L490.2 333.5L491.7 333.5L492.2 333.7L494.2 334.7L495.5 335.5L496.2 336.1L498.2 337.7L500.0 338.7L500.2 338.7L502.2 338.1L504.2 336.4L505.7 336.2L506.2 336.8L508.2 339.3L509.0 339.3L510.2 339.3L512.2 339.3L513.5 339.3L514.2 339.3L516.2 339.3L516.5 339.3L518.2 339.3L520.2 339.3L522.2 339.3L524.0 339.3L524.2 339.3L526.2 339.3L528.2 339.3L528.5 339.3L530.2 339.1L532.2 338.2L534.2 337.3L534.5 337.2L536.2 336.9L537.5 337.0L538.2 337.0L540.2 337.5L542.2 338.2L542.7 338.4L544.2 339.2L546.2 339.3L547.2 339.3L548.2 339.3L550.2 339.3L552.2 339.3L554.2 339.3L554.5 339.3L556.2 339.3L556.7 339.3L558.2 339.3L560.2 339.3L560.5 339.3L562.2 339.3L564.2 339.3L565.7 339.3L566.2 339.3L568.2 339.3L568.7 339.3L570.2 339.3L571.0 339.3L572.2 339.3L574.2 339.3L576.2 339.3L578.2 339.3L580.2 339.3L580.7 339.3L582.2 339.3L584.2 338.7L585.7 337.4L586.2 337.2L588.2 336.7L589.0 336.7L590.2 337.7L591.2 338.6L592.2 338.8L594.2 339.3L596.2 339.3L596.5 339.3L598.2 339.3L599.5 339.2L600.2 339.1L602.2 338.9L602.5 338.9L604.2 338.8L606.2 338.8L608.2 339.1L608.5 339.2L610.2 339.3L611.5 339.3L612.2 339.3L614.2 339.3L615.2 339.3L616.2 339.3L616.7 339.3L618.2 339.3L619.0 339.3L620.2 339.3L622.0 339.3L622.2 339.3L624.2 339.3L625.0 339.3L626.2 339.3L628.2 339.3L629.5 339.3L630.2 339.3L632.2 339.3L634.2 339.3L634.7 339.3L636.2 339.3L637.7 339.3L638.2 339.3L640.2 339.3L641.5 339.3L642.2 339.3L643.7 339.3L644.2 339.3L646.2 339.3L647.5 339.3L648.2 339.3L650.2 339.3L652.2 339.3L654.2 339.3L656.2 339.3L658.0 339.3L658.2 339.3L660.2 339.3L661.0 339.3L662.2 339.3L664.2 339.3L664.7 339.3L666.2 339.3L668.2 339.3L668.5 339.3L670.2 339.3L670.7 339.3L672.2 339.3L674.2 339.2L676.2 338.9L677.5 338.9L678.2 339.0L680.2 339.3L681.2 339.3L682.2 339.3L684.2 339.3L685.7 339.3L686.2 339.3L687.7 339.3L688.2 339.3L689.5 339.3L690.2 339.3L692.2 339.3L693.7 339.3L694.2 339.3L696.2 339.3L696.7 339.3L698.2 339.3L699.7 339.3L700.2 339.3L702.0 339.3L702.2 339.3L704.2 339.3L705.0 339.3L706.2 339.3L708.2 339.3L710.2 339.3L711.0 339.3L712.2 339.3L712.5 339.3L714.2 339.1L716.2 338.3L716.7 338.0L718.2 337.7L719.2 337.5L720.2 337.2L722.2 336.8L722.5 336.7L724.2 337.3L726.2 338.1L726.7 338.3L728.2 338.7L730.2 339.2L730.8 339.3L732.2 339.3L734.2 339.3L736.2 339.3L737.2 339.3L738.2 339.3L740.2 339.3L741.7 339.3L742.2 339.3L744.2 339.3L745.5 339.3L746.2 339.3L748.2 339.3L748.5 339.3L750.2 339.3L752.2 339.3L753.0 339.3L754.2 339.3L755.2 339.3L756.2 339.3L758.2 339.3L759.0 339.3L760.2 339.3L762.2 339.3L762.7 339.3L764.2 339.3L766.2 339.3L766.5 339.3L768.2 339.3L769.5 339.3L770.2 339.3L772.2 339.3L772.5 339.3L774.2 339.3L774.7 339.3L776.2 339.3L777.0 339.3L778.2 339.3L780.0 339.3L780.2 339.3L782.2 339.3L784.2 339.3L785.0 339.3L786.2 339.3L788.2 339.3L788.6 339.3L790.2 339.3L790.4 339.3L792.2 339.3L794.0 339.3L794.2 339.3L795.8 339.3L796.2 339.3L797.6 339.3L798.2 339.3L799.4 339.3L800.2 339.3L802.2 339.3L802.4 339.3L804.2 339.3L806.2 339.3L807.2 339.3L808.2 339.3L810.2 339.3L810.8 339.3L812.2 339.3L814.2 339.3L814.4 339.3L816.2 339.3L818.0 339.3L818.2 339.3L820.2 339.3L820.4 339.3L822.2 339.3L823.4 339.3L824.2 339.3L826.2 339.3L828.2 339.3L830.0 339.3L830.2 339.3L832.2 339.3L834.2 339.3L834.8 339.3L836.2 339.3L838.2 339.3L839.6 339.3L840.2 339.3L842.2 339.3L843.2 339.3L844.2 339.3L846.2 339.3L848.0 339.3L848.2 339.3L850.2 339.3L852.2 339.3L854.0 339.3L854.2 339.3L856.2 339.3L858.2 339.3L860.0 339.3L860.2 339.3L862.2 339.3L864.2 339.3L865.3 339.3L865.3 341.00Z" fill="#fdb768"/><path d="M160.2 341.00L160.2 339.5L162.2 339.2L163.6 338.8L164.2 338.8L166.2 338.6L168.2 338.7L168.4 338.7L170.2 338.7L172.2 338.7L174.2 338.9L175.0 339.0L176.2 339.2L178.2 339.4L178.5 339.4L180.2 339.5L182.2 339.5L184.2 339.5L184.4 339.5L186.2 339.5L188.2 339.5L189.3 339.5L190.2 339.5L192.0 339.5L192.2 339.5L194.2 339.3L196.2 339.1L198.2 339.1L200.2 339.4L200.9 339.5L202.2 339.5L204.2 339.5L205.2 339.5L206.2 339.5L206.5 339.5L208.2 339.5L210.2 339.5L212.2 339.5L214.2 339.5L216.2 339.5L218.2 339.5L220.2 339.5L220.5 339.5L222.2 339.5L224.2 339.5L226.2 339.5L226.5 339.5L228.2 339.5L230.2 339.5L231.9 339.5L232.2 339.5L234.2 339.5L236.2 339.5L237.2 339.5L238.2 339.5L240.2 339.5L240.4 339.5L242.2 339.5L242.8 339.5L244.2 339.5L246.2 339.5L248.2 339.5L248.4 339.5L250.0 339.5L250.2 339.5L252.2 339.5L254.2 339.5L255.6 339.5L256.2 339.5L258.2 339.5L260.2 339.5L260.4 339.5L262.2 339.5L263.3 339.5L264.2 339.5L266.2 339.5L268.2 339.5L269.2 339.5L270.2 339.5L272.2 339.5L272.4 339.5L274.0 339.5L274.2 339.5L276.2 339.5L276.4 339.5L278.2 339.5L280.2 339.5L282.2 339.5L284.2 339.5L286.2 339.5L287.3 339.5L288.2 339.5L288.7 339.5L290.2 339.5L292.2 339.5L294.2 339.5L294.7 339.5L296.2 339.5L297.7 339.5L298.2 339.5L300.0 339.5L300.2 339.5L302.2 339.5L304.2 339.5L306.0 339.5L306.2 339.5L308.2 339.5L310.2 339.5L311.2 339.5L312.2 339.5L314.2 339.5L316.2 339.5L317.7 339.5L318.2 339.5L320.2 339.5L321.7 339.5L322.2 339.5L324.2 339.5L325.5 339.5L326.2 339.5L328.2 339.5L329.2 339.5L330.2 339.5L332.2 339.5L334.2 339.5L334.5 339.5L336.2 339.5L337.5 339.5L338.2 339.5L340.2 339.5L342.0 339.5L342.2 339.5L343.0 339.5L344.2 339.5L345.0 339.5L346.2 339.5L348.2 339.5L348.7 339.5L350.2 339.5L352.2 339.5L352.5 339.5L354.2 339.5L354.7 339.5L356.2 339.5L357.0 339.5L358.2 339.5L360.0 339.5L360.2 339.5L361.5 339.5L362.2 339.5L363.7 339.5L364.2 339.5L366.2 339.5L368.2 339.5L370.2 339.5L372.2 339.5L374.2 339.5L375.0 339.5L376.2 339.5L378.0 339.5L378.2 339.5L380.2 339.5L381.0 339.5L382.2 339.5L383.2 339.5L384.2 339.5L386.2 339.5L388.2 339.5L389.0 339.5L390.2 339.5L392.2 339.5L394.2 339.5L394.5 339.5L396.2 339.5L398.2 339.5L400.2 339.5L400.5 339.5L402.2 339.5L403.5 339.5L404.2 339.5L405.7 339.5L406.2 339.5L408.0 339.5L408.2 339.5L410.2 339.5L411.0 339.5L412.2 339.5L414.2 339.5L416.2 339.5L417.5 339.5L418.2 339.5L420.2 339.5L420.5 339.5L422.2 339.5L423.5 339.5L424.2 339.5L426.2 339.5L427.2 339.5L428.2 339.5L429.5 339.5L430.2 339.5L432.2 339.5L434.2 339.5L436.2 339.5L437.0 339.5L438.2 339.5L440.0 339.5L440.2 339.5L442.2 339.5L443.7 339.5L444.2 339.5L446.2 339.5L446.7 339.5L448.2 339.5L449.0 339.5L450.2 339.5L452.2 339.5L454.2 339.5L455.0 339.5L456.2 339.5L457.2 339.5L458.2 339.5L460.2 339.5L462.2 339.5L464.2 339.5L465.5 339.5L466.2 339.5L468.2 339.5L469.2 339.5L470.2 339.5L472.2 339.5L474.2 339.5L474.5 339.5L476.2 339.5L478.2 339.5L480.2 339.5L482.2 338.4L483.0 337.9L484.2 337.7L486.2 337.4L488.0 337.5L488.2 337.5L490.2 337.2L491.7 337.2L492.2 337.3L494.2 337.8L495.5 338.2L496.2 338.5L498.2 339.3L500.0 339.5L500.2 339.5L502.2 339.5L504.2 338.7L505.7 338.6L506.2 338.9L508.2 339.5L509.0 339.5L510.2 339.5L512.2 339.5L513.5 339.5L514.2 339.5L516.2 339.5L516.5 339.5L518.2 339.5L520.2 339.5L522.2 339.5L524.0 339.5L524.2 339.5L526.2 339.5L528.2 339.5L528.5 339.5L530.2 339.5L532.2 339.5L534.2 339.1L534.5 339.1L536.2 338.9L537.5 339.0L538.2 339.0L540.2 339.2L542.2 339.5L542.7 339.5L544.2 339.5L546.2 339.5L547.2 339.5L548.2 339.5L550.2 339.5L552.2 339.5L554.2 339.5L554.5 339.5L556.2 339.5L556.7 339.5L558.2 339.5L560.2 339.5L560.5 339.5L562.2 339.5L564.2 339.5L565.7 339.5L566.2 339.5L568.2 339.5L568.7 339.5L570.2 339.5L571.0 339.5L572.2 339.5L574.2 339.5L576.2 339.5L578.2 339.5L580.2 339.5L580.7 339.5L582.2 339.5L584.2 339.5L585.7 339.2L586.2 339.1L588.2 338.9L589.0 338.8L590.2 339.3L591.2 339.5L592.2 339.5L594.2 339.5L596.2 339.5L596.5 339.5L598.2 339.5L599.5 339.5L600.2 339.5L602.2 339.5L602.5 339.5L604.2 339.5L606.2 339.5L608.2 339.5L608.5 339.5L610.2 339.5L611.5 339.5L612.2 339.5L614.2 339.5L615.2 339.5L616.2 339.5L616.7 339.5L618.2 339.5L619.0 339.5L620.2 339.5L622.0 339.5L622.2 339.5L624.2 339.5L625.0 339.5L626.2 339.5L628.2 339.5L629.5 339.5L630.2 339.5L632.2 339.5L634.2 339.5L634.7 339.5L636.2 339.5L637.7 339.5L638.2 339.5L640.2 339.5L641.5 339.5L642.2 339.5L643.7 339.5L644.2 339.5L646.2 339.5L647.5 339.5L648.2 339.5L650.2 339.5L652.2 339.5L654.2 339.5L656.2 339.5L658.0 339.5L658.2 339.5L660.2 339.5L661.0 339.5L662.2 339.5L664.2 339.5L664.7 339.5L666.2 339.5L668.2 339.5L668.5 339.5L670.2 339.5L670.7 339.5L672.2 339.5L674.2 339.5L676.2 339.5L677.5 339.5L678.2 339.5L680.2 339.5L681.2 339.5L682.2 339.5L684.2 339.5L685.7 339.5L686.2 339.5L687.7 339.5L688.2 339.5L689.5 339.5L690.2 339.5L692.2 339.5L693.7 339.5L694.2 339.5L696.2 339.5L696.7 339.5L698.2 339.5L699.7 339.5L700.2 339.5L702.0 339.5L702.2 339.5L704.2 339.5L705.0 339.5L706.2 339.5L708.2 339.5L710.2 339.5L711.0 339.5L712.2 339.5L712.5 339.5L714.2 339.5L716.2 339.5L716.7 339.5L718.2 339.3L719.2 339.2L720.2 339.1L722.2 338.8L722.5 338.8L724.2 339.1L726.2 339.5L726.7 339.5L728.2 339.5L730.2 339.5L730.8 339.5L732.2 339.5L734.2 339.5L736.2 339.5L737.2 339.5L738.2 339.5L740.2 339.5L741.7 339.5L742.2 339.5L744.2 339.5L745.5 339.5L746.2 339.5L748.2 339.5L748.5 339.5L750.2 339.5L752.2 339.5L753.0 339.5L754.2 339.5L755.2 339.5L756.2 339.5L758.2 339.5L759.0 339.5L760.2 339.5L762.2 339.5L762.7 339.5L764.2 339.5L766.2 339.5L766.5 339.5L768.2 339.5L769.5 339.5L770.2 339.5L772.2 339.5L772.5 339.5L774.2 339.5L774.7 339.5L776.2 339.5L777.0 339.5L778.2 339.5L780.0 339.5L780.2 339.5L782.2 339.5L784.2 339.5L785.0 339.5L786.2 339.5L788.2 339.5L788.6 339.5L790.2 339.5L790.4 339.5L792.2 339.5L794.0 339.5L794.2 339.5L795.8 339.5L796.2 339.5L797.6 339.5L798.2 339.5L799.4 339.5L800.2 339.5L802.2 339.5L802.4 339.5L804.2 339.5L806.2 339.5L807.2 339.5L808.2 339.5L810.2 339.5L810.8 339.5L812.2 339.5L814.2 339.5L814.4 339.5L816.2 339.5L818.0 339.5L818.2 339.5L820.2 339.5L820.4 339.5L822.2 339.5L823.4 339.5L824.2 339.5L826.2 339.5L828.2 339.5L830.0 339.5L830.2 339.5L832.2 339.5L834.2 339.5L834.8 339.5L836.2 339.5L838.2 339.5L839.6 339.5L840.2 339.5L842.2 339.5L843.2 339.5L844.2 339.5L846.2 339.5L848.0 339.5L848.2 339.5L850.2 339.5L852.2 339.5L854.0 339.5L854.2 339.5L856.2 339.5L858.2 339.5L860.0 339.5L860.2 339.5L862.2 339.5L864.2 339.5L865.3 339.5L865.3 341.00Z" fill="#fba35c"/><path d="M160.2 341.00L160.2 339.7L162.2 339.7L163.6 339.7L164.2 339.7L166.2 339.7L168.2 339.7L168.4 339.7L170.2 339.7L172.2 339.7L174.2 339.7L175.0 339.7L176.2 339.7L178.2 339.7L178.5 339.7L180.2 339.7L182.2 339.7L184.2 339.7L184.4 339.7L186.2 339.7L188.2 339.7L189.3 339.7L190.2 339.7L192.0 339.7L192.2 339.7L194.2 339.7L196.2 339.7L198.2 339.7L200.2 339.7L200.9 339.7L202.2 339.7L204.2 339.7L205.2 339.7L206.2 339.7L206.5 339.7L208.2 339.7L210.2 339.7L212.2 339.7L214.2 339.7L216.2 339.7L218.2 339.7L220.2 339.7L220.5 339.7L222.2 339.7L224.2 339.7L226.2 339.7L226.5 339.7L228.2 339.7L230.2 339.7L231.9 339.7L232.2 339.7L234.2 339.7L236.2 339.7L237.2 339.7L238.2 339.7L240.2 339.7L240.4 339.7L242.2 339.7L242.8 339.7L244.2 339.7L246.2 339.7L248.2 339.7L248.4 339.7L250.0 339.7L250.2 339.7L252.2 339.7L254.2 339.7L255.6 339.7L256.2 339.7L258.2 339.7L260.2 339.7L260.4 339.7L262.2 339.7L263.3 339.7L264.2 339.7L266.2 339.7L268.2 339.7L269.2 339.7L270.2 339.7L272.2 339.7L272.4 339.7L274.0 339.7L274.2 339.7L276.2 339.7L276.4 339.7L278.2 339.7L280.2 339.7L282.2 339.7L284.2 339.7L286.2 339.7L287.3 339.7L288.2 339.7L288.7 339.7L290.2 339.7L292.2 339.7L294.2 339.7L294.7 339.7L296.2 339.7L297.7 339.7L298.2 339.7L300.0 339.7L300.2 339.7L302.2 339.7L304.2 339.7L306.0 339.7L306.2 339.7L308.2 339.7L310.2 339.7L311.2 339.7L312.2 339.7L314.2 339.7L316.2 339.7L317.7 339.7L318.2 339.7L320.2 339.7L321.7 339.7L322.2 339.7L324.2 339.7L325.5 339.7L326.2 339.7L328.2 339.7L329.2 339.7L330.2 339.7L332.2 339.7L334.2 339.7L334.5 339.7L336.2 339.7L337.5 339.7L338.2 339.7L340.2 339.7L342.0 339.7L342.2 339.7L343.0 339.7L344.2 339.7L345.0 339.7L346.2 339.7L348.2 339.7L348.7 339.7L350.2 339.7L352.2 339.7L352.5 339.7L354.2 339.7L354.7 339.7L356.2 339.7L357.0 339.7L358.2 339.7L360.0 339.7L360.2 339.7L361.5 339.7L362.2 339.7L363.7 339.7L364.2 339.7L366.2 339.7L368.2 339.7L370.2 339.7L372.2 339.7L374.2 339.7L375.0 339.7L376.2 339.7L378.0 339.7L378.2 339.7L380.2 339.7L381.0 339.7L382.2 339.7L383.2 339.7L384.2 339.7L386.2 339.7L388.2 339.7L389.0 339.7L390.2 339.7L392.2 339.7L394.2 339.7L394.5 339.7L396.2 339.7L398.2 339.7L400.2 339.7L400.5 339.7L402.2 339.7L403.5 339.7L404.2 339.7L405.7 339.7L406.2 339.7L408.0 339.7L408.2 339.7L410.2 339.7L411.0 339.7L412.2 339.7L414.2 339.7L416.2 339.7L417.5 339.7L418.2 339.7L420.2 339.7L420.5 339.7L422.2 339.7L423.5 339.7L424.2 339.7L426.2 339.7L427.2 339.7L428.2 339.7L429.5 339.7L430.2 339.7L432.2 339.7L434.2 339.7L436.2 339.7L437.0 339.7L438.2 339.7L440.0 339.7L440.2 339.7L442.2 339.7L443.7 339.7L444.2 339.7L446.2 339.7L446.7 339.7L448.2 339.7L449.0 339.7L450.2 339.7L452.2 339.7L454.2 339.7L455.0 339.7L456.2 339.7L457.2 339.7L458.2 339.7L460.2 339.7L462.2 339.7L464.2 339.7L465.5 339.7L466.2 339.7L468.2 339.7L469.2 339.7L470.2 339.7L472.2 339.7L474.2 339.7L474.5 339.7L476.2 339.7L478.2 339.7L480.2 339.7L482.2 339.7L483.0 339.7L484.2 339.6L486.2 339.5L488.0 339.5L488.2 339.5L490.2 339.4L491.7 339.4L492.2 339.4L494.2 339.6L495.5 339.7L496.2 339.7L498.2 339.7L500.0 339.7L500.2 339.7L502.2 339.7L504.2 339.7L505.7 339.7L506.2 339.7L508.2 339.7L509.0 339.7L510.2 339.7L512.2 339.7L513.5 339.7L514.2 339.7L516.2 339.7L516.5 339.7L518.2 339.7L520.2 339.7L522.2 339.7L524.0 339.7L524.2 339.7L526.2 339.7L528.2 339.7L528.5 339.7L530.2 339.7L532.2 339.7L534.2 339.7L534.5 339.7L536.2 339.7L537.5 339.7L538.2 339.7L540.2 339.7L542.2 339.7L542.7 339.7L544.2 339.7L546.2 339.7L547.2 339.7L548.2 339.7L550.2 339.7L552.2 339.7L554.2 339.7L554.5 339.7L556.2 339.7L556.7 339.7L558.2 339.7L560.2 339.7L560.5 339.7L562.2 339.7L564.2 339.7L565.7 339.7L566.2 339.7L568.2 339.7L568.7 339.7L570.2 339.7L571.0 339.7L572.2 339.7L574.2 339.7L576.2 339.7L578.2 339.7L580.2 339.7L580.7 339.7L582.2 339.7L584.2 339.7L585.7 339.7L586.2 339.7L588.2 339.7L589.0 339.7L590.2 339.7L591.2 339.7L592.2 339.7L594.2 339.7L596.2 339.7L596.5 339.7L598.2 339.7L599.5 339.7L600.2 339.7L602.2 339.7L602.5 339.7L604.2 339.7L606.2 339.7L608.2 339.7L608.5 339.7L610.2 339.7L611.5 339.7L612.2 339.7L614.2 339.7L615.2 339.7L616.2 339.7L616.7 339.7L618.2 339.7L619.0 339.7L620.2 339.7L622.0 339.7L622.2 339.7L624.2 339.7L625.0 339.7L626.2 339.7L628.2 339.7L629.5 339.7L630.2 339.7L632.2 339.7L634.2 339.7L634.7 339.7L636.2 339.7L637.7 339.7L638.2 339.7L640.2 339.7L641.5 339.7L642.2 339.7L643.7 339.7L644.2 339.7L646.2 339.7L647.5 339.7L648.2 339.7L650.2 339.7L652.2 339.7L654.2 339.7L656.2 339.7L658.0 339.7L658.2 339.7L660.2 339.7L661.0 339.7L662.2 339.7L664.2 339.7L664.7 339.7L666.2 339.7L668.2 339.7L668.5 339.7L670.2 339.7L670.7 339.7L672.2 339.7L674.2 339.7L676.2 339.7L677.5 339.7L678.2 339.7L680.2 339.7L681.2 339.7L682.2 339.7L684.2 339.7L685.7 339.7L686.2 339.7L687.7 339.7L688.2 339.7L689.5 339.7L690.2 339.7L692.2 339.7L693.7 339.7L694.2 339.7L696.2 339.7L696.7 339.7L698.2 339.7L699.7 339.7L700.2 339.7L702.0 339.7L702.2 339.7L704.2 339.7L705.0 339.7L706.2 339.7L708.2 339.7L710.2 339.7L711.0 339.7L712.2 339.7L712.5 339.7L714.2 339.7L716.2 339.7L716.7 339.7L718.2 339.7L719.2 339.7L720.2 339.7L722.2 339.7L722.5 339.7L724.2 339.7L726.2 339.7L726.7 339.7L728.2 339.7L730.2 339.7L730.8 339.7L732.2 339.7L734.2 339.7L736.2 339.7L737.2 339.7L738.2 339.7L740.2 339.7L741.7 339.7L742.2 339.7L744.2 339.7L745.5 339.7L746.2 339.7L748.2 339.7L748.5 339.7L750.2 339.7L752.2 339.7L753.0 339.7L754.2 339.7L755.2 339.7L756.2 339.7L758.2 339.7L759.0 339.7L760.2 339.7L762.2 339.7L762.7 339.7L764.2 339.7L766.2 339.7L766.5 339.7L768.2 339.7L769.5 339.7L770.2 339.7L772.2 339.7L772.5 339.7L774.2 339.7L774.7 339.7L776.2 339.7L777.0 339.7L778.2 339.7L780.0 339.7L780.2 339.7L782.2 339.7L784.2 339.7L785.0 339.7L786.2 339.7L788.2 339.7L788.6 339.7L790.2 339.7L790.4 339.7L792.2 339.7L794.0 339.7L794.2 339.7L795.8 339.7L796.2 339.7L797.6 339.7L798.2 339.7L799.4 339.7L800.2 339.7L802.2 339.7L802.4 339.7L804.2 339.7L806.2 339.7L807.2 339.7L808.2 339.7L810.2 339.7L810.8 339.7L812.2 339.7L814.2 339.7L814.4 339.7L816.2 339.7L818.0 339.7L818.2 339.7L820.2 339.7L820.4 339.7L822.2 339.7L823.4 339.7L824.2 339.7L826.2 339.7L828.2 339.7L830.0 339.7L830.2 339.7L832.2 339.7L834.2 339.7L834.8 339.7L836.2 339.7L838.2 339.7L839.6 339.7L840.2 339.7L842.2 339.7L843.2 339.7L844.2 339.7L846.2 339.7L848.0 339.7L848.2 339.7L850.2 339.7L852.2 339.7L854.0 339.7L854.2 339.7L856.2 339.7L858.2 339.7L860.0 339.7L860.2 339.7L862.2 339.7L864.2 339.7L865.3 339.7L865.3 341.00Z" fill="#f98e52"/><path d="M160.2 341.00L160.2 340.0L162.2 340.0L163.6 340.0L164.2 340.0L166.2 340.0L168.2 340.0L168.4 340.0L170.2 340.0L172.2 340.0L174.2 340.0L175.0 340.0L176.2 340.0L178.2 340.0L178.5 340.0L180.2 340.0L182.2 340.0L184.2 340.0L184.4 340.0L186.2 340.0L188.2 340.0L189.3 340.0L190.2 340.0L192.0 340.0L192.2 340.0L194.2 340.0L196.2 340.0L198.2 340.0L200.2 340.0L200.9 340.0L202.2 340.0L204.2 340.0L205.2 340.0L206.2 340.0L206.5 340.0L208.2 340.0L210.2 340.0L212.2 340.0L214.2 340.0L216.2 340.0L218.2 340.0L220.2 340.0L220.5 340.0L222.2 340.0L224.2 340.0L226.2 340.0L226.5 340.0L228.2 340.0L230.2 340.0L231.9 340.0L232.2 340.0L234.2 340.0L236.2 340.0L237.2 340.0L238.2 340.0L240.2 340.0L240.4 340.0L242.2 340.0L242.8 340.0L244.2 340.0L246.2 340.0L248.2 340.0L248.4 340.0L250.0 340.0L250.2 340.0L252.2 340.0L254.2 340.0L255.6 340.0L256.2 340.0L258.2 340.0L260.2 340.0L260.4 340.0L262.2 340.0L263.3 340.0L264.2 340.0L266.2 340.0L268.2 340.0L269.2 340.0L270.2 340.0L272.2 340.0L272.4 340.0L274.0 340.0L274.2 340.0L276.2 340.0L276.4 340.0L278.2 340.0L280.2 340.0L282.2 340.0L284.2 340.0L286.2 340.0L287.3 340.0L288.2 340.0L288.7 340.0L290.2 340.0L292.2 340.0L294.2 340.0L294.7 340.0L296.2 340.0L297.7 340.0L298.2 340.0L300.0 340.0L300.2 340.0L302.2 340.0L304.2 340.0L306.0 340.0L306.2 340.0L308.2 340.0L310.2 340.0L311.2 340.0L312.2 340.0L314.2 340.0L316.2 340.0L317.7 340.0L318.2 340.0L320.2 340.0L321.7 340.0L322.2 340.0L324.2 340.0L325.5 340.0L326.2 340.0L328.2 340.0L329.2 340.0L330.2 340.0L332.2 340.0L334.2 340.0L334.5 340.0L336.2 340.0L337.5 340.0L338.2 340.0L340.2 340.0L342.0 340.0L342.2 340.0L343.0 340.0L344.2 340.0L345.0 340.0L346.2 340.0L348.2 340.0L348.7 340.0L350.2 340.0L352.2 340.0L352.5 340.0L354.2 340.0L354.7 340.0L356.2 340.0L357.0 340.0L358.2 340.0L360.0 340.0L360.2 340.0L361.5 340.0L362.2 340.0L363.7 340.0L364.2 340.0L366.2 340.0L368.2 340.0L370.2 340.0L372.2 340.0L374.2 340.0L375.0 340.0L376.2 340.0L378.0 340.0L378.2 340.0L380.2 340.0L381.0 340.0L382.2 340.0L383.2 340.0L384.2 340.0L386.2 340.0L388.2 340.0L389.0 340.0L390.2 340.0L392.2 340.0L394.2 340.0L394.5 340.0L396.2 340.0L398.2 340.0L400.2 340.0L400.5 340.0L402.2 340.0L403.5 340.0L404.2 340.0L405.7 340.0L406.2 340.0L408.0 340.0L408.2 340.0L410.2 340.0L411.0 340.0L412.2 340.0L414.2 340.0L416.2 340.0L417.5 340.0L418.2 340.0L420.2 340.0L420.5 340.0L422.2 340.0L423.5 340.0L424.2 340.0L426.2 340.0L427.2 340.0L428.2 340.0L429.5 340.0L430.2 340.0L432.2 340.0L434.2 340.0L436.2 340.0L437.0 340.0L438.2 340.0L440.0 340.0L440.2 340.0L442.2 340.0L443.7 340.0L444.2 340.0L446.2 340.0L446.7 340.0L448.2 340.0L449.0 340.0L450.2 340.0L452.2 340.0L454.2 340.0L455.0 340.0L456.2 340.0L457.2 340.0L458.2 340.0L460.2 340.0L462.2 340.0L464.2 340.0L465.5 340.0L466.2 340.0L468.2 340.0L469.2 340.0L470.2 340.0L472.2 340.0L474.2 340.0L474.5 340.0L476.2 340.0L478.2 340.0L480.2 340.0L482.2 340.0L483.0 340.0L484.2 340.0L486.2 340.0L488.0 340.0L488.2 340.0L490.2 340.0L491.7 340.0L492.2 340.0L494.2 340.0L495.5 340.0L496.2 340.0L498.2 340.0L500.0 340.0L500.2 340.0L502.2 340.0L504.2 340.0L505.7 340.0L506.2 340.0L508.2 340.0L509.0 340.0L510.2 340.0L512.2 340.0L513.5 340.0L514.2 340.0L516.2 340.0L516.5 340.0L518.2 340.0L520.2 340.0L522.2 340.0L524.0 340.0L524.2 340.0L526.2 340.0L528.2 340.0L528.5 340.0L530.2 340.0L532.2 340.0L534.2 340.0L534.5 340.0L536.2 340.0L537.5 340.0L538.2 340.0L540.2 340.0L542.2 340.0L542.7 340.0L544.2 340.0L546.2 340.0L547.2 340.0L548.2 340.0L550.2 340.0L552.2 340.0L554.2 340.0L554.5 340.0L556.2 340.0L556.7 340.0L558.2 340.0L560.2 340.0L560.5 340.0L562.2 340.0L564.2 340.0L565.7 340.0L566.2 340.0L568.2 340.0L568.7 340.0L570.2 340.0L571.0 340.0L572.2 340.0L574.2 340.0L576.2 340.0L578.2 340.0L580.2 340.0L580.7 340.0L582.2 340.0L584.2 340.0L585.7 340.0L586.2 340.0L588.2 340.0L589.0 340.0L590.2 340.0L591.2 340.0L592.2 340.0L594.2 340.0L596.2 340.0L596.5 340.0L598.2 340.0L599.5 340.0L600.2 340.0L602.2 340.0L602.5 340.0L604.2 340.0L606.2 340.0L608.2 340.0L608.5 340.0L610.2 340.0L611.5 340.0L612.2 340.0L614.2 340.0L615.2 340.0L616.2 340.0L616.7 340.0L618.2 340.0L619.0 340.0L620.2 340.0L622.0 340.0L622.2 340.0L624.2 340.0L625.0 340.0L626.2 340.0L628.2 340.0L629.5 340.0L630.2 340.0L632.2 340.0L634.2 340.0L634.7 340.0L636.2 340.0L637.7 340.0L638.2 340.0L640.2 340.0L641.5 340.0L642.2 340.0L643.7 340.0L644.2 340.0L646.2 340.0L647.5 340.0L648.2 340.0L650.2 340.0L652.2 340.0L654.2 340.0L656.2 340.0L658.0 340.0L658.2 340.0L660.2 340.0L661.0 340.0L662.2 340.0L664.2 340.0L664.7 340.0L666.2 340.0L668.2 340.0L668.5 340.0L670.2 340.0L670.7 340.0L672.2 340.0L674.2 340.0L676.2 340.0L677.5 340.0L678.2 340.0L680.2 340.0L681.2 340.0L682.2 340.0L684.2 340.0L685.7 340.0L686.2 340.0L687.7 340.0L688.2 340.0L689.5 340.0L690.2 340.0L692.2 340.0L693.7 340.0L694.2 340.0L696.2 340.0L696.7 340.0L698.2 340.0L699.7 340.0L700.2 340.0L702.0 340.0L702.2 340.0L704.2 340.0L705.0 340.0L706.2 340.0L708.2 340.0L710.2 340.0L711.0 340.0L712.2 340.0L712.5 340.0L714.2 340.0L716.2 340.0L716.7 340.0L718.2 340.0L719.2 340.0L720.2 340.0L722.2 340.0L722.5 340.0L724.2 340.0L726.2 340.0L726.7 340.0L728.2 340.0L730.2 340.0L730.8 340.0L732.2 340.0L734.2 340.0L736.2 340.0L737.2 340.0L738.2 340.0L740.2 340.0L741.7 340.0L742.2 340.0L744.2 340.0L745.5 340.0L746.2 340.0L748.2 340.0L748.5 340.0L750.2 340.0L752.2 340.0L753.0 340.0L754.2 340.0L755.2 340.0L756.2 340.0L758.2 340.0L759.0 340.0L760.2 340.0L762.2 340.0L762.7 340.0L764.2 340.0L766.2 340.0L766.5 340.0L768.2 340.0L769.5 340.0L770.2 340.0L772.2 340.0L772.5 340.0L774.2 340.0L774.7 340.0L776.2 340.0L777.0 340.0L778.2 340.0L780.0 340.0L780.2 340.0L782.2 340.0L784.2 340.0L785.0 340.0L786.2 340.0L788.2 340.0L788.6 340.0L790.2 340.0L790.4 340.0L792.2 340.0L794.0 340.0L794.2 340.0L795.8 340.0L796.2 340.0L797.6 340.0L798.2 340.0L799.4 340.0L800.2 340.0L802.2 340.0L802.4 340.0L804.2 340.0L806.2 340.0L807.2 340.0L808.2 340.0L810.2 340.0L810.8 340.0L812.2 340.0L814.2 340.0L814.4 340.0L816.2 340.0L818.0 340.0L818.2 340.0L820.2 340.0L820.4 340.0L822.2 340.0L823.4 340.0L824.2 340.0L826.2 340.0L828.2 340.0L830.0 340.0L830.2 340.0L832.2 340.0L834.2 340.0L834.8 340.0L836.2 340.0L838.2 340.0L839.6 340.0L840.2 340.0L842.2 340.0L843.2 340.0L844.2 340.0L846.2 340.0L848.0 340.0L848.2 340.0L850.2 340.0L852.2 340.0L854.0 340.0L854.2 340.0L856.2 340.0L858.2 340.0L860.0 340.0L860.2 340.0L862.2 340.0L864.2 340.0L865.3 340.0L865.3 341.00Z" fill="#f57748"/><path d="M160.2 341.00L160.2 340.5L162.2 340.5L163.6 340.5L164.2 340.5L166.2 340.5L168.2 340.5L168.4 340.5L170.2 340.5L172.2 340.5L174.2 340.5L175.0 340.5L176.2 340.5L178.2 340.5L178.5 340.5L180.2 340.5L182.2 340.5L184.2 340.5L184.4 340.5L186.2 340.5L188.2 340.5L189.3 340.5L190.2 340.5L192.0 340.5L192.2 340.5L194.2 340.5L196.2 340.5L198.2 340.5L200.2 340.5L200.9 340.5L202.2 340.5L204.2 340.5L205.2 340.5L206.2 340.5L206.5 340.5L208.2 340.5L210.2 340.5L212.2 340.5L214.2 340.5L216.2 340.5L218.2 340.5L220.2 340.5L220.5 340.5L222.2 340.5L224.2 340.5L226.2 340.5L226.5 340.5L228.2 340.5L230.2 340.5L231.9 340.5L232.2 340.5L234.2 340.5L236.2 340.5L237.2 340.5L238.2 340.5L240.2 340.5L240.4 340.5L242.2 340.5L242.8 340.5L244.2 340.5L246.2 340.5L248.2 340.5L248.4 340.5L250.0 340.5L250.2 340.5L252.2 340.5L254.2 340.5L255.6 340.5L256.2 340.5L258.2 340.5L260.2 340.5L260.4 340.5L262.2 340.5L263.3 340.5L264.2 340.5L266.2 340.5L268.2 340.5L269.2 340.5L270.2 340.5L272.2 340.5L272.4 340.5L274.0 340.5L274.2 340.5L276.2 340.5L276.4 340.5L278.2 340.5L280.2 340.5L282.2 340.5L284.2 340.5L286.2 340.5L287.3 340.5L288.2 340.5L288.7 340.5L290.2 340.5L292.2 340.5L294.2 340.5L294.7 340.5L296.2 340.5L297.7 340.5L298.2 340.5L300.0 340.5L300.2 340.5L302.2 340.5L304.2 340.5L306.0 340.5L306.2 340.5L308.2 340.5L310.2 340.5L311.2 340.5L312.2 340.5L314.2 340.5L316.2 340.5L317.7 340.5L318.2 340.5L320.2 340.5L321.7 340.5L322.2 340.5L324.2 340.5L325.5 340.5L326.2 340.5L328.2 340.5L329.2 340.5L330.2 340.5L332.2 340.5L334.2 340.5L334.5 340.5L336.2 340.5L337.5 340.5L338.2 340.5L340.2 340.5L342.0 340.5L342.2 340.5L343.0 340.5L344.2 340.5L345.0 340.5L346.2 340.5L348.2 340.5L348.7 340.5L350.2 340.5L352.2 340.5L352.5 340.5L354.2 340.5L354.7 340.5L356.2 340.5L357.0 340.5L358.2 340.5L360.0 340.5L360.2 340.5L361.5 340.5L362.2 340.5L363.7 340.5L364.2 340.5L366.2 340.5L368.2 340.5L370.2 340.5L372.2 340.5L374.2 340.5L375.0 340.5L376.2 340.5L378.0 340.5L378.2 340.5L380.2 340.5L381.0 340.5L382.2 340.5L383.2 340.5L384.2 340.5L386.2 340.5L388.2 340.5L389.0 340.5L390.2 340.5L392.2 340.5L394.2 340.5L394.5 340.5L396.2 340.5L398.2 340.5L400.2 340.5L400.5 340.5L402.2 340.5L403.5 340.5L404.2 340.5L405.7 340.5L406.2 340.5L408.0 340.5L408.2 340.5L410.2 340.5L411.0 340.5L412.2 340.5L414.2 340.5L416.2 340.5L417.5 340.5L418.2 340.5L420.2 340.5L420.5 340.5L422.2 340.5L423.5 340.5L424.2 340.5L426.2 340.5L427.2 340.5L428.2 340.5L429.5 340.5L430.2 340.5L432.2 340.5L434.2 340.5L436.2 340.5L437.0 340.5L438.2 340.5L440.0 340.5L440.2 340.5L442.2 340.5L443.7 340.5L444.2 340.5L446.2 340.5L446.7 340.5L448.2 340.5L449.0 340.5L450.2 340.5L452.2 340.5L454.2 340.5L455.0 340.5L456.2 340.5L457.2 340.5L458.2 340.5L460.2 340.5L462.2 340.5L464.2 340.5L465.5 340.5L466.2 340.5L468.2 340.5L469.2 340.5L470.2 340.5L472.2 340.5L474.2 340.5L474.5 340.5L476.2 340.5L478.2 340.5L480.2 340.5L482.2 340.5L483.0 340.5L484.2 340.5L486.2 340.5L488.0 340.5L488.2 340.5L490.2 340.5L491.7 340.5L492.2 340.5L494.2 340.5L495.5 340.5L496.2 340.5L498.2 340.5L500.0 340.5L500.2 340.5L502.2 340.5L504.2 340.5L505.7 340.5L506.2 340.5L508.2 340.5L509.0 340.5L510.2 340.5L512.2 340.5L513.5 340.5L514.2 340.5L516.2 340.5L516.5 340.5L518.2 340.5L520.2 340.5L522.2 340.5L524.0 340.5L524.2 340.5L526.2 340.5L528.2 340.5L528.5 340.5L530.2 340.5L532.2 340.5L534.2 340.5L534.5 340.5L536.2 340.5L537.5 340.5L538.2 340.5L540.2 340.5L542.2 340.5L542.7 340.5L544.2 340.5L546.2 340.5L547.2 340.5L548.2 340.5L550.2 340.5L552.2 340.5L554.2 340.5L554.5 340.5L556.2 340.5L556.7 340.5L558.2 340.5L560.2 340.5L560.5 340.5L562.2 340.5L564.2 340.5L565.7 340.5L566.2 340.5L568.2 340.5L568.7 340.5L570.2 340.5L571.0 340.5L572.2 340.5L574.2 340.5L576.2 340.5L578.2 340.5L580.2 340.5L580.7 340.5L582.2 340.5L584.2 340.5L585.7 340.5L586.2 340.5L588.2 340.5L589.0 340.5L590.2 340.5L591.2 340.5L592.2 340.5L594.2 340.5L596.2 340.5L596.5 340.5L598.2 340.5L599.5 340.5L600.2 340.5L602.2 340.5L602.5 340.5L604.2 340.5L606.2 340.5L608.2 340.5L608.5 340.5L610.2 340.5L611.5 340.5L612.2 340.5L614.2 340.5L615.2 340.5L616.2 340.5L616.7 340.5L618.2 340.5L619.0 340.5L620.2 340.5L622.0 340.5L622.2 340.5L624.2 340.5L625.0 340.5L626.2 340.5L628.2 340.5L629.5 340.5L630.2 340.5L632.2 340.5L634.2 340.5L634.7 340.5L636.2 340.5L637.7 340.5L638.2 340.5L640.2 340.5L641.5 340.5L642.2 340.5L643.7 340.5L644.2 340.5L646.2 340.5L647.5 340.5L648.2 340.5L650.2 340.5L652.2 340.5L654.2 340.5L656.2 340.5L658.0 340.5L658.2 340.5L660.2 340.5L661.0 340.5L662.2 340.5L664.2 340.5L664.7 340.5L666.2 340.5L668.2 340.5L668.5 340.5L670.2 340.5L670.7 340.5L672.2 340.5L674.2 340.5L676.2 340.5L677.5 340.5L678.2 340.5L680.2 340.5L681.2 340.5L682.2 340.5L684.2 340.5L685.7 340.5L686.2 340.5L687.7 340.5L688.2 340.5L689.5 340.5L690.2 340.5L692.2 340.5L693.7 340.5L694.2 340.5L696.2 340.5L696.7 340.5L698.2 340.5L699.7 340.5L700.2 340.5L702.0 340.5L702.2 340.5L704.2 340.5L705.0 340.5L706.2 340.5L708.2 340.5L710.2 340.5L711.0 340.5L712.2 340.5L712.5 340.5L714.2 340.5L716.2 340.5L716.7 340.5L718.2 340.5L719.2 340.5L720.2 340.5L722.2 340.5L722.5 340.5L724.2 340.5L726.2 340.5L726.7 340.5L728.2 340.5L730.2 340.5L730.8 340.5L732.2 340.5L734.2 340.5L736.2 340.5L737.2 340.5L738.2 340.5L740.2 340.5L741.7 340.5L742.2 340.5L744.2 340.5L745.5 340.5L746.2 340.5L748.2 340.5L748.5 340.5L750.2 340.5L752.2 340.5L753.0 340.5L754.2 340.5L755.2 340.5L756.2 340.5L758.2 340.5L759.0 340.5L760.2 340.5L762.2 340.5L762.7 340.5L764.2 340.5L766.2 340.5L766.5 340.5L768.2 340.5L769.5 340.5L770.2 340.5L772.2 340.5L772.5 340.5L774.2 340.5L774.7 340.5L776.2 340.5L777.0 340.5L778.2 340.5L780.0 340.5L780.2 340.5L782.2 340.5L784.2 340.5L785.0 340.5L786.2 340.5L788.2 340.5L788.6 340.5L790.2 340.5L790.4 340.5L792.2 340.5L794.0 340.5L794.2 340.5L795.8 340.5L796.2 340.5L797.6 340.5L798.2 340.5L799.4 340.5L800.2 340.5L802.2 340.5L802.4 340.5L804.2 340.5L806.2 340.5L807.2 340.5L808.2 340.5L810.2 340.5L810.8 340.5L812.2 340.5L814.2 340.5L814.4 340.5L816.2 340.5L818.0 340.5L818.2 340.5L820.2 340.5L820.4 340.5L822.2 340.5L823.4 340.5L824.2 340.5L826.2 340.5L828.2 340.5L830.0 340.5L830.2 340.5L832.2 340.5L834.2 340.5L834.8 340.5L836.2 340.5L838.2 340.5L839.6 340.5L840.2 340.5L842.2 340.5L843.2 340.5L844.2 340.5L846.2 340.5L848.0 340.5L848.2 340.5L850.2 340.5L852.2 340.5L854.0 340.5L854.2 340.5L856.2 340.5L858.2 340.5L860.0 340.5L860.2 340.5L862.2 340.5L864.2 340.5L865.3 340.5L865.3 341.00Z" fill="#ee6445"/><path d="M160.2 341.00L160.2 340.8L162.2 340.8L163.6 340.8L164.2 340.8L166.2 340.8L168.2 340.8L168.4 340.8L170.2 340.8L172.2 340.8L174.2 340.8L175.0 340.8L176.2 340.8L178.2 340.8L178.5 340.8L180.2 340.8L182.2 340.8L184.2 340.8L184.4 340.8L186.2 340.8L188.2 340.8L189.3 340.8L190.2 340.8L192.0 340.8L192.2 340.8L194.2 340.8L196.2 340.8L198.2 340.8L200.2 340.8L200.9 340.8L202.2 340.8L204.2 340.8L205.2 340.8L206.2 340.8L206.5 340.8L208.2 340.8L210.2 340.8L212.2 340.8L214.2 340.8L216.2 340.8L218.2 340.8L220.2 340.8L220.5 340.8L222.2 340.8L224.2 340.8L226.2 340.8L226.5 340.8L228.2 340.8L230.2 340.8L231.9 340.8L232.2 340.8L234.2 340.8L236.2 340.8L237.2 340.8L238.2 340.8L240.2 340.8L240.4 340.8L242.2 340.8L242.8 340.8L244.2 340.8L246.2 340.8L248.2 340.8L248.4 340.8L250.0 340.8L250.2 340.8L252.2 340.8L254.2 340.8L255.6 340.8L256.2 340.8L258.2 340.8L260.2 340.8L260.4 340.8L262.2 340.8L263.3 340.8L264.2 340.8L266.2 340.8L268.2 340.8L269.2 340.8L270.2 340.8L272.2 340.8L272.4 340.8L274.0 340.8L274.2 340.8L276.2 340.8L276.4 340.8L278.2 340.8L280.2 340.8L282.2 340.8L284.2 340.8L286.2 340.8L287.3 340.8L288.2 340.8L288.7 340.8L290.2 340.8L292.2 340.8L294.2 340.8L294.7 340.8L296.2 340.8L297.7 340.8L298.2 340.8L300.0 340.8L300.2 340.8L302.2 340.8L304.2 340.8L306.0 340.8L306.2 340.8L308.2 340.8L310.2 340.8L311.2 340.8L312.2 340.8L314.2 340.8L316.2 340.8L317.7 340.8L318.2 340.8L320.2 340.8L321.7 340.8L322.2 340.8L324.2 340.8L325.5 340.8L326.2 340.8L328.2 340.8L329.2 340.8L330.2 340.8L332.2 340.8L334.2 340.8L334.5 340.8L336.2 340.8L337.5 340.8L338.2 340.8L340.2 340.8L342.0 340.8L342.2 340.8L343.0 340.8L344.2 340.8L345.0 340.8L346.2 340.8L348.2 340.8L348.7 340.8L350.2 340.8L352.2 340.8L352.5 340.8L354.2 340.8L354.7 340.8L356.2 340.8L357.0 340.8L358.2 340.8L360.0 340.8L360.2 340.8L361.5 340.8L362.2 340.8L363.7 340.8L364.2 340.8L366.2 340.8L368.2 340.8L370.2 340.8L372.2 340.8L374.2 340.8L375.0 340.8L376.2 340.8L378.0 340.8L378.2 340.8L380.2 340.8L381.0 340.8L382.2 340.8L383.2 340.8L384.2 340.8L386.2 340.8L388.2 340.8L389.0 340.8L390.2 340.8L392.2 340.8L394.2 340.8L394.5 340.8L396.2 340.8L398.2 340.8L400.2 340.8L400.5 340.8L402.2 340.8L403.5 340.8L404.2 340.8L405.7 340.8L406.2 340.8L408.0 340.8L408.2 340.8L410.2 340.8L411.0 340.8L412.2 340.8L414.2 340.8L416.2 340.8L417.5 340.8L418.2 340.8L420.2 340.8L420.5 340.8L422.2 340.8L423.5 340.8L424.2 340.8L426.2 340.8L427.2 340.8L428.2 340.8L429.5 340.8L430.2 340.8L432.2 340.8L434.2 340.8L436.2 340.8L437.0 340.8L438.2 340.8L440.0 340.8L440.2 340.8L442.2 340.8L443.7 340.8L444.2 340.8L446.2 340.8L446.7 340.8L448.2 340.8L449.0 340.8L450.2 340.8L452.2 340.8L454.2 340.8L455.0 340.8L456.2 340.8L457.2 340.8L458.2 340.8L460.2 340.8L462.2 340.8L464.2 340.8L465.5 340.8L466.2 340.8L468.2 340.8L469.2 340.8L470.2 340.8L472.2 340.8L474.2 340.8L474.5 340.8L476.2 340.8L478.2 340.8L480.2 340.8L482.2 340.8L483.0 340.8L484.2 340.8L486.2 340.8L488.0 340.8L488.2 340.8L490.2 340.8L491.7 340.8L492.2 340.8L494.2 340.8L495.5 340.8L496.2 340.8L498.2 340.8L500.0 340.8L500.2 340.8L502.2 340.8L504.2 340.8L505.7 340.8L506.2 340.8L508.2 340.8L509.0 340.8L510.2 340.8L512.2 340.8L513.5 340.8L514.2 340.8L516.2 340.8L516.5 340.8L518.2 340.8L520.2 340.8L522.2 340.8L524.0 340.8L524.2 340.8L526.2 340.8L528.2 340.8L528.5 340.8L530.2 340.8L532.2 340.8L534.2 340.8L534.5 340.8L536.2 340.8L537.5 340.8L538.2 340.8L540.2 340.8L542.2 340.8L542.7 340.8L544.2 340.8L546.2 340.8L547.2 340.8L548.2 340.8L550.2 340.8L552.2 340.8L554.2 340.8L554.5 340.8L556.2 340.8L556.7 340.8L558.2 340.8L560.2 340.8L560.5 340.8L562.2 340.8L564.2 340.8L565.7 340.8L566.2 340.8L568.2 340.8L568.7 340.8L570.2 340.8L571.0 340.8L572.2 340.8L574.2 340.8L576.2 340.8L578.2 340.8L580.2 340.8L580.7 340.8L582.2 340.8L584.2 340.8L585.7 340.8L586.2 340.8L588.2 340.8L589.0 340.8L590.2 340.8L591.2 340.8L592.2 340.8L594.2 340.8L596.2 340.8L596.5 340.8L598.2 340.8L599.5 340.8L600.2 340.8L602.2 340.8L602.5 340.8L604.2 340.8L606.2 340.8L608.2 340.8L608.5 340.8L610.2 340.8L611.5 340.8L612.2 340.8L614.2 340.8L615.2 340.8L616.2 340.8L616.7 340.8L618.2 340.8L619.0 340.8L620.2 340.8L622.0 340.8L622.2 340.8L624.2 340.8L625.0 340.8L626.2 340.8L628.2 340.8L629.5 340.8L630.2 340.8L632.2 340.8L634.2 340.8L634.7 340.8L636.2 340.8L637.7 340.8L638.2 340.8L640.2 340.8L641.5 340.8L642.2 340.8L643.7 340.8L644.2 340.8L646.2 340.8L647.5 340.8L648.2 340.8L650.2 340.8L652.2 340.8L654.2 340.8L656.2 340.8L658.0 340.8L658.2 340.8L660.2 340.8L661.0 340.8L662.2 340.8L664.2 340.8L664.7 340.8L666.2 340.8L668.2 340.8L668.5 340.8L670.2 340.8L670.7 340.8L672.2 340.8L674.2 340.8L676.2 340.8L677.5 340.8L678.2 340.8L680.2 340.8L681.2 340.8L682.2 340.8L684.2 340.8L685.7 340.8L686.2 340.8L687.7 340.8L688.2 340.8L689.5 340.8L690.2 340.8L692.2 340.8L693.7 340.8L694.2 340.8L696.2 340.8L696.7 340.8L698.2 340.8L699.7 340.8L700.2 340.8L702.0 340.8L702.2 340.8L704.2 340.8L705.0 340.8L706.2 340.8L708.2 340.8L710.2 340.8L711.0 340.8L712.2 340.8L712.5 340.8L714.2 340.8L716.2 340.8L716.7 340.8L718.2 340.8L719.2 340.8L720.2 340.8L722.2 340.8L722.5 340.8L724.2 340.8L726.2 340.8L726.7 340.8L728.2 340.8L730.2 340.8L730.8 340.8L732.2 340.8L734.2 340.8L736.2 340.8L737.2 340.8L738.2 340.8L740.2 340.8L741.7 340.8L742.2 340.8L744.2 340.8L745.5 340.8L746.2 340.8L748.2 340.8L748.5 340.8L750.2 340.8L752.2 340.8L753.0 340.8L754.2 340.8L755.2 340.8L756.2 340.8L758.2 340.8L759.0 340.8L760.2 340.8L762.2 340.8L762.7 340.8L764.2 340.8L766.2 340.8L766.5 340.8L768.2 340.8L769.5 340.8L770.2 340.8L772.2 340.8L772.5 340.8L774.2 340.8L774.7 340.8L776.2 340.8L777.0 340.8L778.2 340.8L780.0 340.8L780.2 340.8L782.2 340.8L784.2 340.8L785.0 340.8L786.2 340.8L788.2 340.8L788.6 340.8L790.2 340.8L790.4 340.8L792.2 340.8L794.0 340.8L794.2 340.8L795.8 340.8L796.2 340.8L797.6 340.8L798.2 340.8L799.4 340.8L800.2 340.8L802.2 340.8L802.4 340.8L804.2 340.8L806.2 340.8L807.2 340.8L808.2 340.8L810.2 340.8L810.8 340.8L812.2 340.8L814.2 340.8L814.4 340.8L816.2 340.8L818.0 340.8L818.2 340.8L820.2 340.8L820.4 340.8L822.2 340.8L823.4 340.8L824.2 340.8L826.2 340.8L828.2 340.8L830.0 340.8L830.2 340.8L832.2 340.8L834.2 340.8L834.8 340.8L836.2 340.8L838.2 340.8L839.6 340.8L840.2 340.8L842.2 340.8L843.2 340.8L844.2 340.8L846.2 340.8L848.0 340.8L848.2 340.8L850.2 340.8L852.2 340.8L854.0 340.8L854.2 340.8L856.2 340.8L858.2 340.8L860.0 340.8L860.2 340.8L862.2 340.8L864.2 340.8L865.3 340.8L865.3 341.00Z" fill="#e45549"/><path d="M160.2 341.00L160.2 341.0L162.2 341.0L163.6 341.0L164.2 341.0L166.2 341.0L168.2 341.0L168.4 341.0L170.2 341.0L172.2 341.0L174.2 341.0L175.0 341.0L176.2 341.0L178.2 341.0L178.5 341.0L180.2 341.0L182.2 341.0L184.2 341.0L184.4 341.0L186.2 341.0L188.2 341.0L189.3 341.0L190.2 341.0L192.0 341.0L192.2 341.0L194.2 341.0L196.2 341.0L198.2 341.0L200.2 341.0L200.9 341.0L202.2 341.0L204.2 341.0L205.2 341.0L206.2 341.0L206.5 341.0L208.2 341.0L210.2 341.0L212.2 341.0L214.2 341.0L216.2 341.0L218.2 341.0L220.2 341.0L220.5 341.0L222.2 341.0L224.2 341.0L226.2 341.0L226.5 341.0L228.2 341.0L230.2 341.0L231.9 341.0L232.2 341.0L234.2 341.0L236.2 341.0L237.2 341.0L238.2 341.0L240.2 341.0L240.4 341.0L242.2 341.0L242.8 341.0L244.2 341.0L246.2 341.0L248.2 341.0L248.4 341.0L250.0 341.0L250.2 341.0L252.2 341.0L254.2 341.0L255.6 341.0L256.2 341.0L258.2 341.0L260.2 341.0L260.4 341.0L262.2 341.0L263.3 341.0L264.2 341.0L266.2 341.0L268.2 341.0L269.2 341.0L270.2 341.0L272.2 341.0L272.4 341.0L274.0 341.0L274.2 341.0L276.2 341.0L276.4 341.0L278.2 341.0L280.2 341.0L282.2 341.0L284.2 341.0L286.2 341.0L287.3 341.0L288.2 341.0L288.7 341.0L290.2 341.0L292.2 341.0L294.2 341.0L294.7 341.0L296.2 341.0L297.7 341.0L298.2 341.0L300.0 341.0L300.2 341.0L302.2 341.0L304.2 341.0L306.0 341.0L306.2 341.0L308.2 341.0L310.2 341.0L311.2 341.0L312.2 341.0L314.2 341.0L316.2 341.0L317.7 341.0L318.2 341.0L320.2 341.0L321.7 341.0L322.2 341.0L324.2 341.0L325.5 341.0L326.2 341.0L328.2 341.0L329.2 341.0L330.2 341.0L332.2 341.0L334.2 341.0L334.5 341.0L336.2 341.0L337.5 341.0L338.2 341.0L340.2 341.0L342.0 341.0L342.2 341.0L343.0 341.0L344.2 341.0L345.0 341.0L346.2 341.0L348.2 341.0L348.7 341.0L350.2 341.0L352.2 341.0L352.5 341.0L354.2 341.0L354.7 341.0L356.2 341.0L357.0 341.0L358.2 341.0L360.0 341.0L360.2 341.0L361.5 341.0L362.2 341.0L363.7 341.0L364.2 341.0L366.2 341.0L368.2 341.0L370.2 341.0L372.2 341.0L374.2 341.0L375.0 341.0L376.2 341.0L378.0 341.0L378.2 341.0L380.2 341.0L381.0 341.0L382.2 341.0L383.2 341.0L384.2 341.0L386.2 341.0L388.2 341.0L389.0 341.0L390.2 341.0L392.2 341.0L394.2 341.0L394.5 341.0L396.2 341.0L398.2 341.0L400.2 341.0L400.5 341.0L402.2 341.0L403.5 341.0L404.2 341.0L405.7 341.0L406.2 341.0L408.0 341.0L408.2 341.0L410.2 341.0L411.0 341.0L412.2 341.0L414.2 341.0L416.2 341.0L417.5 341.0L418.2 341.0L420.2 341.0L420.5 341.0L422.2 341.0L423.5 341.0L424.2 341.0L426.2 341.0L427.2 341.0L428.2 341.0L429.5 341.0L430.2 341.0L432.2 341.0L434.2 341.0L436.2 341.0L437.0 341.0L438.2 341.0L440.0 341.0L440.2 341.0L442.2 341.0L443.7 341.0L444.2 341.0L446.2 341.0L446.7 341.0L448.2 341.0L449.0 341.0L450.2 341.0L452.2 341.0L454.2 341.0L455.0 341.0L456.2 341.0L457.2 341.0L458.2 341.0L460.2 341.0L462.2 341.0L464.2 341.0L465.5 341.0L466.2 341.0L468.2 341.0L469.2 341.0L470.2 341.0L472.2 341.0L474.2 341.0L474.5 341.0L476.2 341.0L478.2 341.0L480.2 341.0L482.2 341.0L483.0 341.0L484.2 341.0L486.2 341.0L488.0 341.0L488.2 341.0L490.2 341.0L491.7 341.0L492.2 341.0L494.2 341.0L495.5 341.0L496.2 341.0L498.2 341.0L500.0 341.0L500.2 341.0L502.2 341.0L504.2 341.0L505.7 341.0L506.2 341.0L508.2 341.0L509.0 341.0L510.2 341.0L512.2 341.0L513.5 341.0L514.2 341.0L516.2 341.0L516.5 341.0L518.2 341.0L520.2 341.0L522.2 341.0L524.0 341.0L524.2 341.0L526.2 341.0L528.2 341.0L528.5 341.0L530.2 341.0L532.2 341.0L534.2 341.0L534.5 341.0L536.2 341.0L537.5 341.0L538.2 341.0L540.2 341.0L542.2 341.0L542.7 341.0L544.2 341.0L546.2 341.0L547.2 341.0L548.2 341.0L550.2 341.0L552.2 341.0L554.2 341.0L554.5 341.0L556.2 341.0L556.7 341.0L558.2 341.0L560.2 341.0L560.5 341.0L562.2 341.0L564.2 341.0L565.7 341.0L566.2 341.0L568.2 341.0L568.7 341.0L570.2 341.0L571.0 341.0L572.2 341.0L574.2 341.0L576.2 341.0L578.2 341.0L580.2 341.0L580.7 341.0L582.2 341.0L584.2 341.0L585.7 341.0L586.2 341.0L588.2 341.0L589.0 341.0L590.2 341.0L591.2 341.0L592.2 341.0L594.2 341.0L596.2 341.0L596.5 341.0L598.2 341.0L599.5 341.0L600.2 341.0L602.2 341.0L602.5 341.0L604.2 341.0L606.2 341.0L608.2 341.0L608.5 341.0L610.2 341.0L611.5 341.0L612.2 341.0L614.2 341.0L615.2 341.0L616.2 341.0L616.7 341.0L618.2 341.0L619.0 341.0L620.2 341.0L622.0 341.0L622.2 341.0L624.2 341.0L625.0 341.0L626.2 341.0L628.2 341.0L629.5 341.0L630.2 341.0L632.2 341.0L634.2 341.0L634.7 341.0L636.2 341.0L637.7 341.0L638.2 341.0L640.2 341.0L641.5 341.0L642.2 341.0L643.7 341.0L644.2 341.0L646.2 341.0L647.5 341.0L648.2 341.0L650.2 341.0L652.2 341.0L654.2 341.0L656.2 341.0L658.0 341.0L658.2 341.0L660.2 341.0L661.0 341.0L662.2 341.0L664.2 341.0L664.7 341.0L666.2 341.0L668.2 341.0L668.5 341.0L670.2 341.0L670.7 341.0L672.2 341.0L674.2 341.0L676.2 341.0L677.5 341.0L678.2 341.0L680.2 341.0L681.2 341.0L682.2 341.0L684.2 341.0L685.7 341.0L686.2 341.0L687.7 341.0L688.2 341.0L689.5 341.0L690.2 341.0L692.2 341.0L693.7 341.0L694.2 341.0L696.2 341.0L696.7 341.0L698.2 341.0L699.7 341.0L700.2 341.0L702.0 341.0L702.2 341.0L704.2 341.0L705.0 341.0L706.2 341.0L708.2 341.0L710.2 341.0L711.0 341.0L712.2 341.0L712.5 341.0L714.2 341.0L716.2 341.0L716.7 341.0L718.2 341.0L719.2 341.0L720.2 341.0L722.2 341.0L722.5 341.0L724.2 341.0L726.2 341.0L726.7 341.0L728.2 341.0L730.2 341.0L730.8 341.0L732.2 341.0L734.2 341.0L736.2 341.0L737.2 341.0L738.2 341.0L740.2 341.0L741.7 341.0L742.2 341.0L744.2 341.0L745.5 341.0L746.2 341.0L748.2 341.0L748.5 341.0L750.2 341.0L752.2 341.0L753.0 341.0L754.2 341.0L755.2 341.0L756.2 341.0L758.2 341.0L759.0 341.0L760.2 341.0L762.2 341.0L762.7 341.0L764.2 341.0L766.2 341.0L766.5 341.0L768.2 341.0L769.5 341.0L770.2 341.0L772.2 341.0L772.5 341.0L774.2 341.0L774.7 341.0L776.2 341.0L777.0 341.0L778.2 341.0L780.0 341.0L780.2 341.0L782.2 341.0L784.2 341.0L785.0 341.0L786.2 341.0L788.2 341.0L788.6 341.0L790.2 341.0L790.4 341.0L792.2 341.0L794.0 341.0L794.2 341.0L795.8 341.0L796.2 341.0L797.6 341.0L798.2 341.0L799.4 341.0L800.2 341.0L802.2 341.0L802.4 341.0L804.2 341.0L806.2 341.0L807.2 341.0L808.2 341.0L810.2 341.0L810.8 341.0L812.2 341.0L814.2 341.0L814.4 341.0L816.2 341.0L818.0 341.0L818.2 341.0L820.2 341.0L820.4 341.0L822.2 341.0L823.4 341.0L824.2 341.0L826.2 341.0L828.2 341.0L830.0 341.0L830.2 341.0L832.2 341.0L834.2 341.0L834.8 341.0L836.2 341.0L838.2 341.0L839.6 341.0L840.2 341.0L842.2 341.0L843.2 341.0L844.2 341.0L846.2 341.0L848.0 341.0L848.2 341.0L850.2 341.0L852.2 341.0L854.0 341.0L854.2 341.0L856.2 341.0L858.2 341.0L860.0 341.0L860.2 341.0L862.2 341.0L864.2 341.0L865.3 341.0L865.3 341.00Z" fill="#d9444d"/><path d="M160.2 341.00L160.2 341.0L162.2 341.0L163.6 341.0L164.2 341.0L166.2 341.0L168.2 341.0L168.4 341.0L170.2 341.0L172.2 341.0L174.2 341.0L175.0 341.0L176.2 341.0L178.2 341.0L178.5 341.0L180.2 341.0L182.2 341.0L184.2 341.0L184.4 341.0L186.2 341.0L188.2 341.0L189.3 341.0L190.2 341.0L192.0 341.0L192.2 341.0L194.2 341.0L196.2 341.0L198.2 341.0L200.2 341.0L200.9 341.0L202.2 341.0L204.2 341.0L205.2 341.0L206.2 341.0L206.5 341.0L208.2 341.0L210.2 341.0L212.2 341.0L214.2 341.0L216.2 341.0L218.2 341.0L220.2 341.0L220.5 341.0L222.2 341.0L224.2 341.0L226.2 341.0L226.5 341.0L228.2 341.0L230.2 341.0L231.9 341.0L232.2 341.0L234.2 341.0L236.2 341.0L237.2 341.0L238.2 341.0L240.2 341.0L240.4 341.0L242.2 341.0L242.8 341.0L244.2 341.0L246.2 341.0L248.2 341.0L248.4 341.0L250.0 341.0L250.2 341.0L252.2 341.0L254.2 341.0L255.6 341.0L256.2 341.0L258.2 341.0L260.2 341.0L260.4 341.0L262.2 341.0L263.3 341.0L264.2 341.0L266.2 341.0L268.2 341.0L269.2 341.0L270.2 341.0L272.2 341.0L272.4 341.0L274.0 341.0L274.2 341.0L276.2 341.0L276.4 341.0L278.2 341.0L280.2 341.0L282.2 341.0L284.2 341.0L286.2 341.0L287.3 341.0L288.2 341.0L288.7 341.0L290.2 341.0L292.2 341.0L294.2 341.0L294.7 341.0L296.2 341.0L297.7 341.0L298.2 341.0L300.0 341.0L300.2 341.0L302.2 341.0L304.2 341.0L306.0 341.0L306.2 341.0L308.2 341.0L310.2 341.0L311.2 341.0L312.2 341.0L314.2 341.0L316.2 341.0L317.7 341.0L318.2 341.0L320.2 341.0L321.7 341.0L322.2 341.0L324.2 341.0L325.5 341.0L326.2 341.0L328.2 341.0L329.2 341.0L330.2 341.0L332.2 341.0L334.2 341.0L334.5 341.0L336.2 341.0L337.5 341.0L338.2 341.0L340.2 341.0L342.0 341.0L342.2 341.0L343.0 341.0L344.2 341.0L345.0 341.0L346.2 341.0L348.2 341.0L348.7 341.0L350.2 341.0L352.2 341.0L352.5 341.0L354.2 341.0L354.7 341.0L356.2 341.0L357.0 341.0L358.2 341.0L360.0 341.0L360.2 341.0L361.5 341.0L362.2 341.0L363.7 341.0L364.2 341.0L366.2 341.0L368.2 341.0L370.2 341.0L372.2 341.0L374.2 341.0L375.0 341.0L376.2 341.0L378.0 341.0L378.2 341.0L380.2 341.0L381.0 341.0L382.2 341.0L383.2 341.0L384.2 341.0L386.2 341.0L388.2 341.0L389.0 341.0L390.2 341.0L392.2 341.0L394.2 341.0L394.5 341.0L396.2 341.0L398.2 341.0L400.2 341.0L400.5 341.0L402.2 341.0L403.5 341.0L404.2 341.0L405.7 341.0L406.2 341.0L408.0 341.0L408.2 341.0L410.2 341.0L411.0 341.0L412.2 341.0L414.2 341.0L416.2 341.0L417.5 341.0L418.2 341.0L420.2 341.0L420.5 341.0L422.2 341.0L423.5 341.0L424.2 341.0L426.2 341.0L427.2 341.0L428.2 341.0L429.5 341.0L430.2 341.0L432.2 341.0L434.2 341.0L436.2 341.0L437.0 341.0L438.2 341.0L440.0 341.0L440.2 341.0L442.2 341.0L443.7 341.0L444.2 341.0L446.2 341.0L446.7 341.0L448.2 341.0L449.0 341.0L450.2 341.0L452.2 341.0L454.2 341.0L455.0 341.0L456.2 341.0L457.2 341.0L458.2 341.0L460.2 341.0L462.2 341.0L464.2 341.0L465.5 341.0L466.2 341.0L468.2 341.0L469.2 341.0L470.2 341.0L472.2 341.0L474.2 341.0L474.5 341.0L476.2 341.0L478.2 341.0L480.2 341.0L482.2 341.0L483.0 341.0L484.2 341.0L486.2 341.0L488.0 341.0L488.2 341.0L490.2 341.0L491.7 341.0L492.2 341.0L494.2 341.0L495.5 341.0L496.2 341.0L498.2 341.0L500.0 341.0L500.2 341.0L502.2 341.0L504.2 341.0L505.7 341.0L506.2 341.0L508.2 341.0L509.0 341.0L510.2 341.0L512.2 341.0L513.5 341.0L514.2 341.0L516.2 341.0L516.5 341.0L518.2 341.0L520.2 341.0L522.2 341.0L524.0 341.0L524.2 341.0L526.2 341.0L528.2 341.0L528.5 341.0L530.2 341.0L532.2 341.0L534.2 341.0L534.5 341.0L536.2 341.0L537.5 341.0L538.2 341.0L540.2 341.0L542.2 341.0L542.7 341.0L544.2 341.0L546.2 341.0L547.2 341.0L548.2 341.0L550.2 341.0L552.2 341.0L554.2 341.0L554.5 341.0L556.2 341.0L556.7 341.0L558.2 341.0L560.2 341.0L560.5 341.0L562.2 341.0L564.2 341.0L565.7 341.0L566.2 341.0L568.2 341.0L568.7 341.0L570.2 341.0L571.0 341.0L572.2 341.0L574.2 341.0L576.2 341.0L578.2 341.0L580.2 341.0L580.7 341.0L582.2 341.0L584.2 341.0L585.7 341.0L586.2 341.0L588.2 341.0L589.0 341.0L590.2 341.0L591.2 341.0L592.2 341.0L594.2 341.0L596.2 341.0L596.5 341.0L598.2 341.0L599.5 341.0L600.2 341.0L602.2 341.0L602.5 341.0L604.2 341.0L606.2 341.0L608.2 341.0L608.5 341.0L610.2 341.0L611.5 341.0L612.2 341.0L614.2 341.0L615.2 341.0L616.2 341.0L616.7 341.0L618.2 341.0L619.0 341.0L620.2 341.0L622.0 341.0L622.2 341.0L624.2 341.0L625.0 341.0L626.2 341.0L628.2 341.0L629.5 341.0L630.2 341.0L632.2 341.0L634.2 341.0L634.7 341.0L636.2 341.0L637.7 341.0L638.2 341.0L640.2 341.0L641.5 341.0L642.2 341.0L643.7 341.0L644.2 341.0L646.2 341.0L647.5 341.0L648.2 341.0L650.2 341.0L652.2 341.0L654.2 341.0L656.2 341.0L658.0 341.0L658.2 341.0L660.2 341.0L661.0 341.0L662.2 341.0L664.2 341.0L664.7 341.0L666.2 341.0L668.2 341.0L668.5 341.0L670.2 341.0L670.7 341.0L672.2 341.0L674.2 341.0L676.2 341.0L677.5 341.0L678.2 341.0L680.2 341.0L681.2 341.0L682.2 341.0L684.2 341.0L685.7 341.0L686.2 341.0L687.7 341.0L688.2 341.0L689.5 341.0L690.2 341.0L692.2 341.0L693.7 341.0L694.2 341.0L696.2 341.0L696.7 341.0L698.2 341.0L699.7 341.0L700.2 341.0L702.0 341.0L702.2 341.0L704.2 341.0L705.0 341.0L706.2 341.0L708.2 341.0L710.2 341.0L711.0 341.0L712.2 341.0L712.5 341.0L714.2 341.0L716.2 341.0L716.7 341.0L718.2 341.0L719.2 341.0L720.2 341.0L722.2 341.0L722.5 341.0L724.2 341.0L726.2 341.0L726.7 341.0L728.2 341.0L730.2 341.0L730.8 341.0L732.2 341.0L734.2 341.0L736.2 341.0L737.2 341.0L738.2 341.0L740.2 341.0L741.7 341.0L742.2 341.0L744.2 341.0L745.5 341.0L746.2 341.0L748.2 341.0L748.5 341.0L750.2 341.0L752.2 341.0L753.0 341.0L754.2 341.0L755.2 341.0L756.2 341.0L758.2 341.0L759.0 341.0L760.2 341.0L762.2 341.0L762.7 341.0L764.2 341.0L766.2 341.0L766.5 341.0L768.2 341.0L769.5 341.0L770.2 341.0L772.2 341.0L772.5 341.0L774.2 341.0L774.7 341.0L776.2 341.0L777.0 341.0L778.2 341.0L780.0 341.0L780.2 341.0L782.2 341.0L784.2 341.0L785.0 341.0L786.2 341.0L788.2 341.0L788.6 341.0L790.2 341.0L790.4 341.0L792.2 341.0L794.0 341.0L794.2 341.0L795.8 341.0L796.2 341.0L797.6 341.0L798.2 341.0L799.4 341.0L800.2 341.0L802.2 341.0L802.4 341.0L804.2 341.0L806.2 341.0L807.2 341.0L808.2 341.0L810.2 341.0L810.8 341.0L812.2 341.0L814.2 341.0L814.4 341.0L816.2 341.0L818.0 341.0L818.2 341.0L820.2 341.0L820.4 341.0L822.2 341.0L823.4 341.0L824.2 341.0L826.2 341.0L828.2 341.0L830.0 341.0L830.2 341.0L832.2 341.0L834.2 341.0L834.8 341.0L836.2 341.0L838.2 341.0L839.6 341.0L840.2 341.0L842.2 341.0L843.2 341.0L844.2 341.0L846.2 341.0L848.0 341.0L848.2 341.0L850.2 341.0L852.2 341.0L854.0 341.0L854.2 341.0L856.2 341.0L858.2 341.0L860.0 341.0L860.2 341.0L862.2 341.0L864.2 341.0L865.3 341.0L865.3 341.00Z" fill="#cb334d"/><path d="M160.2 341.00L160.2 341.0L162.2 341.0L163.6 341.0L164.2 341.0L166.2 341.0L168.2 341.0L168.4 341.0L170.2 341.0L172.2 341.0L174.2 341.0L175.0 341.0L176.2 341.0L178.2 341.0L178.5 341.0L180.2 341.0L182.2 341.0L184.2 341.0L184.4 341.0L186.2 341.0L188.2 341.0L189.3 341.0L190.2 341.0L192.0 341.0L192.2 341.0L194.2 341.0L196.2 341.0L198.2 341.0L200.2 341.0L200.9 341.0L202.2 341.0L204.2 341.0L205.2 341.0L206.2 341.0L206.5 341.0L208.2 341.0L210.2 341.0L212.2 341.0L214.2 341.0L216.2 341.0L218.2 341.0L220.2 341.0L220.5 341.0L222.2 341.0L224.2 341.0L226.2 341.0L226.5 341.0L228.2 341.0L230.2 341.0L231.9 341.0L232.2 341.0L234.2 341.0L236.2 341.0L237.2 341.0L238.2 341.0L240.2 341.0L240.4 341.0L242.2 341.0L242.8 341.0L244.2 341.0L246.2 341.0L248.2 341.0L248.4 341.0L250.0 341.0L250.2 341.0L252.2 341.0L254.2 341.0L255.6 341.0L256.2 341.0L258.2 341.0L260.2 341.0L260.4 341.0L262.2 341.0L263.3 341.0L264.2 341.0L266.2 341.0L268.2 341.0L269.2 341.0L270.2 341.0L272.2 341.0L272.4 341.0L274.0 341.0L274.2 341.0L276.2 341.0L276.4 341.0L278.2 341.0L280.2 341.0L282.2 341.0L284.2 341.0L286.2 341.0L287.3 341.0L288.2 341.0L288.7 341.0L290.2 341.0L292.2 341.0L294.2 341.0L294.7 341.0L296.2 341.0L297.7 341.0L298.2 341.0L300.0 341.0L300.2 341.0L302.2 341.0L304.2 341.0L306.0 341.0L306.2 341.0L308.2 341.0L310.2 341.0L311.2 341.0L312.2 341.0L314.2 341.0L316.2 341.0L317.7 341.0L318.2 341.0L320.2 341.0L321.7 341.0L322.2 341.0L324.2 341.0L325.5 341.0L326.2 341.0L328.2 341.0L329.2 341.0L330.2 341.0L332.2 341.0L334.2 341.0L334.5 341.0L336.2 341.0L337.5 341.0L338.2 341.0L340.2 341.0L342.0 341.0L342.2 341.0L343.0 341.0L344.2 341.0L345.0 341.0L346.2 341.0L348.2 341.0L348.7 341.0L350.2 341.0L352.2 341.0L352.5 341.0L354.2 341.0L354.7 341.0L356.2 341.0L357.0 341.0L358.2 341.0L360.0 341.0L360.2 341.0L361.5 341.0L362.2 341.0L363.7 341.0L364.2 341.0L366.2 341.0L368.2 341.0L370.2 341.0L372.2 341.0L374.2 341.0L375.0 341.0L376.2 341.0L378.0 341.0L378.2 341.0L380.2 341.0L381.0 341.0L382.2 341.0L383.2 341.0L384.2 341.0L386.2 341.0L388.2 341.0L389.0 341.0L390.2 341.0L392.2 341.0L394.2 341.0L394.5 341.0L396.2 341.0L398.2 341.0L400.2 341.0L400.5 341.0L402.2 341.0L403.5 341.0L404.2 341.0L405.7 341.0L406.2 341.0L408.0 341.0L408.2 341.0L410.2 341.0L411.0 341.0L412.2 341.0L414.2 341.0L416.2 341.0L417.5 341.0L418.2 341.0L420.2 341.0L420.5 341.0L422.2 341.0L423.5 341.0L424.2 341.0L426.2 341.0L427.2 341.0L428.2 341.0L429.5 341.0L430.2 341.0L432.2 341.0L434.2 341.0L436.2 341.0L437.0 341.0L438.2 341.0L440.0 341.0L440.2 341.0L442.2 341.0L443.7 341.0L444.2 341.0L446.2 341.0L446.7 341.0L448.2 341.0L449.0 341.0L450.2 341.0L452.2 341.0L454.2 341.0L455.0 341.0L456.2 341.0L457.2 341.0L458.2 341.0L460.2 341.0L462.2 341.0L464.2 341.0L465.5 341.0L466.2 341.0L468.2 341.0L469.2 341.0L470.2 341.0L472.2 341.0L474.2 341.0L474.5 341.0L476.2 341.0L478.2 341.0L480.2 341.0L482.2 341.0L483.0 341.0L484.2 341.0L486.2 341.0L488.0 341.0L488.2 341.0L490.2 341.0L491.7 341.0L492.2 341.0L494.2 341.0L495.5 341.0L496.2 341.0L498.2 341.0L500.0 341.0L500.2 341.0L502.2 341.0L504.2 341.0L505.7 341.0L506.2 341.0L508.2 341.0L509.0 341.0L510.2 341.0L512.2 341.0L513.5 341.0L514.2 341.0L516.2 341.0L516.5 341.0L518.2 341.0L520.2 341.0L522.2 341.0L524.0 341.0L524.2 341.0L526.2 341.0L528.2 341.0L528.5 341.0L530.2 341.0L532.2 341.0L534.2 341.0L534.5 341.0L536.2 341.0L537.5 341.0L538.2 341.0L540.2 341.0L542.2 341.0L542.7 341.0L544.2 341.0L546.2 341.0L547.2 341.0L548.2 341.0L550.2 341.0L552.2 341.0L554.2 341.0L554.5 341.0L556.2 341.0L556.7 341.0L558.2 341.0L560.2 341.0L560.5 341.0L562.2 341.0L564.2 341.0L565.7 341.0L566.2 341.0L568.2 341.0L568.7 341.0L570.2 341.0L571.0 341.0L572.2 341.0L574.2 341.0L576.2 341.0L578.2 341.0L580.2 341.0L580.7 341.0L582.2 341.0L584.2 341.0L585.7 341.0L586.2 341.0L588.2 341.0L589.0 341.0L590.2 341.0L591.2 341.0L592.2 341.0L594.2 341.0L596.2 341.0L596.5 341.0L598.2 341.0L599.5 341.0L600.2 341.0L602.2 341.0L602.5 341.0L604.2 341.0L606.2 341.0L608.2 341.0L608.5 341.0L610.2 341.0L611.5 341.0L612.2 341.0L614.2 341.0L615.2 341.0L616.2 341.0L616.7 341.0L618.2 341.0L619.0 341.0L620.2 341.0L622.0 341.0L622.2 341.0L624.2 341.0L625.0 341.0L626.2 341.0L628.2 341.0L629.5 341.0L630.2 341.0L632.2 341.0L634.2 341.0L634.7 341.0L636.2 341.0L637.7 341.0L638.2 341.0L640.2 341.0L641.5 341.0L642.2 341.0L643.7 341.0L644.2 341.0L646.2 341.0L647.5 341.0L648.2 341.0L650.2 341.0L652.2 341.0L654.2 341.0L656.2 341.0L658.0 341.0L658.2 341.0L660.2 341.0L661.0 341.0L662.2 341.0L664.2 341.0L664.7 341.0L666.2 341.0L668.2 341.0L668.5 341.0L670.2 341.0L670.7 341.0L672.2 341.0L674.2 341.0L676.2 341.0L677.5 341.0L678.2 341.0L680.2 341.0L681.2 341.0L682.2 341.0L684.2 341.0L685.7 341.0L686.2 341.0L687.7 341.0L688.2 341.0L689.5 341.0L690.2 341.0L692.2 341.0L693.7 341.0L694.2 341.0L696.2 341.0L696.7 341.0L698.2 341.0L699.7 341.0L700.2 341.0L702.0 341.0L702.2 341.0L704.2 341.0L705.0 341.0L706.2 341.0L708.2 341.0L710.2 341.0L711.0 341.0L712.2 341.0L712.5 341.0L714.2 341.0L716.2 341.0L716.7 341.0L718.2 341.0L719.2 341.0L720.2 341.0L722.2 341.0L722.5 341.0L724.2 341.0L726.2 341.0L726.7 341.0L728.2 341.0L730.2 341.0L730.8 341.0L732.2 341.0L734.2 341.0L736.2 341.0L737.2 341.0L738.2 341.0L740.2 341.0L741.7 341.0L742.2 341.0L744.2 341.0L745.5 341.0L746.2 341.0L748.2 341.0L748.5 341.0L750.2 341.0L752.2 341.0L753.0 341.0L754.2 341.0L755.2 341.0L756.2 341.0L758.2 341.0L759.0 341.0L760.2 341.0L762.2 341.0L762.7 341.0L764.2 341.0L766.2 341.0L766.5 341.0L768.2 341.0L769.5 341.0L770.2 341.0L772.2 341.0L772.5 341.0L774.2 341.0L774.7 341.0L776.2 341.0L777.0 341.0L778.2 341.0L780.0 341.0L780.2 341.0L782.2 341.0L784.2 341.0L785.0 341.0L786.2 341.0L788.2 341.0L788.6 341.0L790.2 341.0L790.4 341.0L792.2 341.0L794.0 341.0L794.2 341.0L795.8 341.0L796.2 341.0L797.6 341.0L798.2 341.0L799.4 341.0L800.2 341.0L802.2 341.0L802.4 341.0L804.2 341.0L806.2 341.0L807.2 341.0L808.2 341.0L810.2 341.0L810.8 341.0L812.2 341.0L814.2 341.0L814.4 341.0L816.2 341.0L818.0 341.0L818.2 341.0L820.2 341.0L820.4 341.0L822.2 341.0L823.4 341.0L824.2 341.0L826.2 341.0L828.2 341.0L830.0 341.0L830.2 341.0L832.2 341.0L834.2 341.0L834.8 341.0L836.2 341.0L838.2 341.0L839.6 341.0L840.2 341.0L842.2 341.0L843.2 341.0L844.2 341.0L846.2 341.0L848.0 341.0L848.2 341.0L850.2 341.0L852.2 341.0L854.0 341.0L854.2 341.0L856.2 341.0L858.2 341.0L860.0 341.0L860.2 341.0L862.2 341.0L864.2 341.0L865.3 341.0L865.3 341.00Z" fill="#b81e48"/><path d="M160.2 341.00L160.2 341.0L162.2 341.0L163.6 341.0L164.2 341.0L166.2 341.0L168.2 341.0L168.4 341.0L170.2 341.0L172.2 341.0L174.2 341.0L175.0 341.0L176.2 341.0L178.2 341.0L178.5 341.0L180.2 341.0L182.2 341.0L184.2 341.0L184.4 341.0L186.2 341.0L188.2 341.0L189.3 341.0L190.2 341.0L192.0 341.0L192.2 341.0L194.2 341.0L196.2 341.0L198.2 341.0L200.2 341.0L200.9 341.0L202.2 341.0L204.2 341.0L205.2 341.0L206.2 341.0L206.5 341.0L208.2 341.0L210.2 341.0L212.2 341.0L214.2 341.0L216.2 341.0L218.2 341.0L220.2 341.0L220.5 341.0L222.2 341.0L224.2 341.0L226.2 341.0L226.5 341.0L228.2 341.0L230.2 341.0L231.9 341.0L232.2 341.0L234.2 341.0L236.2 341.0L237.2 341.0L238.2 341.0L240.2 341.0L240.4 341.0L242.2 341.0L242.8 341.0L244.2 341.0L246.2 341.0L248.2 341.0L248.4 341.0L250.0 341.0L250.2 341.0L252.2 341.0L254.2 341.0L255.6 341.0L256.2 341.0L258.2 341.0L260.2 341.0L260.4 341.0L262.2 341.0L263.3 341.0L264.2 341.0L266.2 341.0L268.2 341.0L269.2 341.0L270.2 341.0L272.2 341.0L272.4 341.0L274.0 341.0L274.2 341.0L276.2 341.0L276.4 341.0L278.2 341.0L280.2 341.0L282.2 341.0L284.2 341.0L286.2 341.0L287.3 341.0L288.2 341.0L288.7 341.0L290.2 341.0L292.2 341.0L294.2 341.0L294.7 341.0L296.2 341.0L297.7 341.0L298.2 341.0L300.0 341.0L300.2 341.0L302.2 341.0L304.2 341.0L306.0 341.0L306.2 341.0L308.2 341.0L310.2 341.0L311.2 341.0L312.2 341.0L314.2 341.0L316.2 341.0L317.7 341.0L318.2 341.0L320.2 341.0L321.7 341.0L322.2 341.0L324.2 341.0L325.5 341.0L326.2 341.0L328.2 341.0L329.2 341.0L330.2 341.0L332.2 341.0L334.2 341.0L334.5 341.0L336.2 341.0L337.5 341.0L338.2 341.0L340.2 341.0L342.0 341.0L342.2 341.0L343.0 341.0L344.2 341.0L345.0 341.0L346.2 341.0L348.2 341.0L348.7 341.0L350.2 341.0L352.2 341.0L352.5 341.0L354.2 341.0L354.7 341.0L356.2 341.0L357.0 341.0L358.2 341.0L360.0 341.0L360.2 341.0L361.5 341.0L362.2 341.0L363.7 341.0L364.2 341.0L366.2 341.0L368.2 341.0L370.2 341.0L372.2 341.0L374.2 341.0L375.0 341.0L376.2 341.0L378.0 341.0L378.2 341.0L380.2 341.0L381.0 341.0L382.2 341.0L383.2 341.0L384.2 341.0L386.2 341.0L388.2 341.0L389.0 341.0L390.2 341.0L392.2 341.0L394.2 341.0L394.5 341.0L396.2 341.0L398.2 341.0L400.2 341.0L400.5 341.0L402.2 341.0L403.5 341.0L404.2 341.0L405.7 341.0L406.2 341.0L408.0 341.0L408.2 341.0L410.2 341.0L411.0 341.0L412.2 341.0L414.2 341.0L416.2 341.0L417.5 341.0L418.2 341.0L420.2 341.0L420.5 341.0L422.2 341.0L423.5 341.0L424.2 341.0L426.2 341.0L427.2 341.0L428.2 341.0L429.5 341.0L430.2 341.0L432.2 341.0L434.2 341.0L436.2 341.0L437.0 341.0L438.2 341.0L440.0 341.0L440.2 341.0L442.2 341.0L443.7 341.0L444.2 341.0L446.2 341.0L446.7 341.0L448.2 341.0L449.0 341.0L450.2 341.0L452.2 341.0L454.2 341.0L455.0 341.0L456.2 341.0L457.2 341.0L458.2 341.0L460.2 341.0L462.2 341.0L464.2 341.0L465.5 341.0L466.2 341.0L468.2 341.0L469.2 341.0L470.2 341.0L472.2 341.0L474.2 341.0L474.5 341.0L476.2 341.0L478.2 341.0L480.2 341.0L482.2 341.0L483.0 341.0L484.2 341.0L486.2 341.0L488.0 341.0L488.2 341.0L490.2 341.0L491.7 341.0L492.2 341.0L494.2 341.0L495.5 341.0L496.2 341.0L498.2 341.0L500.0 341.0L500.2 341.0L502.2 341.0L504.2 341.0L505.7 341.0L506.2 341.0L508.2 341.0L509.0 341.0L510.2 341.0L512.2 341.0L513.5 341.0L514.2 341.0L516.2 341.0L516.5 341.0L518.2 341.0L520.2 341.0L522.2 341.0L524.0 341.0L524.2 341.0L526.2 341.0L528.2 341.0L528.5 341.0L530.2 341.0L532.2 341.0L534.2 341.0L534.5 341.0L536.2 341.0L537.5 341.0L538.2 341.0L540.2 341.0L542.2 341.0L542.7 341.0L544.2 341.0L546.2 341.0L547.2 341.0L548.2 341.0L550.2 341.0L552.2 341.0L554.2 341.0L554.5 341.0L556.2 341.0L556.7 341.0L558.2 341.0L560.2 341.0L560.5 341.0L562.2 341.0L564.2 341.0L565.7 341.0L566.2 341.0L568.2 341.0L568.7 341.0L570.2 341.0L571.0 341.0L572.2 341.0L574.2 341.0L576.2 341.0L578.2 341.0L580.2 341.0L580.7 341.0L582.2 341.0L584.2 341.0L585.7 341.0L586.2 341.0L588.2 341.0L589.0 341.0L590.2 341.0L591.2 341.0L592.2 341.0L594.2 341.0L596.2 341.0L596.5 341.0L598.2 341.0L599.5 341.0L600.2 341.0L602.2 341.0L602.5 341.0L604.2 341.0L606.2 341.0L608.2 341.0L608.5 341.0L610.2 341.0L611.5 341.0L612.2 341.0L614.2 341.0L615.2 341.0L616.2 341.0L616.7 341.0L618.2 341.0L619.0 341.0L620.2 341.0L622.0 341.0L622.2 341.0L624.2 341.0L625.0 341.0L626.2 341.0L628.2 341.0L629.5 341.0L630.2 341.0L632.2 341.0L634.2 341.0L634.7 341.0L636.2 341.0L637.7 341.0L638.2 341.0L640.2 341.0L641.5 341.0L642.2 341.0L643.7 341.0L644.2 341.0L646.2 341.0L647.5 341.0L648.2 341.0L650.2 341.0L652.2 341.0L654.2 341.0L656.2 341.0L658.0 341.0L658.2 341.0L660.2 341.0L661.0 341.0L662.2 341.0L664.2 341.0L664.7 341.0L666.2 341.0L668.2 341.0L668.5 341.0L670.2 341.0L670.7 341.0L672.2 341.0L674.2 341.0L676.2 341.0L677.5 341.0L678.2 341.0L680.2 341.0L681.2 341.0L682.2 341.0L684.2 341.0L685.7 341.0L686.2 341.0L687.7 341.0L688.2 341.0L689.5 341.0L690.2 341.0L692.2 341.0L693.7 341.0L694.2 341.0L696.2 341.0L696.7 341.0L698.2 341.0L699.7 341.0L700.2 341.0L702.0 341.0L702.2 341.0L704.2 341.0L705.0 341.0L706.2 341.0L708.2 341.0L710.2 341.0L711.0 341.0L712.2 341.0L712.5 341.0L714.2 341.0L716.2 341.0L716.7 341.0L718.2 341.0L719.2 341.0L720.2 341.0L722.2 341.0L722.5 341.0L724.2 341.0L726.2 341.0L726.7 341.0L728.2 341.0L730.2 341.0L730.8 341.0L732.2 341.0L734.2 341.0L736.2 341.0L737.2 341.0L738.2 341.0L740.2 341.0L741.7 341.0L742.2 341.0L744.2 341.0L745.5 341.0L746.2 341.0L748.2 341.0L748.5 341.0L750.2 341.0L752.2 341.0L753.0 341.0L754.2 341.0L755.2 341.0L756.2 341.0L758.2 341.0L759.0 341.0L760.2 341.0L762.2 341.0L762.7 341.0L764.2 341.0L766.2 341.0L766.5 341.0L768.2 341.0L769.5 341.0L770.2 341.0L772.2 341.0L772.5 341.0L774.2 341.0L774.7 341.0L776.2 341.0L777.0 341.0L778.2 341.0L780.0 341.0L780.2 341.0L782.2 341.0L784.2 341.0L785.0 341.0L786.2 341.0L788.2 341.0L788.6 341.0L790.2 341.0L790.4 341.0L792.2 341.0L794.0 341.0L794.2 341.0L795.8 341.0L796.2 341.0L797.6 341.0L798.2 341.0L799.4 341.0L800.2 341.0L802.2 341.0L802.4 341.0L804.2 341.0L806.2 341.0L807.2 341.0L808.2 341.0L810.2 341.0L810.8 341.0L812.2 341.0L814.2 341.0L814.4 341.0L816.2 341.0L818.0 341.0L818.2 341.0L820.2 341.0L820.4 341.0L822.2 341.0L823.4 341.0L824.2 341.0L826.2 341.0L828.2 341.0L830.0 341.0L830.2 341.0L832.2 341.0L834.2 341.0L834.8 341.0L836.2 341.0L838.2 341.0L839.6 341.0L840.2 341.0L842.2 341.0L843.2 341.0L844.2 341.0L846.2 341.0L848.0 341.0L848.2 341.0L850.2 341.0L852.2 341.0L854.0 341.0L854.2 341.0L856.2 341.0L858.2 341.0L860.0 341.0L860.2 341.0L862.2 341.0L864.2 341.0L865.3 341.0L865.3 341.00Z" fill="#a70b44"/></g>
<g id="patch_3">
<path d="M 90.3600 253.8000 L 90.3600 52.2000" style="fill: none; stroke: #000000; stroke-width: 0.8; stroke-linejoin: miter; stroke-linecap: square"/>
</g>
<g id="patch_4">
<path d="M 648.3600 253.8000 L 648.3600 52.2000" style="fill: none; stroke: #000000; stroke-width: 0.8; stroke-linejoin: miter; stroke-linecap: square"/>
</g>
<g id="patch_5">
<path d="M 90.3600 253.8000 L 648.3600 253.8000" style="fill: none; stroke: #000000; stroke-width: 0.8; stroke-linejoin: miter; stroke-linecap: square"/>
</g>
<g id="patch_6">
<path d="M 90.3600 52.2000 L 648.3600 52.2000" style="fill: none; stroke: #000000; stroke-width: 0.8; stroke-linejoin: miter; stroke-linecap: square"/>
</g>
<g id="matplotlib.axis_1">
<g id="xtick_1">
<g id="line2d_1">
<path d="M 99.0000 253.8000 L 99.0000 52.2000" clip-path="url(#pd1b93877dd)" style="fill: none; stroke: #b0b0b0; stroke-width: 0.8; stroke-linecap: square"/>
</g>
<g id="line2d_2">
<defs>
<path id="m1504cfccaf" d="M 0 0 
L 0 3.5 
" style="stroke: #000000; stroke-width: 0.8"/>
</defs>
<g>
<use href="#m1504cfccaf" x="99.0000" y="253.8000" style="stroke: #000000; stroke-width: 0.8"/>
</g>
</g>
<g id="text_1">
<!-- 30-Apr-2015 -->
<g transform="translate(43.770629 299.014502) rotate(-30) scale(0.1 -0.1)">
<defs>
<path id="DejaVuSans-33" d="M 2597 2516 
Q 3050 2419 3304 2112 
Q 3559 1806 3559 1356 
Q 3559 666 3084 287 
Q 2609 -91 1734 -91 
Q 1441 -91 1130 -33 
Q 819 25 488 141 
L 488 750 
Q 750 597 1062 519 
Q 1375 441 1716 441 
Q 2309 441 2620 675 
Q 2931 909 2931 1356 
Q 2931 1769 2642 2001 
Q 2353 2234 1838 2234 
L 1294 2234 
L 1294 2753 
L 1863 2753 
Q 2328 2753 2575 2939 
Q 2822 3125 2822 3475 
Q 2822 3834 2567 4026 
Q 2313 4219 1838 4219 
Q 1578 4219 1281 4162 
Q 984 4106 628 3988 
L 628 4550 
Q 988 4650 1302 4700 
Q 1616 4750 1894 4750 
Q 2613 4750 3031 4423 
Q 3450 4097 3450 3541 
Q 3450 3153 3228 2886 
Q 3006 2619 2597 2516 
z
" transform="scale(0.015625)"/>
<path id="DejaVuSans-30" d="M 2034 4250 
Q 1547 4250 1301 3770 
Q 1056 3291 1056 2328 
Q 1056 1369 1301 889 
Q 1547 409 2034 409 
Q 2525 409 2770 889 
Q 3016 1369 3016 2328 
Q 3016 3291 2770 3770 
Q 2525 4250 2034 4250 
z
M 2034 4750 
Q 2819 4750 3233 4129 
Q 3647 3509 3647 2328 
Q 3647 1150 3233 529 
Q 2819 -91 2034 -91 
Q 1250 -91 836 529 
Q 422 1150 422 2328 
Q 422 3509 836 4129 
Q 1250 4750 2034 4750 
z
" transform="scale(0.015625)"/>
<path id="DejaVuSans-2d" d="M 313 2009 
L 1997 2009 
L 1997 1497 
L 313 1497 
L 313 2009 
z
" transform="scale(0.015625)"/>
<path id="DejaVuSans-41" d="M 2188 4044 
L 1331 1722 
L 3047 1722 
L 2188 4044 
z
M 1831 4666 
L 2547 4666 
L 4325 0 
L 3669 0 
L 3244 1197 
L 1141 1197 
L 716 0 
L 50 0 
L 1831 4666 
z
" transform="scale(0.015625)"/>
<path id="DejaVuSans-70" d="M 1159 525 
L 1159 -1331 
L 581 -1331 
L 581 3500 
L 1159 3500 
L 1159 2969 
Q 1341 3281 1617 3432 
Q 1894 3584 2278 3584 
Q 2916 3584 3314 3078 
Q 3713 2572 3713 1747 
Q 3713 922 3314 415 
Q 2916 -91 2278 -91 
Q 1894 -91 1617 61 
Q 1341 213 1159 525 
z
M 3116 1747 
Q 3116 2381 2855 2742 
Q 2594 3103 2138 3103 
Q 1681 3103 1420 2742 
Q 1159 2381 1159 1747 
Q 1159 1113 1420 752 
Q 1681 391 2138 391 
Q 2594 391 2855 752 
Q 3116 1113 3116 1747 
z
" transform="scale(0.015625)"/>
<path id="DejaVuSans-72" d="M 2631 2963 
Q 2534 3019 2420 3045 
Q 2306 3072 2169 3072 
Q 1681 3072 1420 2755 
Q 1159 2438 1159 1844 
L 1159 0 
L 581 0 
L 581 3500 
L 1159 3500 
L 1159 2956 
Q 1341 3275 1631 3429 
Q 1922 3584 2338 3584 
Q 2397 3584 2469 3576 
Q 2541 3569 2628 3553 
L 2631 2963 
z
" transform="scale(0.015625)"/>
<path id="DejaVuSans-32" d="M 1228 531 
L 3431 531 
L 3431 0 
L 469 0 
L 469 531 
Q 828 903 1448 1529 
Q 2069 2156 2228 2338 
Q 2531 2678 2651 2914 
Q 2772 3150 2772 3378 
Q 2772 3750 2511 3984 
Q 2250 4219 1831 4219 
Q 1534 4219 1204 4116 
Q 875 4013 500 3803 
L 500 4441 
Q 881 4594 1212 4672 
Q 1544 4750 1819 4750 
Q 2544 4750 2975 4387 
Q 3406 4025 3406 3419 
Q 3406 3131 3298 2873 
Q 3191 2616 2906 2266 
Q 2828 2175 2409 1742 
Q 1991 1309 1228 531 
z
" transform="scale(0.015625)"/>
<path id="DejaVuSans-31" d="M 794 531 
L 1825 531 
L 1825 4091 
L 703 3866 
L 703 4441 
L 1819 4666 
L 2450 4666 
L 2450 531 
L 3481 531 
L 3481 0 
L 794 0 
L 794 531 
z
" transform="scale(0.015625)"/>
<path id="DejaVuSans-35" d="M 691 4666 
L 3169 4666 
L 3169 4134 
L 1269 4134 
L 1269 2991 
Q 1406 3038 1543 3061 
Q 1681 3084 1819 3084 
Q 2600 3084 3056 2656 
Q 3513 2228 3513 1497 
Q 3513 744 3044 326 
Q 2575 -91 1722 -91 
Q 1428 -91 1123 -41 
Q 819 9 494 109 
L 494 744 
Q 775 591 1075 516 
Q 1375 441 1709 441 
Q 2250 441 2565 725 
Q 2881 1009 2881 1497 
Q 2881 1984 2565 2268 
Q 2250 2553 1709 2553 
Q 1456 2553 1204 2497 
Q 953 2441 691 2322 
L 691 4666 
z
" transform="scale(0.015625)"/>
</defs>
<use href="#DejaVuSans-33"/>
<use href="#DejaVuSans-30" transform="translate(63.623047 0)"/>
<use href="#DejaVuSans-2d" transform="translate(127.246094 0)"/>
<use href="#DejaVuSans-41" transform="translate(161.080078 0)"/>
<use href="#DejaVuSans-70" transform="translate(229.488281 0)"/>
<use href="#DejaVuSans-72" transform="translate(292.964844 0)"/>
<use href="#DejaVuSans-2d" transform="translate(327.703125 0)"/>
<use href="#DejaVuSans-32" transform="translate(363.787109 0)"/>
<use href="#DejaVuSans-30" transform="translate(427.410156 0)"/>
<use href="#DejaVuSans-31" transform="translate(491.033203 0)"/>
<use href="#DejaVuSans-35" transform="translate(554.65625 0)"/>
</g>
</g>
</g>
<g id="xtick_2">
<g id="line2d_3">
<path d="M 148.6800 253.8000 L 148.6800 52.2000" clip-path="url(#pd1b93877dd)" style="fill: none; stroke: #b0b0b0; stroke-width: 0.8; stroke-linecap: square"/>
</g>
<g id="line2d_4">
<g>
<use href="#m1504cfccaf" x="148.6800" y="253.8000" style="stroke: #000000; stroke-width: 0.8"/>
</g>
</g>
<g id="text_2">
<!-- 03-May-2015 -->
<g transform="translate(89.541441 301.045752) rotate(-30) scale(0.1 -0.1)">
<defs>
<path id="DejaVuSans-4d" d="M 628 4666 
L 1569 4666 
L 2759 1491 
L 3956 4666 
L 4897 4666 
L 4897 0 
L 4281 0 
L 4281 4097 
L 3078 897 
L 2444 897 
L 1241 4097 
L 1241 0 
L 628 0 
L 628 4666 
z
" transform="scale(0.015625)"/>
<path id="DejaVuSans-61" d="M 2194 1759 
Q 1497 1759 1228 1600 
Q 959 1441 959 1056 
Q 959 750 1161 570 
Q 1363 391 1709 391 
Q 2188 391 2477 730 
Q 2766 1069 2766 1631 
L 2766 1759 
L 2194 1759 
z
M 3341 1997 
L 3341 0 
L 2766 0 
L 2766 531 
Q 2569 213 2275 61 
Q 1981 -91 1556 -91 
Q 1019 -91 701 211 
Q 384 513 384 1019 
Q 384 1609 779 1909 
Q 1175 2209 1959 2209 
L 2766 2209 
L 2766 2266 
Q 2766 2663 2505 2880 
Q 2244 3097 1772 3097 
Q 1472 3097 1187 3025 
Q 903 2953 641 2809 
L 641 3341 
Q 956 3463 1253 3523 
Q 1550 3584 1831 3584 
Q 2591 3584 2966 3190 
Q 3341 2797 3341 1997 
z
" transform="scale(0.015625)"/>
<path id="DejaVuSans-79" d="M 2059 -325 
Q 1816 -950 1584 -1140 
Q 1353 -1331 966 -1331 
L 506 -1331 
L 506 -850 
L 844 -850 
Q 1081 -850 1212 -737 
Q 1344 -625 1503 -206 
L 1606 56 
L 191 3500 
L 800 3500 
L 1894 763 
L 2988 3500 
L 3597 3500 
L 2059 -325 
z
" transform="scale(0.015625)"/>
</defs>
<use href="#DejaVuSans-30"/>
<use href="#DejaVuSans-33" transform="translate(63.623047 0)"/>
<use href="#DejaVuSans-2d" transform="translate(127.246094 0)"/>
<use href="#DejaVuSans-4d" transform="translate(163.330078 0)"/>
<use href="#DejaVuSans-61" transform="translate(249.609375 0)"/>
<use href="#DejaVuSans-79" transform="translate(310.888672 0)"/>
<use href="#DejaVuSans-2d" transform="translate(368.318359 0)"/>
<use href="#DejaVuSans-32" transform="translate(404.402344 0)"/>
<use href="#DejaVuSans-30" transform="translate(468.025391 0)"/>
<use href="#DejaVuSans-31" transform="translate(531.648438 0)"/>
<use href="#DejaVuSans-35" transform="translate(595.271484 0)"/>
</g>
</g>
</g>
<g id="xtick_3">
<g id="line2d_5">
<path d="M 197.6400 253.8000 L 197.6400 52.2000" clip-path="url(#pd1b93877dd)" style="fill: none; stroke: #b0b0b0; stroke-width: 0.8; stroke-linecap: square"/>
</g>
<g id="line2d_6">
<g>
<use href="#m1504cfccaf" x="197.6400" y="253.8000" style="stroke: #000000; stroke-width: 0.8"/>
</g>
</g>
<g id="text_3">
<!-- 06-May-2015 -->
<g transform="translate(138.830481 301.045752) rotate(-30) scale(0.1 -0.1)">
<defs>
<path id="DejaVuSans-36" d="M 2113 2584 
Q 1688 2584 1439 2293 
Q 1191 2003 1191 1497 
Q 1191 994 1439 701 
Q 1688 409 2113 409 
Q 2538 409 2786 701 
Q 3034 994 3034 1497 
Q 3034 2003 2786 2293 
Q 2538 2584 2113 2584 
z
M 3366 4563 
L 3366 3988 
Q 3128 4100 2886 4159 
Q 2644 4219 2406 4219 
Q 1781 4219 1451 3797 
Q 1122 3375 1075 2522 
Q 1259 2794 1537 2939 
Q 1816 3084 2150 3084 
Q 2853 3084 3261 2657 
Q 3669 2231 3669 1497 
Q 3669 778 3244 343 
Q 2819 -91 2113 -91 
Q 1303 -91 875 529 
Q 447 1150 447 2328 
Q 447 3434 972 4092 
Q 1497 4750 2381 4750 
Q 2619 4750 2861 4703 
Q 3103 4656 3366 4563 
z
" transform="scale(0.015625)"/>
</defs>
<use href="#DejaVuSans-30"/>
<use href="#DejaVuSans-36" transform="translate(63.623047 0)"/>
<use href="#DejaVuSans-2d" transform="translate(127.246094 0)"/>
<use href="#DejaVuSans-4d" transform="translate(163.330078 0)"/>
<use href="#DejaVuSans-61" transform="translate(249.609375 0)"/>
<use href="#DejaVuSans-79" transform="translate(310.888672 0)"/>
<use href="#DejaVuSans-2d" transform="translate(368.318359 0)"/>
<use href="#DejaVuSans-32" transform="translate(404.402344 0)"/>
<use href="#DejaVuSans-30" transform="translate(468.025391 0)"/>
<use href="#DejaVuSans-31" transform="translate(531.648438 0)"/>
<use href="#DejaVuSans-35" transform="translate(595.271484 0)"/>
</g>
</g>
</g>
<g id="xtick_4">
<g id="line2d_7">
<path d="M 247.3200 253.8000 L 247.3200 52.2000" clip-path="url(#pd1b93877dd)" style="fill: none; stroke: #b0b0b0; stroke-width: 0.8; stroke-linecap: square"/>
</g>
<g id="line2d_8">
<g>
<use href="#m1504cfccaf" x="247.3200" y="253.8000" style="stroke: #000000; stroke-width: 0.8"/>
</g>
</g>
<g id="text_4">
<!-- 09-May-2015 -->
<g transform="translate(188.119521 301.045752) rotate(-30) scale(0.1 -0.1)">
<defs>
<path id="DejaVuSans-39" d="M 703 97 
L 703 672 
Q 941 559 1184 500 
Q 1428 441 1663 441 
Q 2288 441 2617 861 
Q 2947 1281 2994 2138 
Q 2813 1869 2534 1725 
Q 2256 1581 1919 1581 
Q 1219 1581 811 2004 
Q 403 2428 403 3163 
Q 403 3881 828 4315 
Q 1253 4750 1959 4750 
Q 2769 4750 3195 4129 
Q 3622 3509 3622 2328 
Q 3622 1225 3098 567 
Q 2575 -91 1691 -91 
Q 1453 -91 1209 -44 
Q 966 3 703 97 
z
M 1959 2075 
Q 2384 2075 2632 2365 
Q 2881 2656 2881 3163 
Q 2881 3666 2632 3958 
Q 2384 4250 1959 4250 
Q 1534 4250 1286 3958 
Q 1038 3666 1038 3163 
Q 1038 2656 1286 2365 
Q 1534 2075 1959 2075 
z
" transform="scale(0.015625)"/>
</defs>
<use href="#DejaVuSans-30"/>
<use href="#DejaVuSans-39" transform="translate(63.623047 0)"/>
<use href="#DejaVuSans-2d" transform="translate(127.246094 0)"/>
<use href="#DejaVuSans-4d" transform="translate(163.330078 0)"/>
<use href="#DejaVuSans-61" transform="translate(249.609375 0)"/>
<use href="#DejaVuSans-79" transform="translate(310.888672 0)"/>
<use href="#DejaVuSans-2d" transform="translate(368.318359 0)"/>
<use href="#DejaVuSans-32" transform="translate(404.402344 0)"/>
<use href="#DejaVuSans-30" transform="translate(468.025391 0)"/>
<use href="#DejaVuSans-31" transform="translate(531.648438 0)"/>
<use href="#DejaVuSans-35" transform="translate(595.271484 0)"/>
</g>
</g>
</g>
<g id="xtick_5">
<g id="line2d_9">
<path d="M 296.2800 253.8000 L 296.2800 52.2000" clip-path="url(#pd1b93877dd)" style="fill: none; stroke: #b0b0b0; stroke-width: 0.8; stroke-linecap: square"/>
</g>
<g id="line2d_10">
<g>
<use href="#m1504cfccaf" x="296.2800" y="253.8000" style="stroke: #000000; stroke-width: 0.8"/>
</g>
</g>
<g id="text_5">
<!-- 12-May-2015 -->
<g transform="translate(237.408561 301.045752) rotate(-30) scale(0.1 -0.1)">
<use href="#DejaVuSans-31"/>
<use href="#DejaVuSans-32" transform="translate(63.623047 0)"/>
<use href="#DejaVuSans-2d" transform="translate(127.246094 0)"/>
<use href="#DejaVuSans-4d" transform="translate(163.330078 0)"/>
<use href="#DejaVuSans-61" transform="translate(249.609375 0)"/>
<use href="#DejaVuSans-79" transform="translate(310.888672 0)"/>
<use href="#DejaVuSans-2d" transform="translate(368.318359 0)"/>
<use href="#DejaVuSans-32" transform="translate(404.402344 0)"/>
<use href="#DejaVuSans-30" transform="translate(468.025391 0)"/>
<use href="#DejaVuSans-31" transform="translate(531.648438 0)"/>
<use href="#DejaVuSans-35" transform="translate(595.271484 0)"/>
</g>
</g>
</g>
<g id="xtick_6">
<g id="line2d_11">
<path d="M 345.9600 253.8000 L 345.9600 52.2000" clip-path="url(#pd1b93877dd)" style="fill: none; stroke: #b0b0b0; stroke-width: 0.8; stroke-linecap: square"/>
</g>
<g id="line2d_12">
<g>
<use href="#m1504cfccaf" x="345.9600" y="253.8000" style="stroke: #000000; stroke-width: 0.8"/>
</g>
</g>
<g id="text_6">
<!-- 15-May-2015 -->
<g transform="translate(286.697601 301.045752) rotate(-30) scale(0.1 -0.1)">
<use href="#DejaVuSans-31"/>
<use href="#DejaVuSans-35" transform="translate(63.623047 0)"/>
<use href="#DejaVuSans-2d" transform="translate(127.246094 0)"/>
<use href="#DejaVuSans-4d" transform="translate(163.330078 0)"/>
<use href="#DejaVuSans-61" transform="translate(249.609375 0)"/>
<use href="#DejaVuSans-79" transform="translate(310.888672 0)"/>
<use href="#DejaVuSans-2d" transform="translate(368.318359 0)"/>
<use href="#DejaVuSans-32" transform="translate(404.402344 0)"/>
<use href="#DejaVuSans-30" transform="translate(468.025391 0)"/>
<use href="#DejaVuSans-31" transform="translate(531.648438 0)"/>
<use href="#DejaVuSans-35" transform="translate(595.271484 0)"/>
</g>
</g>
</g>
<g id="xtick_7">
<g id="line2d_13">
<path d="M 394.9200 253.8000 L 394.9200 52.2000" clip-path="url(#pd1b93877dd)" style="fill: none; stroke: #b0b0b0; stroke-width: 0.8; stroke-linecap: square"/>
</g>
<g id="line2d_14">
<g>
<use href="#m1504cfccaf" x="394.9200" y="253.8000" style="stroke: #000000; stroke-width: 0.8"/>
</g>
</g>
<g id="text_7">
<!-- 18-May-2015 -->
<g transform="translate(335.986641 301.045752) rotate(-30) scale(0.1 -0.1)">
<defs>
<path id="DejaVuSans-38" d="M 2034 2216 
Q 1584 2216 1326 1975 
Q 1069 1734 1069 1313 
Q 1069 891 1326 650 
Q 1584 409 2034 409 
Q 2484 409 2743 651 
Q 3003 894 3003 1313 
Q 3003 1734 2745 1975 
Q 2488 2216 2034 2216 
z
M 1403 2484 
Q 997 2584 770 2862 
Q 544 3141 544 3541 
Q 544 4100 942 4425 
Q 1341 4750 2034 4750 
Q 2731 4750 3128 4425 
Q 3525 4100 3525 3541 
Q 3525 3141 3298 2862 
Q 3072 2584 2669 2484 
Q 3125 2378 3379 2068 
Q 3634 1759 3634 1313 
Q 3634 634 3220 271 
Q 2806 -91 2034 -91 
Q 1263 -91 848 271 
Q 434 634 434 1313 
Q 434 1759 690 2068 
Q 947 2378 1403 2484 
z
M 1172 3481 
Q 1172 3119 1398 2916 
Q 1625 2713 2034 2713 
Q 2441 2713 2670 2916 
Q 2900 3119 2900 3481 
Q 2900 3844 2670 4047 
Q 2441 4250 2034 4250 
Q 1625 4250 1398 4047 
Q 1172 3844 1172 3481 
z
" transform="scale(0.015625)"/>
</defs>
<use href="#DejaVuSans-31"/>
<use href="#DejaVuSans-38" transform="translate(63.623047 0)"/>
<use href="#DejaVuSans-2d" transform="translate(127.246094 0)"/>
<use href="#DejaVuSans-4d" transform="translate(163.330078 0)"/>
<use href="#DejaVuSans-61" transform="translate(249.609375 0)"/>
<use href="#DejaVuSans-79" transform="translate(310.888672 0)"/>
<use href="#DejaVuSans-2d" transform="translate(368.318359 0)"/>
<use href="#DejaVuSans-32" transform="translate(404.402344 0)"/>
<use href="#DejaVuSans-30" transform="translate(468.025391 0)"/>
<use href="#DejaVuSans-31" transform="translate(531.648438 0)"/>
<use href="#DejaVuSans-35" transform="translate(595.271484 0)"/>
</g>
</g>
</g>
<g id="xtick_8">
<g id="line2d_15">
<path d="M 444.6000 253.8000 L 444.6000 52.2000" clip-path="url(#pd1b93877dd)" style="fill: none; stroke: #b0b0b0; stroke-width: 0.8; stroke-linecap: square"/>
</g>
<g id="line2d_16">
<g>
<use href="#m1504cfccaf" x="444.6000" y="253.8000" style="stroke: #000000; stroke-width: 0.8"/>
</g>
</g>
<g id="text_8">
<!-- 21-May-2015 -->
<g transform="translate(385.275681 301.045752) rotate(-30) scale(0.1 -0.1)">
<use href="#DejaVuSans-32"/>
<use href="#DejaVuSans-31" transform="translate(63.623047 0)"/>
<use href="#DejaVuSans-2d" transform="translate(127.246094 0)"/>
<use href="#DejaVuSans-4d" transform="translate(163.330078 0)"/>
<use href="#DejaVuSans-61" transform="translate(249.609375 0)"/>
<use href="#DejaVuSans-79" transform="translate(310.888672 0)"/>
<use href="#DejaVuSans-2d" transform="translate(368.318359 0)"/>
<use href="#DejaVuSans-32" transform="translate(404.402344 0)"/>
<use href="#DejaVuSans-30" transform="translate(468.025391 0)"/>
<use href="#DejaVuSans-31" transform="translate(531.648438 0)"/>
<use href="#DejaVuSans-35" transform="translate(595.271484 0)"/>
</g>
</g>
</g>
<g id="xtick_9">
<g id="line2d_17">
<path d="M 493.5600 253.8000 L 493.5600 52.2000" clip-path="url(#pd1b93877dd)" style="fill: none; stroke: #b0b0b0; stroke-width: 0.8; stroke-linecap: square"/>
</g>
<g id="line2d_18">
<g>
<use href="#m1504cfccaf" x="493.5600" y="253.8000" style="stroke: #000000; stroke-width: 0.8"/>
</g>
</g>
<g id="text_9">
<!-- 24-May-2015 -->
<g transform="translate(434.564721 301.045752) rotate(-30) scale(0.1 -0.1)">
<defs>
<path id="DejaVuSans-34" d="M 2419 4116 
L 825 1625 
L 2419 1625 
L 2419 4116 
z
M 2253 4666 
L 3047 4666 
L 3047 1625 
L 3713 1625 
L 3713 1100 
L 3047 1100 
L 3047 0 
L 2419 0 
L 2419 1100 
L 313 1100 
L 313 1709 
L 2253 4666 
z
" transform="scale(0.015625)"/>
</defs>
<use href="#DejaVuSans-32"/>
<use href="#DejaVuSans-34" transform="translate(63.623047 0)"/>
<use href="#DejaVuSans-2d" transform="translate(127.246094 0)"/>
<use href="#DejaVuSans-4d" transform="translate(163.330078 0)"/>
<use href="#DejaVuSans-61" transform="translate(249.609375 0)"/>
<use href="#DejaVuSans-79" transform="translate(310.888672 0)"/>
<use href="#DejaVuSans-2d" transform="translate(368.318359 0)"/>
<use href="#DejaVuSans-32" transform="translate(404.402344 0)"/>
<use href="#DejaVuSans-30" transform="translate(468.025391 0)"/>
<use href="#DejaVuSans-31" transform="translate(531.648438 0)"/>
<use href="#DejaVuSans-35" transform="translate(595.271484 0)"/>
</g>
</g>
</g>
<g id="xtick_10">
<g id="line2d_19">
<path d="M 543.2400 253.8000 L 543.2400 52.2000" clip-path="url(#pd1b93877dd)" style="fill: none; stroke: #b0b0b0; stroke-width: 0.8; stroke-linecap: square"/>
</g>
<g id="line2d_20">
<g>
<use href="#m1504cfccaf" x="543.2400" y="253.8000" style="stroke: #000000; stroke-width: 0.8"/>
</g>
</g>
<g id="text_10">
<!-- 27-May-2015 -->
<g transform="translate(483.853761 301.045752) rotate(-30) scale(0.1 -0.1)">
<defs>
<path id="DejaVuSans-37" d="M 525 4666 
L 3525 4666 
L 3525 4397 
L 1831 0 
L 1172 0 
L 2766 4134 
L 525 4134 
L 525 4666 
z
" transform="scale(0.015625)"/>
</defs>
<use href="#DejaVuSans-32"/>
<use href="#DejaVuSans-37" transform="translate(63.623047 0)"/>
<use href="#DejaVuSans-2d" transform="translate(127.246094 0)"/>
<use href="#DejaVuSans-4d" transform="translate(163.330078 0)"/>
<use href="#DejaVuSans-61" transform="translate(249.609375 0)"/>
<use href="#DejaVuSans-79" transform="translate(310.888672 0)"/>
<use href="#DejaVuSans-2d" transform="translate(368.318359 0)"/>
<use href="#DejaVuSans-32" transform="translate(404.402344 0)"/>
<use href="#DejaVuSans-30" transform="translate(468.025391 0)"/>
<use href="#DejaVuSans-31" transform="translate(531.648438 0)"/>
<use href="#DejaVuSans-35" transform="translate(595.271484 0)"/>
</g>
</g>
</g>
<g id="xtick_11">
<g id="line2d_21">
<path d="M 592.2000 253.8000 L 592.2000 52.2000" clip-path="url(#pd1b93877dd)" style="fill: none; stroke: #b0b0b0; stroke-width: 0.8; stroke-linecap: square"/>
</g>
<g id="line2d_22">
<g>
<use href="#m1504cfccaf" x="592.2000" y="253.8000" style="stroke: #000000; stroke-width: 0.8"/>
</g>
</g>
<g id="text_11">
<!-- 30-May-2015 -->
<g transform="translate(533.142801 301.045752) rotate(-30) scale(0.1 -0.1)">
<use href="#DejaVuSans-33"/>
<use href="#DejaVuSans-30" transform="translate(63.623047 0)"/>
<use href="#DejaVuSans-2d" transform="translate(127.246094 0)"/>
<use href="#DejaVuSans-4d" transform="translate(163.330078 0)"/>
<use href="#DejaVuSans-61" transform="translate(249.609375 0)"/>
<use href="#DejaVuSans-79" transform="translate(310.888672 0)"/>
<use href="#DejaVuSans-2d" transform="translate(368.318359 0)"/>
<use href="#DejaVuSans-32" transform="translate(404.402344 0)"/>
<use href="#DejaVuSans-30" transform="translate(468.025391 0)"/>
<use href="#DejaVuSans-31" transform="translate(531.648438 0)"/>
<use href="#DejaVuSans-35" transform="translate(595.271484 0)"/>
</g>
</g>
</g>
<g id="xtick_12">
<g id="line2d_23">
<path d="M 641.1600 253.8000 L 641.1600 52.2000" clip-path="url(#pd1b93877dd)" style="fill: none; stroke: #b0b0b0; stroke-width: 0.8; stroke-linecap: square"/>
</g>
<g id="line2d_24">
<g>
<use href="#m1504cfccaf" x="641.1600" y="253.8000" style="stroke: #000000; stroke-width: 0.8"/>
</g>
</g>
<g id="text_12">
<!-- 02-Jun-2015 -->
<g transform="translate(586.166576 298.889502) rotate(-30) scale(0.1 -0.1)">
<defs>
<path id="DejaVuSans-4a" d="M 628 4666 
L 1259 4666 
L 1259 325 
Q 1259 -519 939 -900 
Q 619 -1281 -91 -1281 
L -331 -1281 
L -331 -750 
L -134 -750 
Q 284 -750 456 -515 
Q 628 -281 628 325 
L 628 4666 
z
" transform="scale(0.015625)"/>
<path id="DejaVuSans-75" d="M 544 1381 
L 544 3500 
L 1119 3500 
L 1119 1403 
Q 1119 906 1312 657 
Q 1506 409 1894 409 
Q 2359 409 2629 706 
Q 2900 1003 2900 1516 
L 2900 3500 
L 3475 3500 
L 3475 0 
L 2900 0 
L 2900 538 
Q 2691 219 2414 64 
Q 2138 -91 1772 -91 
Q 1169 -91 856 284 
Q 544 659 544 1381 
z
M 1991 3584 
L 1991 3584 
z
" transform="scale(0.015625)"/>
<path id="DejaVuSans-6e" d="M 3513 2113 
L 3513 0 
L 2938 0 
L 2938 2094 
Q 2938 2591 2744 2837 
Q 2550 3084 2163 3084 
Q 1697 3084 1428 2787 
Q 1159 2491 1159 1978 
L 1159 0 
L 581 0 
L 581 3500 
L 1159 3500 
L 1159 2956 
Q 1366 3272 1645 3428 
Q 1925 3584 2291 3584 
Q 2894 3584 3203 3211 
Q 3513 2838 3513 2113 
z
" transform="scale(0.015625)"/>
</defs>
<use href="#DejaVuSans-30"/>
<use href="#DejaVuSans-32" transform="translate(63.623047 0)"/>
<use href="#DejaVuSans-2d" transform="translate(127.246094 0)"/>
<use href="#DejaVuSans-4a" transform="translate(168.955078 0)"/>
<use href="#DejaVuSans-75" transform="translate(198.447266 0)"/>
<use href="#DejaVuSans-6e" transform="translate(261.826172 0)"/>
<use href="#DejaVuSans-2d" transform="translate(325.205078 0)"/>
<use href="#DejaVuSans-32" transform="translate(361.289062 0)"/>
<use href="#DejaVuSans-30" transform="translate(424.912109 0)"/>
<use href="#DejaVuSans-31" transform="translate(488.535156 0)"/>
<use href="#DejaVuSans-35" transform="translate(552.158203 0)"/>
</g>
</g>
</g>
</g>
<g id="matplotlib.axis_2">
<g id="ytick_1">
<g id="line2d_25">
<path d="M 90.3600 244.4400 L 648.3600 244.4400" clip-path="url(#pd1b93877dd)" style="fill: none; stroke: #b0b0b0; stroke-width: 0.8; stroke-linecap: square"/>
</g>
<g id="line2d_26">
<defs>
<path id="m5d545ce8f8" d="M 0 0 
L -3.5 0 
" style="stroke: #000000; stroke-width: 0.8"/>
</defs>
<g>
<use href="#m5d545ce8f8" x="90.3600" y="244.4400" style="stroke: #000000; stroke-width: 0.8"/>
</g>
</g>
<g id="text_13">
<!-- 0.0 -->
<g transform="translate(67.096875 248.073619) scale(0.1 -0.1)">
<defs>
<path id="DejaVuSans-2e" d="M 684 794 
L 1344 794 
L 1344 0 
L 684 0 
L 684 794 
z
" transform="scale(0.015625)"/>
</defs>
<use href="#DejaVuSans-30"/>
<use href="#DejaVuSans-2e" transform="translate(63.623047 0)"/>
<use href="#DejaVuSans-30" transform="translate(95.410156 0)"/>
</g>
</g>
</g>
<g id="ytick_2">
<g id="line2d_27">
<path d="M 90.3600 219.9600 L 648.3600 219.9600" clip-path="url(#pd1b93877dd)" style="fill: none; stroke: #b0b0b0; stroke-width: 0.8; stroke-linecap: square"/>
</g>
<g id="line2d_28">
<g>
<use href="#m5d545ce8f8" x="90.3600" y="219.9600" style="stroke: #000000; stroke-width: 0.8"/>
</g>
</g>
<g id="text_14">
<!-- 2.5 -->
<g transform="translate(67.096875 223.158019) scale(0.1 -0.1)">
<use href="#DejaVuSans-32"/>
<use href="#DejaVuSans-2e" transform="translate(63.623047 0)"/>
<use href="#DejaVuSans-35" transform="translate(95.410156 0)"/>
</g>
</g>
</g>
<g id="ytick_3">
<g id="line2d_29">
<path d="M 90.3600 194.7600 L 648.3600 194.7600" clip-path="url(#pd1b93877dd)" style="fill: none; stroke: #b0b0b0; stroke-width: 0.8; stroke-linecap: square"/>
</g>
<g id="line2d_30">
<g>
<use href="#m5d545ce8f8" x="90.3600" y="194.7600" style="stroke: #000000; stroke-width: 0.8"/>
</g>
</g>
<g id="text_15">
<!-- 5.0 -->
<g transform="translate(67.096875 198.242419) scale(0.1 -0.1)">
<use href="#DejaVuSans-35"/>
<use href="#DejaVuSans-2e" transform="translate(63.623047 0)"/>
<use href="#DejaVuSans-30" transform="translate(95.410156 0)"/>
</g>
</g>
</g>
<g id="ytick_4">
<g id="line2d_31">
<path d="M 90.3600 169.5600 L 648.3600 169.5600" clip-path="url(#pd1b93877dd)" style="fill: none; stroke: #b0b0b0; stroke-width: 0.8; stroke-linecap: square"/>
</g>
<g id="line2d_32">
<g>
<use href="#m5d545ce8f8" x="90.3600" y="169.5600" style="stroke: #000000; stroke-width: 0.8"/>
</g>
</g>
<g id="text_16">
<!-- 7.5 -->
<g transform="translate(67.096875 173.326819) scale(0.1 -0.1)">
<use href="#DejaVuSans-37"/>
<use href="#DejaVuSans-2e" transform="translate(63.623047 0)"/>
<use href="#DejaVuSans-35" transform="translate(95.410156 0)"/>
</g>
</g>
</g>
<g id="ytick_5">
<g id="line2d_33">
<path d="M 90.3600 145.0800 L 648.3600 145.0800" clip-path="url(#pd1b93877dd)" style="fill: none; stroke: #b0b0b0; stroke-width: 0.8; stroke-linecap: square"/>
</g>
<g id="line2d_34">
<g>
<use href="#m5d545ce8f8" x="90.3600" y="145.0800" style="stroke: #000000; stroke-width: 0.8"/>
</g>
</g>
<g id="text_17">
<!-- 10.0 -->
<g transform="translate(60.734375 148.411219) scale(0.1 -0.1)">
<use href="#DejaVuSans-31"/>
<use href="#DejaVuSans-30" transform="translate(63.623047 0)"/>
<use href="#DejaVuSans-2e" transform="translate(127.246094 0)"/>
<use href="#DejaVuSans-30" transform="translate(159.033203 0)"/>
</g>
</g>
</g>
<g id="ytick_6">
<g id="line2d_35">
<path d="M 90.3600 119.8800 L 648.3600 119.8800" clip-path="url(#pd1b93877dd)" style="fill: none; stroke: #b0b0b0; stroke-width: 0.8; stroke-linecap: square"/>
</g>
<g id="line2d_36">
<g>
<use href="#m5d545ce8f8" x="90.3600" y="119.8800" style="stroke: #000000; stroke-width: 0.8"/>
</g>
</g>
<g id="text_18">
<!-- 12.5 -->
<g transform="translate(60.734375 123.495619) scale(0.1 -0.1)">
<use href="#DejaVuSans-31"/>
<use href="#DejaVuSans-32" transform="translate(63.623047 0)"/>
<use href="#DejaVuSans-2e" transform="translate(127.246094 0)"/>
<use href="#DejaVuSans-35" transform="translate(159.033203 0)"/>
</g>
</g>
</g>
<g id="ytick_7">
<g id="line2d_37">
<path d="M 90.3600 95.4000 L 648.3600 95.4000" clip-path="url(#pd1b93877dd)" style="fill: none; stroke: #b0b0b0; stroke-width: 0.8; stroke-linecap: square"/>
</g>
<g id="line2d_38">
<g>
<use href="#m5d545ce8f8" x="90.3600" y="95.4000" style="stroke: #000000; stroke-width: 0.8"/>
</g>
</g>
<g id="text_19">
<!-- 15.0 -->
<g transform="translate(60.734375 98.580019) scale(0.1 -0.1)">
<use href="#DejaVuSans-31"/>
<use href="#DejaVuSans-35" transform="translate(63.623047 0)"/>
<use href="#DejaVuSans-2e" transform="translate(127.246094 0)"/>
<use href="#DejaVuSans-30" transform="translate(159.033203 0)"/>
</g>
</g>
</g>
<g id="ytick_8">
<g id="line2d_39">
<path d="M 90.3600 70.2000 L 648.3600 70.2000" clip-path="url(#pd1b93877dd)" style="fill: none; stroke: #b0b0b0; stroke-width: 0.8; stroke-linecap: square"/>
</g>
<g id="line2d_40">
<g>
<use href="#m5d545ce8f8" x="90.3600" y="70.2000" style="stroke: #000000; stroke-width: 0.8"/>
</g>
</g>
<g id="text_20">
<!-- 17.5 -->
<g transform="translate(60.734375 73.664419) scale(0.1 -0.1)">
<use href="#DejaVuSans-31"/>
<use href="#DejaVuSans-37" transform="translate(63.623047 0)"/>
<use href="#DejaVuSans-2e" transform="translate(127.246094 0)"/>
<use href="#DejaVuSans-35" transform="translate(159.033203 0)"/>
</g>
</g>
</g>
<g id="text_21">
<!-- BC concentration (ng m$^{-3}$) -->
<g transform="translate(51.494375 246.740000) rotate(-90) scale(0.14 -0.14)">
<defs>
<path id="DejaVuSans-42" d="M 1259 2228 
L 1259 519 
L 2272 519 
Q 2781 519 3026 730 
Q 3272 941 3272 1375 
Q 3272 1813 3026 2020 
Q 2781 2228 2272 2228 
L 1259 2228 
z
M 1259 4147 
L 1259 2741 
L 2194 2741 
Q 2656 2741 2882 2914 
Q 3109 3088 3109 3444 
Q 3109 3797 2882 3972 
Q 2656 4147 2194 4147 
L 1259 4147 
z
M 628 4666 
L 2241 4666 
Q 2963 4666 3353 4366 
Q 3744 4066 3744 3513 
Q 3744 3084 3544 2831 
Q 3344 2578 2956 2516 
Q 3422 2416 3680 2098 
Q 3938 1781 3938 1306 
Q 3938 681 3513 340 
Q 3088 0 2303 0 
L 628 0 
L 628 4666 
z
" transform="scale(0.015625)"/>
<path id="DejaVuSans-43" d="M 4122 4306 
L 4122 3641 
Q 3803 3938 3442 4084 
Q 3081 4231 2675 4231 
Q 1875 4231 1450 3742 
Q 1025 3253 1025 2328 
Q 1025 1406 1450 917 
Q 1875 428 2675 428 
Q 3081 428 3442 575 
Q 3803 722 4122 1019 
L 4122 359 
Q 3791 134 3420 21 
Q 3050 -91 2638 -91 
Q 1578 -91 968 557 
Q 359 1206 359 2328 
Q 359 3453 968 4101 
Q 1578 4750 2638 4750 
Q 3056 4750 3426 4639 
Q 3797 4528 4122 4306 
z
" transform="scale(0.015625)"/>
<path id="DejaVuSans-20" transform="scale(0.015625)"/>
<path id="DejaVuSans-63" d="M 3122 3366 
L 3122 2828 
Q 2878 2963 2633 3030 
Q 2388 3097 2138 3097 
Q 1578 3097 1268 2742 
Q 959 2388 959 1747 
Q 959 1106 1268 751 
Q 1578 397 2138 397 
Q 2388 397 2633 464 
Q 2878 531 3122 666 
L 3122 134 
Q 2881 22 2623 -34 
Q 2366 -91 2075 -91 
Q 1284 -91 818 406 
Q 353 903 353 1747 
Q 353 2603 823 3093 
Q 1294 3584 2113 3584 
Q 2378 3584 2631 3529 
Q 2884 3475 3122 3366 
z
" transform="scale(0.015625)"/>
<path id="DejaVuSans-6f" d="M 1959 3097 
Q 1497 3097 1228 2736 
Q 959 2375 959 1747 
Q 959 1119 1226 758 
Q 1494 397 1959 397 
Q 2419 397 2687 759 
Q 2956 1122 2956 1747 
Q 2956 2369 2687 2733 
Q 2419 3097 1959 3097 
z
M 1959 3584 
Q 2709 3584 3137 3096 
Q 3566 2609 3566 1747 
Q 3566 888 3137 398 
Q 2709 -91 1959 -91 
Q 1206 -91 779 398 
Q 353 888 353 1747 
Q 353 2609 779 3096 
Q 1206 3584 1959 3584 
z
" transform="scale(0.015625)"/>
<path id="DejaVuSans-65" d="M 3597 1894 
L 3597 1613 
L 953 1613 
Q 991 1019 1311 708 
Q 1631 397 2203 397 
Q 2534 397 2845 478 
Q 3156 559 3463 722 
L 3463 178 
Q 3153 47 2828 -22 
Q 2503 -91 2169 -91 
Q 1331 -91 842 396 
Q 353 884 353 1716 
Q 353 2575 817 3079 
Q 1281 3584 2069 3584 
Q 2775 3584 3186 3129 
Q 3597 2675 3597 1894 
z
M 3022 2063 
Q 3016 2534 2758 2815 
Q 2500 3097 2075 3097 
Q 1594 3097 1305 2825 
Q 1016 2553 972 2059 
L 3022 2063 
z
" transform="scale(0.015625)"/>
<path id="DejaVuSans-74" d="M 1172 4494 
L 1172 3500 
L 2356 3500 
L 2356 3053 
L 1172 3053 
L 1172 1153 
Q 1172 725 1289 603 
Q 1406 481 1766 481 
L 2356 481 
L 2356 0 
L 1766 0 
Q 1100 0 847 248 
Q 594 497 594 1153 
L 594 3053 
L 172 3053 
L 172 3500 
L 594 3500 
L 594 4494 
L 1172 4494 
z
" transform="scale(0.015625)"/>
<path id="DejaVuSans-69" d="M 603 3500 
L 1178 3500 
L 1178 0 
L 603 0 
L 603 3500 
z
M 603 4863 
L 1178 4863 
L 1178 4134 
L 603 4134 
L 603 4863 
z
" transform="scale(0.015625)"/>
<path id="DejaVuSans-28" d="M 1984 4856 
Q 1566 4138 1362 3434 
Q 1159 2731 1159 2009 
Q 1159 1288 1364 580 
Q 1569 -128 1984 -844 
L 1484 -844 
Q 1016 -109 783 600 
Q 550 1309 550 2009 
Q 550 2706 781 3412 
Q 1013 4119 1484 4856 
L 1984 4856 
z
" transform="scale(0.015625)"/>
<path id="DejaVuSans-67" d="M 2906 1791 
Q 2906 2416 2648 2759 
Q 2391 3103 1925 3103 
Q 1463 3103 1205 2759 
Q 947 2416 947 1791 
Q 947 1169 1205 825 
Q 1463 481 1925 481 
Q 2391 481 2648 825 
Q 2906 1169 2906 1791 
z
M 3481 434 
Q 3481 -459 3084 -895 
Q 2688 -1331 1869 -1331 
Q 1566 -1331 1297 -1286 
Q 1028 -1241 775 -1147 
L 775 -588 
Q 1028 -725 1275 -790 
Q 1522 -856 1778 -856 
Q 2344 -856 2625 -561 
Q 2906 -266 2906 331 
L 2906 616 
Q 2728 306 2450 153 
Q 2172 0 1784 0 
Q 1141 0 747 490 
Q 353 981 353 1791 
Q 353 2603 747 3093 
Q 1141 3584 1784 3584 
Q 2172 3584 2450 3431 
Q 2728 3278 2906 2969 
L 2906 3500 
L 3481 3500 
L 3481 434 
z
" transform="scale(0.015625)"/>
<path id="DejaVuSans-6d" d="M 3328 2828 
Q 3544 3216 3844 3400 
Q 4144 3584 4550 3584 
Q 5097 3584 5394 3201 
Q 5691 2819 5691 2113 
L 5691 0 
L 5113 0 
L 5113 2094 
Q 5113 2597 4934 2840 
Q 4756 3084 4391 3084 
Q 3944 3084 3684 2787 
Q 3425 2491 3425 1978 
L 3425 0 
L 2847 0 
L 2847 2094 
Q 2847 2600 2669 2842 
Q 2491 3084 2119 3084 
Q 1678 3084 1418 2786 
Q 1159 2488 1159 1978 
L 1159 0 
L 581 0 
L 581 3500 
L 1159 3500 
L 1159 2956 
Q 1356 3278 1631 3431 
Q 1906 3584 2284 3584 
Q 2666 3584 2933 3390 
Q 3200 3197 3328 2828 
z
" transform="scale(0.015625)"/>
<path id="DejaVuSans-2212" d="M 678 2272 
L 4684 2272 
L 4684 1741 
L 678 1741 
L 678 2272 
z
" transform="scale(0.015625)"/>
<path id="DejaVuSans-29" d="M 513 4856 
L 1013 4856 
Q 1481 4119 1714 3412 
Q 1947 2706 1947 2009 
Q 1947 1309 1714 600 
Q 1481 -109 1013 -844 
L 513 -844 
Q 928 -128 1133 580 
Q 1338 1288 1338 2009 
Q 1338 2731 1133 3434 
Q 928 4138 513 4856 
z
" transform="scale(0.015625)"/>
</defs>
<use href="#DejaVuSans-42" transform="translate(0 0.765625)"/>
<use href="#DejaVuSans-43" transform="translate(68.603516 0.765625)"/>
<use href="#DejaVuSans-20" transform="translate(138.427734 0.765625)"/>
<use href="#DejaVuSans-63" transform="translate(170.214844 0.765625)"/>
<use href="#DejaVuSans-6f" transform="translate(225.195312 0.765625)"/>
<use href="#DejaVuSans-6e" transform="translate(286.376953 0.765625)"/>
<use href="#DejaVuSans-63" transform="translate(349.755859 0.765625)"/>
<use href="#DejaVuSans-65" transform="translate(404.736328 0.765625)"/>
<use href="#DejaVuSans-6e" transform="translate(466.259766 0.765625)"/>
<use href="#DejaVuSans-74" transform="translate(529.638672 0.765625)"/>
<use href="#DejaVuSans-72" transform="translate(568.847656 0.765625)"/>
<use href="#DejaVuSans-61" transform="translate(609.960938 0.765625)"/>
<use href="#DejaVuSans-74" transform="translate(671.240234 0.765625)"/>
<use href="#DejaVuSans-69" transform="translate(710.449219 0.765625)"/>
<use href="#DejaVuSans-6f" transform="translate(738.232422 0.765625)"/>
<use href="#DejaVuSans-6e" transform="translate(799.414062 0.765625)"/>
<use href="#DejaVuSans-20" transform="translate(862.792969 0.765625)"/>
<use href="#DejaVuSans-28" transform="translate(894.580078 0.765625)"/>
<use href="#DejaVuSans-6e" transform="translate(933.59375 0.765625)"/>
<use href="#DejaVuSans-67" transform="translate(996.972656 0.765625)"/>
<use href="#DejaVuSans-20" transform="translate(1060.449219 0.765625)"/>
<use href="#DejaVuSans-6d" transform="translate(1092.236328 0.765625)"/>
<use href="#DejaVuSans-2212" transform="translate(1190.605469 39.046875) scale(0.7)"/>
<use href="#DejaVuSans-33" transform="translate(1249.257812 39.046875) scale(0.7)"/>
<use href="#DejaVuSans-29" transform="translate(1296.52832 0.765625)"/>
</g>
</g>
</g>
<g id="text_22">
<!-- Age contribution to BC concentrations (ECLIPSEv6 and CAMS) -->
<g transform="translate(183.8475 45.84) scale(0.12 -0.12)">
<defs>
<path id="DejaVuSans-62" d="M 3116 1747 
Q 3116 2381 2855 2742 
Q 2594 3103 2138 3103 
Q 1681 3103 1420 2742 
Q 1159 2381 1159 1747 
Q 1159 1113 1420 752 
Q 1681 391 2138 391 
Q 2594 391 2855 752 
Q 3116 1113 3116 1747 
z
M 1159 2969 
Q 1341 3281 1617 3432 
Q 1894 3584 2278 3584 
Q 2916 3584 3314 3078 
Q 3713 2572 3713 1747 
Q 3713 922 3314 415 
Q 2916 -91 2278 -91 
Q 1894 -91 1617 61 
Q 1341 213 1159 525 
L 1159 0 
L 581 0 
L 581 4863 
L 1159 4863 
L 1159 2969 
z
" transform="scale(0.015625)"/>
<path id="DejaVuSans-73" d="M 2834 3397 
L 2834 2853 
Q 2591 2978 2328 3040 
Q 2066 3103 1784 3103 
Q 1356 3103 1142 2972 
Q 928 2841 928 2578 
Q 928 2378 1081 2264 
Q 1234 2150 1697 2047 
L 1894 2003 
Q 2506 1872 2764 1633 
Q 3022 1394 3022 966 
Q 3022 478 2636 193 
Q 2250 -91 1575 -91 
Q 1294 -91 989 -36 
Q 684 19 347 128 
L 347 722 
Q 666 556 975 473 
Q 1284 391 1588 391 
Q 1994 391 2212 530 
Q 2431 669 2431 922 
Q 2431 1156 2273 1281 
Q 2116 1406 1581 1522 
L 1381 1569 
Q 847 1681 609 1914 
Q 372 2147 372 2553 
Q 372 3047 722 3315 
Q 1072 3584 1716 3584 
Q 2034 3584 2315 3537 
Q 2597 3491 2834 3397 
z
" transform="scale(0.015625)"/>
<path id="DejaVuSans-45" d="M 628 4666 
L 3578 4666 
L 3578 4134 
L 1259 4134 
L 1259 2753 
L 3481 2753 
L 3481 2222 
L 1259 2222 
L 1259 531 
L 3634 531 
L 3634 0 
L 628 0 
L 628 4666 
z
" transform="scale(0.015625)"/>
<path id="DejaVuSans-4c" d="M 628 4666 
L 1259 4666 
L 1259 531 
L 3531 531 
L 3531 0 
L 628 0 
L 628 4666 
z
" transform="scale(0.015625)"/>
<path id="DejaVuSans-49" d="M 628 4666 
L 1259 4666 
L 1259 0 
L 628 0 
L 628 4666 
z
" transform="scale(0.015625)"/>
<path id="DejaVuSans-50" d="M 1259 4147 
L 1259 2394 
L 2053 2394 
Q 2494 2394 2734 2622 
Q 2975 2850 2975 3272 
Q 2975 3691 2734 3919 
Q 2494 4147 2053 4147 
L 1259 4147 
z
M 628 4666 
L 2053 4666 
Q 2838 4666 3239 4311 
Q 3641 3956 3641 3272 
Q 3641 2581 3239 2228 
Q 2838 1875 2053 1875 
L 1259 1875 
L 1259 0 
L 628 0 
L 628 4666 
z
" transform="scale(0.015625)"/>
<path id="DejaVuSans-53" d="M 3425 4513 
L 3425 3897 
Q 3066 4069 2747 4153 
Q 2428 4238 2131 4238 
Q 1616 4238 1336 4038 
Q 1056 3838 1056 3469 
Q 1056 3159 1242 3001 
Q 1428 2844 1947 2747 
L 2328 2669 
Q 3034 2534 3370 2195 
Q 3706 1856 3706 1288 
Q 3706 609 3251 259 
Q 2797 -91 1919 -91 
Q 1588 -91 1214 -16 
Q 841 59 441 206 
L 441 856 
Q 825 641 1194 531 
Q 1563 422 1919 422 
Q 2459 422 2753 634 
Q 3047 847 3047 1241 
Q 3047 1584 2836 1778 
Q 2625 1972 2144 2069 
L 1759 2144 
Q 1053 2284 737 2584 
Q 422 2884 422 3419 
Q 422 4038 858 4394 
Q 1294 4750 2059 4750 
Q 2388 4750 2728 4690 
Q 3069 4631 3425 4513 
z
" transform="scale(0.015625)"/>
<path id="DejaVuSans-76" d="M 191 3500 
L 800 3500 
L 1894 563 
L 2988 3500 
L 3597 3500 
L 2284 0 
L 1503 0 
L 191 3500 
z
" transform="scale(0.015625)"/>
<path id="DejaVuSans-64" d="M 2906 2969 
L 2906 4863 
L 3481 4863 
L 3481 0 
L 2906 0 
L 2906 525 
Q 2725 213 2448 61 
Q 2172 -91 1784 -91 
Q 1150 -91 751 415 
Q 353 922 353 1747 
Q 353 2572 751 3078 
Q 1150 3584 1784 3584 
Q 2172 3584 2448 3432 
Q 2725 3281 2906 2969 
z
M 947 1747 
Q 947 1113 1208 752 
Q 1469 391 1925 391 
Q 2381 391 2643 752 
Q 2906 1113 2906 1747 
Q 2906 2381 2643 2742 
Q 2381 3103 1925 3103 
Q 1469 3103 1208 2742 
Q 947 2381 947 1747 
z
" transform="scale(0.015625)"/>
</defs>
<use href="#DejaVuSans-41"/>
<use href="#DejaVuSans-67" transform="translate(68.408203 0)"/>
<use href="#DejaVuSans-65" transform="translate(131.884766 0)"/>
<use href="#DejaVuSans-20" transform="translate(193.408203 0)"/>
<use href="#DejaVuSans-63" transform="translate(225.195312 0)"/>
<use href="#DejaVuSans-6f" transform="translate(280.175781 0)"/>
<use href="#DejaVuSans-6e" transform="translate(341.357422 0)"/>
<use href="#DejaVuSans-74" transform="translate(404.736328 0)"/>
<use href="#DejaVuSans-72" transform="translate(443.945312 0)"/>
<use href="#DejaVuSans-69" transform="translate(485.058594 0)"/>
<use href="#DejaVuSans-62" transform="translate(512.841797 0)"/>
<use href="#DejaVuSans-75" transform="translate(576.318359 0)"/>
<use href="#DejaVuSans-74" transform="translate(639.697266 0)"/>
<use href="#DejaVuSans-69" transform="translate(678.90625 0)"/>
<use href="#DejaVuSans-6f" transform="translate(706.689453 0)"/>
<use href="#DejaVuSans-6e" transform="translate(767.871094 0)"/>
<use href="#DejaVuSans-20" transform="translate(831.25 0)"/>
<use href="#DejaVuSans-74" transform="translate(863.037109 0)"/>
<use href="#DejaVuSans-6f" transform="translate(902.246094 0)"/>
<use href="#DejaVuSans-20" transform="translate(963.427734 0)"/>
<use href="#DejaVuSans-42" transform="translate(995.214844 0)"/>
<use href="#DejaVuSans-43" transform="translate(1062.068359 0)"/>
<use href="#DejaVuSans-20" transform="translate(1131.892578 0)"/>
<use href="#DejaVuSans-63" transform="translate(1163.679688 0)"/>
<use href="#DejaVuSans-6f" transform="translate(1218.660156 0)"/>
<use href="#DejaVuSans-6e" transform="translate(1279.841797 0)"/>
<use href="#DejaVuSans-63" transform="translate(1343.220703 0)"/>
<use href="#DejaVuSans-65" transform="translate(1398.201172 0)"/>
<use href="#DejaVuSans-6e" transform="translate(1459.724609 0)"/>
<use href="#DejaVuSans-74" transform="translate(1523.103516 0)"/>
<use href="#DejaVuSans-72" transform="translate(1562.3125 0)"/>
<use href="#DejaVuSans-61" transform="translate(1603.425781 0)"/>
<use href="#DejaVuSans-74" transform="translate(1664.705078 0)"/>
<use href="#DejaVuSans-69" transform="translate(1703.914062 0)"/>
<use href="#DejaVuSans-6f" transform="translate(1731.697266 0)"/>
<use href="#DejaVuSans-6e" transform="translate(1792.878906 0)"/>
<use href="#DejaVuSans-73" transform="translate(1856.257812 0)"/>
<use href="#DejaVuSans-20" transform="translate(1908.357422 0)"/>
<use href="#DejaVuSans-28" transform="translate(1940.144531 0)"/>
<use href="#DejaVuSans-45" transform="translate(1979.158203 0)"/>
<use href="#DejaVuSans-43" transform="translate(2042.341797 0)"/>
<use href="#DejaVuSans-4c" transform="translate(2112.166016 0)"/>
<use href="#DejaVuSans-49" transform="translate(2167.878906 0)"/>
<use href="#DejaVuSans-50" transform="translate(2197.371094 0)"/>
<use href="#DejaVuSans-53" transform="translate(2257.673828 0)"/>
<use href="#DejaVuSans-45" transform="translate(2321.150391 0)"/>
<use href="#DejaVuSans-76" transform="translate(2384.333984 0)"/>
<use href="#DejaVuSans-36" transform="translate(2443.513672 0)"/>
<use href="#DejaVuSans-20" transform="translate(2507.136719 0)"/>
<use href="#DejaVuSans-61" transform="translate(2538.923828 0)"/>
<use href="#DejaVuSans-6e" transform="translate(2600.203125 0)"/>
<use href="#DejaVuSans-64" transform="translate(2663.582031 0)"/>
<use href="#DejaVuSans-20" transform="translate(2727.058594 0)"/>
<use href="#DejaVuSans-43" transform="translate(2758.845703 0)"/>
<use href="#DejaVuSans-41" transform="translate(2828.669922 0)"/>
<use href="#DejaVuSans-4d" transform="translate(2897.078125 0)"/>
<use href="#DejaVuSans-53" transform="translate(2983.357422 0)"/>
<use href="#DejaVuSans-29" transform="translate(3046.833984 0)"/>
</g>
</g>
</g>
<g id="axes_2">
<g id="patch_7">
<path d="M 90 349.2 
L 648 349.2 
L 648 318.96 
L 90 318.96 
z
" style="fill: #ffffff"/>
</g>
<g id="QuadMesh_1" shape-rendering="crispEdges">
<path d="M 90 349.2 
L 90 318.96 
L 108.6 318.96 
L 108.6 349.2 
L 90 349.2 
" clip-path="url(#pf18bdddc70)" style="fill: #a70b44"/>
<path d="M 108.6 349.2 
L 108.6 318.96 
L 127.2 318.96 
L 127.2 349.2 
L 108.6 349.2 
" clip-path="url(#pf18bdddc70)" style="fill: #b81e48"/>
<path d="M 127.2 349.2 
L 127.2 318.96 
L 145.8 318.96 
L 145.8 349.2 
L 127.2 349.2 
" clip-path="url(#pf18bdddc70)" style="fill: #cb334d"/>
<path d="M 145.8 349.2 
L 145.8 318.96 
L 164.4 318.96 
L 164.4 349.2 
L 145.8 349.2 
" clip-path="url(#pf18bdddc70)" style="fill: #d9444d"/>
<path d="M 164.4 349.2 
L 164.4 318.96 
L 183 318.96 
L 183 349.2 
L 164.4 349.2 
" clip-path="url(#pf18bdddc70)" style="fill: #e45549"/>
<path d="M 183 349.2 
L 183 318.96 
L 201.6 318.96 
L 201.6 349.2 
L 183 349.2 
" clip-path="url(#pf18bdddc70)" style="fill: #ee6445"/>
<path d="M 201.6 349.2 
L 201.6 318.96 
L 220.2 318.96 
L 220.2 349.2 
L 201.6 349.2 
" clip-path="url(#pf18bdddc70)" style="fill: #f57748"/>
<path d="M 220.2 349.2 
L 220.2 318.96 
L 238.8 318.96 
L 238.8 349.2 
L 220.2 349.2 
" clip-path="url(#pf18bdddc70)" style="fill: #f98e52"/>
<path d="M 238.8 349.2 
L 238.8 318.96 
L 257.4 318.96 
L 257.4 349.2 
L 238.8 349.2 
" clip-path="url(#pf18bdddc70)" style="fill: #fba35c"/>
<path d="M 257.4 349.2 
L 257.4 318.96 
L 276 318.96 
L 276 349.2 
L 257.4 349.2 
" clip-path="url(#pf18bdddc70)" style="fill: #fdb768"/>
<path d="M 276 349.2 
L 276 318.96 
L 294.6 318.96 
L 294.6 349.2 
L 276 349.2 
" clip-path="url(#pf18bdddc70)" style="fill: #fdc776"/>
<path d="M 294.6 349.2 
L 294.6 318.96 
L 313.2 318.96 
L 313.2 349.2 
L 294.6 349.2 
" clip-path="url(#pf18bdddc70)" style="fill: #fed884"/>
<path d="M 313.2 349.2 
L 313.2 318.96 
L 331.8 318.96 
L 331.8 349.2 
L 313.2 349.2 
" clip-path="url(#pf18bdddc70)" style="fill: #fee593"/>
<path d="M 331.8 349.2 
L 331.8 318.96 
L 350.4 318.96 
L 350.4 349.2 
L 331.8 349.2 
" clip-path="url(#pf18bdddc70)" style="fill: #fff0a6"/>
<path d="M 350.4 349.2 
L 350.4 318.96 
L 369 318.96 
L 369 349.2 
L 350.4 349.2 
" clip-path="url(#pf18bdddc70)" style="fill: #fffab6"/>
<path d="M 369 349.2 
L 369 318.96 
L 387.6 318.96 
L 387.6 349.2 
L 369 349.2 
" clip-path="url(#pf18bdddc70)" style="fill: #fbfdb8"/>
<path d="M 387.6 349.2 
L 387.6 318.96 
L 406.2 318.96 
L 406.2 349.2 
L 387.6 349.2 
" clip-path="url(#pf18bdddc70)" style="fill: #f3faac"/>
<path d="M 406.2 349.2 
L 406.2 318.96 
L 424.8 318.96 
L 424.8 349.2 
L 406.2 349.2 
" clip-path="url(#pf18bdddc70)" style="fill: #eaf79e"/>
<path d="M 424.8 349.2 
L 424.8 318.96 
L 443.4 318.96 
L 443.4 349.2 
L 424.8 349.2 
" clip-path="url(#pf18bdddc70)" style="fill: #ddf19a"/>
<path d="M 443.4 349.2 
L 443.4 318.96 
L 462 318.96 
L 462 349.2 
L 443.4 349.2 
" clip-path="url(#pf18bdddc70)" style="fill: #c8e99e"/>
<path d="M 462 349.2 
L 462 318.96 
L 480.6 318.96 
L 480.6 349.2 
L 462 349.2 
" clip-path="url(#pf18bdddc70)" style="fill: #b5e1a2"/>
<path d="M 480.6 349.2 
L 480.6 318.96 
L 499.2 318.96 
L 499.2 349.2 
L 480.6 349.2 
" clip-path="url(#pf18bdddc70)" style="fill: #9fd8a4"/>
<path d="M 499.2 349.2 
L 499.2 318.96 
L 517.8 318.96 
L 517.8 349.2 
L 499.2 349.2 
" clip-path="url(#pf18bdddc70)" style="fill: #86cfa5"/>
<path d="M 517.8 349.2 
L 517.8 318.96 
L 536.4 318.96 
L 536.4 349.2 
L 517.8 349.2 
" clip-path="url(#pf18bdddc70)" style="fill: #71c6a5"/>
<path d="M 536.4 349.2 
L 536.4 318.96 
L 555 318.96 
L 555 349.2 
L 536.4 349.2 
" clip-path="url(#pf18bdddc70)" style="fill: #5cb7aa"/>
<path d="M 555 349.2 
L 555 318.96 
L 573.6 318.96 
L 573.6 349.2 
L 555 349.2 
" clip-path="url(#pf18bdddc70)" style="fill: #4ba4b1"/>
<path d="M 573.6 349.2 
L 573.6 318.96 
L 592.2 318.96 
L 592.2 349.2 
L 573.6 349.2 
" clip-path="url(#pf18bdddc70)" style="fill: #3990ba"/>
<path d="M 592.2 349.2 
L 592.2 318.96 
L 610.8 318.96 
L 610.8 349.2 
L 592.2 349.2 
" clip-path="url(#pf18bdddc70)" style="fill: #3a7eb8"/>
<path d="M 610.8 349.2 
L 610.8 318.96 
L 629.4 318.96 
L 629.4 349.2 
L 610.8 349.2 
" clip-path="url(#pf18bdddc70)" style="fill: #496aaf"/>
<path d="M 629.4 349.2 
L 629.4 318.96 
L 648 318.96 
L 648 349.2 
L 629.4 349.2 
" clip-path="url(#pf18bdddc70)" style="fill: #5758a6"/>
</g>
<g id="matplotlib.axis_3">
<g id="xtick_13">
<g id="line2d_41">
<g>
<use href="#m1504cfccaf" x="90.3600" y="349.5600" style="stroke: #000000; stroke-width: 0.8"/>
</g>
</g>
<g id="text_23">
<!-- 0 -->
<g transform="translate(86.81875 363.798437) scale(0.1 -0.1)">
<use href="#DejaVuSans-30"/>
</g>
</g>
</g>
<g id="xtick_14">
<g id="line2d_42">
<g>
<use href="#m1504cfccaf" x="164.5200" y="349.5600" style="stroke: #000000; stroke-width: 0.8"/>
</g>
</g>
<g id="text_24">
<!-- 4 -->
<g transform="translate(161.21875 363.798437) scale(0.1 -0.1)">
<use href="#DejaVuSans-34"/>
</g>
</g>
</g>
<g id="xtick_15">
<g id="line2d_43">
<g>
<use href="#m1504cfccaf" x="239.4000" y="349.5600" style="stroke: #000000; stroke-width: 0.8"/>
</g>
</g>
<g id="text_25">
<!-- 8 -->
<g transform="translate(235.61875 363.798437) scale(0.1 -0.1)">
<use href="#DejaVuSans-38"/>
</g>
</g>
</g>
<g id="xtick_16">
<g id="line2d_44">
<g>
<use href="#m1504cfccaf" x="313.5600" y="349.5600" style="stroke: #000000; stroke-width: 0.8"/>
</g>
</g>
<g id="text_26">
<!-- 12 -->
<g transform="translate(306.8375 363.798437) scale(0.1 -0.1)">
<use href="#DejaVuSans-31"/>
<use href="#DejaVuSans-32" transform="translate(63.623047 0)"/>
</g>
</g>
</g>
<g id="xtick_17">
<g id="line2d_45">
<g>
<use href="#m1504cfccaf" x="387.7200" y="349.5600" style="stroke: #000000; stroke-width: 0.8"/>
</g>
</g>
<g id="text_27">
<!-- 16 -->
<g transform="translate(381.2375 363.798437) scale(0.1 -0.1)">
<use href="#DejaVuSans-31"/>
<use href="#DejaVuSans-36" transform="translate(63.623047 0)"/>
</g>
</g>
</g>
<g id="xtick_18">
<g id="line2d_46">
<g>
<use href="#m1504cfccaf" x="462.6000" y="349.5600" style="stroke: #000000; stroke-width: 0.8"/>
</g>
</g>
<g id="text_28">
<!-- 20 -->
<g transform="translate(455.6375 363.798437) scale(0.1 -0.1)">
<use href="#DejaVuSans-32"/>
<use href="#DejaVuSans-30" transform="translate(63.623047 0)"/>
</g>
</g>
</g>
<g id="xtick_19">
<g id="line2d_47">
<g>
<use href="#m1504cfccaf" x="536.7600" y="349.5600" style="stroke: #000000; stroke-width: 0.8"/>
</g>
</g>
<g id="text_29">
<!-- 24 -->
<g transform="translate(530.0375 363.798437) scale(0.1 -0.1)">
<use href="#DejaVuSans-32"/>
<use href="#DejaVuSans-34" transform="translate(63.623047 0)"/>
</g>
</g>
</g>
<g id="xtick_20">
<g id="line2d_48">
<g>
<use href="#m1504cfccaf" x="610.9200" y="349.5600" style="stroke: #000000; stroke-width: 0.8"/>
</g>
</g>
<g id="text_30">
<!-- 28 -->
<g transform="translate(604.4375 363.798437) scale(0.1 -0.1)">
<use href="#DejaVuSans-32"/>
<use href="#DejaVuSans-38" transform="translate(63.623047 0)"/>
</g>
</g>
</g>
</g>
<g id="matplotlib.axis_4"/>
<g id="LineCollection_1"/>
<g id="patch_8">
<path d="M 90.3600 349.5600 L 90.3600 334.4400 L 90.3600 319.3200 L 648.3600 319.3200 L 648.3600 334.4400 L 648.3600 349.5600 L 90.3600 349.5600 z" style="fill: none; stroke: #000000; stroke-width: 0.8; stroke-linejoin: miter; stroke-linecap: square"/>
</g>
<g id="text_31">
<!-- Days -->
<g transform="translate(356.521875 337.559375) scale(0.1 -0.1)">
<defs>
<path id="DejaVuSans-44" d="M 1259 4147 
L 1259 519 
L 2022 519 
Q 2988 519 3436 956 
Q 3884 1394 3884 2338 
Q 3884 3275 3436 3711 
Q 2988 4147 2022 4147 
L 1259 4147 
z
M 628 4666 
L 1925 4666 
Q 3281 4666 3915 4102 
Q 4550 3538 4550 2338 
Q 4550 1131 3912 565 
Q 3275 0 1925 0 
L 628 0 
L 628 4666 
z
" transform="scale(0.015625)"/>
</defs>
<use href="#DejaVuSans-44"/>
<use href="#DejaVuSans-61" transform="translate(77.001953 0)"/>
<use href="#DejaVuSans-79" transform="translate(138.28125 0)"/>
<use href="#DejaVuSans-73" transform="translate(197.460938 0)"/>
</g>
</g>
</g>
</g>
<defs>
<clipPath id="pd1b93877dd">
<rect x="90" y="51.84" width="558" height="201.6"/>
</clipPath>
<clipPath id="pf18bdddc70">
<rect x="90" y="318.96" width="558" height="30.24"/>
</clipPath>
</defs>
</svg>

</body></html>
